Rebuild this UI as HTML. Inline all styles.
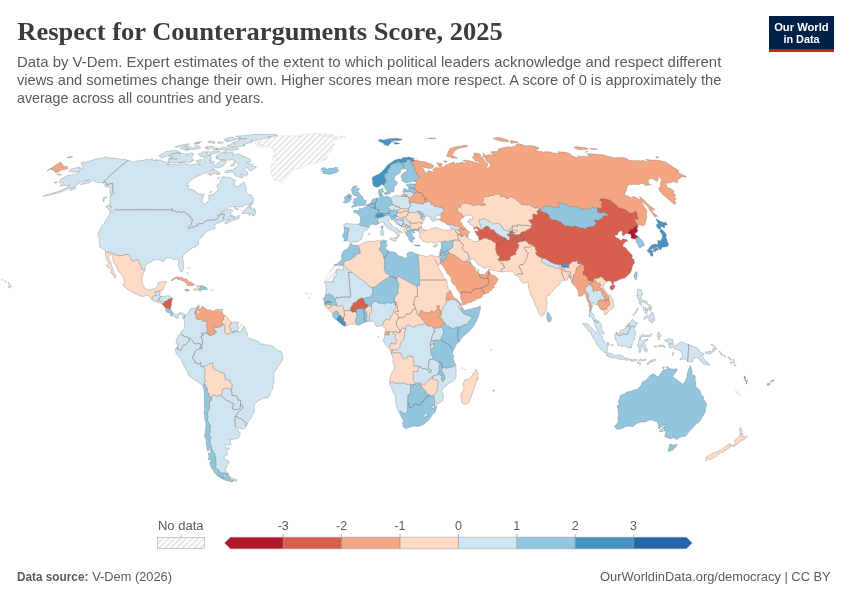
<!DOCTYPE html>
<html lang="en"><head><meta charset="utf-8"><title>Respect for Counterarguments Score, 2025</title>
<style>
html,body{margin:0;padding:0;background:#fff}
body{width:850px;height:600px;overflow:hidden;position:relative;font-family:"Liberation Sans",Arial,sans-serif}
svg{position:absolute;left:0;top:0;will-change:transform}
.t{font-family:"Liberation Serif","DejaVu Serif",serif;font-weight:700;fill:#444}
.s{font-family:"Liberation Sans",Arial,sans-serif;fill:#5b5b5b}
</style></head><body>
<svg width="850" height="600" viewBox="0 0 850 600">
<defs>
<pattern id="h" patternUnits="userSpaceOnUse" width="4.15" height="4.15" patternTransform="rotate(45)">
<rect width="4.15" height="4.15" fill="#fff"/><line x1="2.07" y1="-1" x2="2.07" y2="6" stroke="#e1e1e1" stroke-width="1.55"/>
</pattern>
</defs>
<g stroke="#6b6b6b" stroke-width="0.3" stroke-linejoin="round">
<path fill="url(#h)" stroke="#c9c9c9" d="M159.9,290.6 160.3,290.5 161.4,290.5 162.1,289.2 162.5,289.6 162,291.8 161.3,294.4 159.9,296 159.1,296 159.4,294.6 159.6,293.1 159.9,291ZM213.3,289.4 213.7,289.9 213,290.6 211.3,290.6 210,290.6 210,289.5 210.3,289.2 212.2,289.2ZM188.5,274 188.3,275.3 187.4,274 186.6,273.2 187.3,271.7 187.9,271.7ZM189.4,269.6 189.8,268.3 188.7,268 188.9,267 190.5,268 189.8,269.8ZM188.3,268 187.2,268 186.2,268.5 187.3,267.2 188.6,267.5ZM241,323.4 242.2,324.5 243.4,325.6 243.7,326.7 242.3,329.1 241.6,331.1 240.7,332.1 239.6,332.2 239.3,331.5 238.8,331.4 238,332.1 237.1,331.6 237.6,330.5 237.9,329.3 238.3,328.1 237.4,326.6 237.3,324.8 238.5,322.5 239.8,323ZM303.9,134.2 305.1,134.2 306.3,134.2 307.4,134.3 308.6,134.3 309.7,134 310.7,133.7 311.9,133.7 313.1,133.6 314.3,133.6 315.5,133.6 316.9,133.6 318.2,133.6 319.6,133.6 320.9,133.7 322.2,133.7 323.6,133.7 324.9,133.7 326.3,133.8 327.4,133.9 328.6,134.1 329.7,134.3 330.9,134.4 332,134.6 333.2,134.8 334.4,135 333,135.3 331.6,135.6 330.3,135.6 329,135.6 327.7,135.6 326.3,135.6 325.1,135.6 323.8,135.7 322.6,135.7 321.3,135.7 320.1,135.7 318.8,135.8 319.4,136.1 320.6,136 321.9,136 323.1,135.9 324.4,135.9 325.4,136 326.4,136.2 327.4,136.3 328.4,136.4 329.8,136.2 331.2,135.9 332.2,136.5 331.3,137 330.4,137.5 331.6,137.3 332.9,137.1 334.1,136.9 335.5,136.7 336.9,136.6 338.3,136.5 339.7,136.4 341.1,136.2 342.4,136.3 343.8,136.4 345.2,136.5 345.8,137.2 344.6,137.5 343.5,137.7 342.2,137.9 341,138.2 339.8,138.4 338.9,138.8 337.8,138.9 336.6,139 335.5,139 334.3,139.1 335.4,139.1 336.5,139.2 337.6,139.2 336.6,139.9 335.6,140.5 334.1,141.7 333.9,142.8 333.6,143.9 334.4,144.5 335.1,145.1 333.9,145.2 332.7,145.2 331.4,145.5 330.1,145.8 331.4,146.4 332.6,146.9 332.6,148.6 331.8,148.7 330.9,148.8 331.7,149.6 332.6,150.5 331.4,150.6 330.2,150.6 329,150.7 329.9,151.1 330.7,151.5 330,152.3 328.9,152.4 327.7,152.6 326.6,152.6 325.5,152.6 326.3,153.3 327.2,154 327,155 325.5,154.5 324,154.1 323,154.6 324,154.9 325.1,155.2 326,155.8 326.9,156.5 327.2,158.2 325.7,158.4 324.1,158.6 323.1,157.8 322.2,157.2 321.3,156.6 321.5,158 320.4,158.6 319.3,159.1 320.8,159.2 322.2,159.2 323.7,159.3 324.8,159.3 325.9,159.4 324.3,160 322.7,160.6 321.1,161.3 319.4,161.9 317.8,162.4 316.1,163 314.4,163.3 312.7,163.5 311,163.8 310,163.8 309.1,163.8 308.1,164.2 307.1,164.7 305.6,165.8 304,167 302.6,167.6 301.2,168.1 299.8,168.6 298.6,168.7 297.4,169 296.1,169.3 294.8,169.6 293.5,169.8 291.5,171.2 290.9,172.9 289.5,174.4 287.8,175.3 286,176.3 286.1,178.1 284.7,180.1 283,182.4 281.7,182.5 280.4,182.5 279.3,181.6 278.3,180.6 276.5,180.6 274.7,180.6 273.4,179.3 273,177 272,175.5 271.1,174 270.8,172.5 271.4,170.5 270.6,169.4 269.9,168.4 271.3,166.7 270.5,165.9 271.9,164.6 273.3,163.3 274.8,162.9 276.2,162.4 277.3,161.5 278.5,159.8 277.3,160.2 276.2,160.6 275.1,160.9 273.5,161.2 272.6,160.9 271.8,160.5 272.4,159 273.6,157.9 275.2,157.8 276.2,158 277.2,158.2 278.3,158.4 277.2,157.7 276.1,157.1 275,156.3 273.2,156.6 272.2,156.1 273.6,155.1 275,154.1 274.5,153.3 274.1,151.9 273.7,150.8 273.5,149.7 272.7,149.3 272,148.9 272.5,148 271.4,147.6 270.3,147.3 269.2,146.9 268.2,146.8 267.1,146.8 266.1,146.7 264.7,146.7 263.3,146.8 261.9,146.8 260.7,146.9 259.4,146.9 258.1,147 257.5,146.6 256.8,146.3 256,145.7 255.2,145.1 256.7,144.9 258.2,144.7 259.7,144.5 260.7,144.4 261.8,144.4 262.8,144.4 261.6,144.3 260.4,144.2 259.2,144.1 258,144 256.9,143.9 256,143.6 255.1,143.4 254.2,143.1 255.1,142.4 256.7,142.1 258.3,141.9 259.9,141.7 261.5,141.4 263,141.2 264.6,141 266.1,140.8 267.6,140.5 268.8,139.9 267.7,139.6 266.6,139.4 265.5,139.2 267.4,138.5 268.9,138.2 270.4,137.9 271.9,137.7 273.3,137.4 274.5,137.3 275.6,137.2 275.6,136.5 276.8,136.3 278.1,136.2 279.3,136 280.4,136 281.5,135.9 282.6,135.9 283.8,135.8 284.8,135.8 285.9,135.8 287,135.8 288,135.8 288.6,136 289.2,136.3 290.6,136 292.1,135.7 293.5,135.4 294.4,135.6 295.4,135.8 296.4,136 297.3,136 298.2,136.1 299.1,136.3 299.9,136.5 300.8,136.6 299.9,136.3 299,136.1 298,135.8 298.7,135.1 300,134.9 301.3,134.6 302.6,134.4ZM343.6,265.9 343.5,267.9 343.5,269.9 341.7,269.9 339.8,269.8 338,269.8 336.1,269.8 336.1,272 336.1,274.2 336.1,276.5 334,276.7 333.4,278 333.5,279.9 333.7,281.8 331.5,281.8 329.3,281.8 327.1,281.8 324.8,281.8 324.3,282.7 324.6,280.3 325.5,279.6 326.3,278.3 326.1,277.4 327,275.5 328.3,273.9 329,273.5 329.7,271.9 329.8,270.5 330.6,268.9 332.2,268 332.9,266.6 333.6,265.3 335.6,265.3 337.6,265.3 339.6,265.3 341.6,265.3 343.6,265.2ZM740,394.4 740.8,395.6 739.8,396.2 738.8,395.5 737.4,394.3 736.4,392.9 735.3,391.1 735.2,390.2 736.2,390.2 737.2,391.1 738,392 738.6,392.7Z"/>
<path fill="#d1e5f0" d="M151.9,299.6 152.3,298.2 152.1,297.7 153.4,295.6 154.9,295.6 156.4,295.6 156.5,294.7 155.5,293.6 154.5,292.5 155.5,292.5 155.7,291 157.8,291 159.9,291 159.6,293.1 159.4,294.6 159.1,296 159.9,296 160.5,296.5 161.4,296.5 160.2,297.4 159,298.2 159,299.2 158.4,299.9 156.6,301.7 155.3,301.4 154.1,301.2ZM162.1,296.1 164.4,296.4 166.5,295.7 168.8,295.8 170.2,296.2 171.4,297.3 172.8,298.4 172,298.4 169.9,299 168.7,298.9 167.9,300.1 166.7,301.1 165.8,300.9 165.3,301.6 164.2,301.6 164.2,302.9 163.5,303.5 162.8,303.6 162.4,302.8 161.7,302.6 162,301.5 161.3,301.1 160.2,301.4 159.1,300.1 158.4,299.9 159,299.2 159,298.2 160.2,297.4 161.4,296.5ZM173.8,313.5 174.9,314 175.5,314.6 176.6,314.4 177.7,313.8 179.1,313.2 179.9,312.5 181.2,312.6 182.4,313 183.3,313.4 184.1,314.2 184.9,314.9 184.6,315.3 185.1,316.8 184.6,317.6 183.9,317.4 183.5,318.7 182.8,318 182.3,316.5 182.9,315.8 182.4,315.7 182,314.8 180.9,314.1 179.8,314.2 179.3,315.2 178.4,315.8 177.9,315.9 177.6,316.4 178.7,317.8 178,318.2 177.7,318.6 176.6,318.7 176.2,317.1 175.9,317.6 175.2,317.5 174.8,316.4 173.8,316.2 173.2,315.9 172.3,315.9 172.2,316.5 171.9,316.1 172.1,314.6 172.1,313.9 172.7,312.7 173.1,312.6ZM222.6,309.1 223,309.2 222.8,311.2 220.9,311.4 220.5,311.2 221.2,310.5 221.2,309.5ZM186.1,315 187.9,313.2 188.9,312.9 188.9,312 189.5,309.8 190.9,308.6 192.3,308.6 192.5,308 194.3,308.2 196.2,306.9 197.1,306.3 198.4,305.1 199.1,305.2 199.7,305.9 199.2,306.8 197.7,307.2 197,308.5 196.1,309.3 195.4,310.3 195,312.1 194.3,313.7 195.4,313.8 195.7,315 196.2,315.6 196.3,316.7 196,317.6 196.1,318.2 196.6,318.4 197.1,319.3 198.6,319.2 200.1,319.1 201.4,319.4 203,321.6 203.9,321.4 205.6,321.5 206.9,321.2 207.7,321.6 207.2,323.1 206.7,323.9 206.5,325.8 206.9,327.6 207.5,328.3 207.6,328.9 206.4,330.2 207.2,330.8 207.8,331.7 208.5,334.3 208,334.6 207.6,333.1 207,332.3 206.2,333.2 203.9,333.2 201.7,333.1 201.7,334.7 203.1,335 203,336 202.5,335.7 201.2,336.2 201.2,338.1 202.2,339 202.6,340.5 202.6,341.7 202.2,344.1 201.9,346.5 201.7,348.8 200.5,347.5 199.8,347.4 200.5,346.1 201.2,344.7 199.4,343.5 198,343.7 197.2,343.3 195.9,344 194.2,343.6 193.5,342.3 192.8,340.9 191.7,340.2 189.4,337.8 188.8,338 187.8,337.4 186.7,336.5 186,336.9 184.1,336.6 183.5,335.4 183.1,335.5 180.8,334 180.5,333.2 181.4,333 181.3,331.7 181.8,330.7 183,330.5 184,328.9 184.9,327.5 184.1,326.9 184.6,325.4 184.1,323 184.7,322.3 184.4,320.1 183.5,318.7 183.9,317.4 184.6,317.6 185.1,316.8 184.6,315.3 184.9,314.9ZM233.9,322.5 234.2,322 236.1,321.8 237.3,322.2 238.5,322.5 237.3,324.8 237.4,326.6 238.3,328.1 237.9,329.3 237.6,330.5 237.1,331.6 235.7,331 234.6,331.3 233.7,331 233.5,331.8 233.8,332.3 233.6,332.8 232.4,332.6 231,330.4 230.7,328.9 230,328.9 229,327 229.5,325.6 229.4,325 230.8,324.3 231.2,322 232.6,322.2ZM183.1,335.5 183.5,335.4 184.1,336.6 186,336.9 186.7,336.5 187.8,337.4 188.8,338 189.2,340 188.5,341.7 187.2,343.1 186,344.4 184.6,344.9 183.2,345.4 181.9,347.7 181.5,349.5 180.2,350.6 179.2,349.2 178.3,349 177.3,349.2 177.4,347.8 177.6,346.5 178.7,344.6 178.2,343.4 177.4,344.6 175.9,343.5 176.4,342.8 176,340.4 176.8,340 177.2,338.3 178.1,336.7 177.9,335.6 179.2,335 180.8,334ZM177.3,349.2 178.3,349 179.2,349.2 180.2,350.6 181.5,349.5 181.9,347.7 183.2,345.4 184.6,344.9 186,344.4 187.2,343.1 188.5,341.7 189.2,340 188.8,338 189.4,337.8 191.7,340.2 192.8,340.9 193.5,342.3 194.2,343.6 195.9,344 197.2,343.3 198,343.7 199.4,343.5 201.2,344.7 200.5,346.1 199.8,347.4 200.5,347.5 201.7,348.8 199.6,348.7 199.3,349.1 197.4,349.6 196.1,350.5 194.8,351.4 194.7,352.6 194.1,353.5 194.4,354.9 193.1,355.7 193.1,356.8 192.5,357.3 193.6,359.6 194.9,361.2 194.5,362.3 196,362.5 197,363.9 199,364 200.8,362.4 200.8,364.4 200.9,366.4 201.9,366.7 203.2,366.2 204.3,368.4 205.4,370.5 205,371.3 205,373.2 205.2,375.4 204.4,376.7 204.9,377.7 204.4,378.6 205.6,380.8 205,382.2 204.4,383.6 203.9,384.9 202.8,385.6 201.6,384.8 200.4,384.1 200.1,383 197.7,381.7 195.3,380.4 193.1,379 190.9,377.5 189,375.9 187.9,373.8 188.2,373 187.1,371.3 186,369.6 184.7,367.2 183.4,364.8 182.2,362.2 181,359.5 180,358.3 179.2,356.4 177.3,354.7 175.6,353.7 176.3,352.5 175.1,350 175.8,348.2 177.6,346.5 177.4,347.8ZM221.9,392.7 221.8,391.3 222.7,389 224.6,388.6 226.6,388.2 228.7,388.2 230.9,389.6 231,390.4 231.8,391.8 231.9,393.6 232,395.4 233.2,395.6 234.4,395.9 235.3,395.4 236.9,396.1 237.4,396.9 237.8,399.3 238.2,400.3 239,400.4 239.8,400 240.7,400.4 240.8,401.9 240.7,403.4 240.4,404.9 240.3,407.2 238.5,409.3 236.8,409.7 235.5,409.5 234.2,409.3 233.1,408.9 231.9,408.5 232.7,406.6 233.6,404.6 233.1,403.4 231.9,402.9 230.7,402.4 229.2,401.4 227.8,400.5 225.9,400.1 223.6,397.9 221.3,395.8 221.6,394.2ZM236.6,416.4 237.9,417.4 239.2,418.4 240,418.3 241.3,419.1 242.5,420 244.5,421.4 246.1,423.2 245.3,424.5 246.2,425.9 245.5,427.6 244.4,428.3 243.3,429 241.6,428.5 240.5,428.8 238.2,427.7 236.8,427.7 235.2,426.3 235,424.6 235.4,424 234.9,421.4 235,420.1 235,418.7 235.2,416.7ZM231,477.5 232.6,478.3 234.2,479 235.7,479.4 237.2,479.7 236.8,480.9 235,481 233.7,480.2 232.5,480.1 231.5,480.1 230.4,480.1 229.6,478.2 228.8,476.4 228,474.5 229.3,475.7ZM227.8,400.5 229.2,401.4 230.7,402.4 231.9,402.9 233.1,403.4 233.6,404.6 232.7,406.6 231.9,408.5 233.1,408.9 234.2,409.3 235.5,409.5 236.8,409.7 238.5,409.3 240.3,407.2 240.4,404.9 241.4,404.4 242.7,405.9 242.9,408 241.2,409.5 239.9,410.5 238.8,411.8 237.7,413.1 236.5,414.9 235.2,416.7 235,418.7 235,420.1 234.9,421.4 235.4,424 235,424.6 235.2,426.3 235.3,427.7 236.9,428.8 238.5,429.9 238.6,431.7 240.1,432.8 240.3,434.1 239.6,435.8 238.9,437.5 237.5,438.2 236.1,438.9 234.7,439 233.3,439.2 231.9,439.4 230.7,439.3 229.5,439.2 230.3,440.7 230.4,442.6 231.1,444 230.1,444.9 229,445.1 228,445.2 225.7,444.3 225.1,444.9 226.1,447.5 227.8,448.3 228.7,447.5 229.7,448.8 228,449.6 226.8,451.3 227.3,453.8 227.2,455.2 225.3,455.2 224.1,456.5 224.2,458.5 226.8,460.3 228.9,460.9 229,463.1 228,463.9 227.1,464.6 227,466.1 226.9,467.6 225.4,468.6 225.1,469.7 225.9,471 226.7,472.4 228.7,473.8 227.8,473.7 225.8,473.3 224.2,473.2 222.5,473.1 220.9,473 219.4,471.5 218.7,469.6 217.4,469.8 216.3,468.9 215.7,467.5 215.1,466.2 216.2,465 216.2,463.4 215.5,462.1 215.8,459.9 215.5,458.3 215.3,456.6 214.6,455.1 215.3,454.6 214.7,453.6 213.6,453.1 213.9,452 212.6,451 211.9,449.5 211.2,448 211.8,447.5 211.2,445.9 210.5,444.4 210.3,443 210.2,441.7 210.1,439.4 211.1,438.4 209.8,435.9 209.2,433.5 210.4,431.8 209.8,429.6 210.4,427 209.9,424.6 209.2,424.2 208.2,421.9 207.2,419.7 207.6,418.3 208.1,417 207.4,414.4 207.8,412.1 208.8,409.6 210.1,408 209.3,407 209.7,406.1 209.3,403.9 209,401.7 210.2,401.1 211.3,400.5 211.5,399.1 211.8,397.7 211.4,397.1 213.1,394.7 214.6,395 216.1,395.4 217.6,397.2 218.3,395.1 219.6,395.2 220.9,395.2 221.3,395.8 223.6,397.9 225.9,400.1ZM244.5,326.6 245.1,328.1 245.7,330.3 246.3,332.6 247.5,333 247.6,334.9 245.8,337 246.6,337.8 248.6,338 250.6,338.2 250.8,340.8 252.5,339.1 253.9,339.6 255.4,340.1 257.3,340.9 259.2,341.7 260.4,343.2 260,344.6 261.4,344.2 262.7,343.8 265,344.5 267.2,345.2 268.9,345.2 270.7,345.1 272.4,346.2 274.1,347.3 275.6,348.7 277.1,350.2 278.9,351 280.9,351.1 281.7,351.9 282.1,353.6 282.5,355.2 283,356.8 282.5,359 282.1,361.1 281,362.8 279.4,364.7 277.9,366.5 277.2,368 276.5,369.4 274.9,371.7 274.3,371.8 273.8,373.7 273.9,376.1 274.1,378.6 273.9,380.5 273.7,382.4 273.5,384.3 272.9,385.4 272.8,387.1 272.7,388.9 271.7,390.6 270.6,392.3 270.5,393.6 270.4,395 268.6,396.1 268.2,397.7 267,397.7 265.8,397.7 264,398.2 262.3,398.7 260.8,399.9 259.6,400.2 258.3,400.6 257.1,401.7 255.8,402.7 254.2,405.3 254.1,407.2 254.6,408.7 254.5,410 254.5,411.3 254.1,412.6 252.7,414 251.8,416.3 250.9,418.6 249.3,420.7 247.9,422 247.4,424.5 246.2,425.9 245.3,424.5 246.1,423.2 244.5,421.4 242.5,420 241.3,419.1 240,418.3 239.2,418.4 237.9,417.4 236.6,416.4 235.2,416.7 236.5,414.9 237.7,413.1 238.8,411.8 239.9,410.5 241.2,409.5 242.9,408 242.7,405.9 241.4,404.4 240.4,404.9 240.7,403.4 240.8,401.9 240.7,400.4 239.8,400 239,400.4 238.2,400.3 237.8,399.3 237.4,396.9 236.9,396.1 235.3,395.4 234.4,395.9 233.2,395.6 232,395.4 231.9,393.6 231.8,391.8 231,390.4 231.7,389.8 231.3,388.4 231.8,387.2 232.1,385.1 231.4,383.5 230.1,382.8 229.8,381.8 230,380.2 227.8,380.2 225.6,380.1 225.1,378.6 224.5,377.1 225.2,377 225.1,375.9 224.6,375.1 224.4,373.6 223,372.9 221.6,372.9 220.5,372.1 219,371.6 218,370.6 216.7,370.4 215.4,370.2 214.1,369 212.8,367.9 212.9,366.1 212.5,365.1 212.7,363.1 211.2,363.4 209.7,363.6 208.5,364.6 206.6,365.6 206.1,366.4 204.9,366.5 203.2,366.2 201.9,366.7 200.9,366.4 200.8,364.4 200.8,362.4 199,364 197,363.9 196,362.5 194.5,362.3 194.9,361.2 193.6,359.6 192.5,357.3 193.1,356.8 193.1,355.7 194.4,354.9 194.1,353.5 194.7,352.6 194.8,351.4 196.1,350.5 197.4,349.6 199.3,349.1 199.6,348.7 201.7,348.8 201.9,346.5 202.2,344.1 202.6,341.7 202.6,340.5 202.2,339 201.2,338.1 201.2,336.2 202.5,335.7 203,336 203.1,335 201.7,334.7 201.7,333.1 203.9,333.2 206.2,333.2 207,332.3 207.6,333.1 208,334.6 208.5,334.3 209.7,335.7 211.5,335.5 212,334.7 213.7,334.1 214.7,333.7 215,332.6 216.6,331.8 216.5,331.3 214.5,331.1 214.2,329.4 214.4,327.7 213.4,327 213.8,326.7 215.5,327.1 217.3,327.7 218,327.1 219.7,326.7 221,326.2 222.3,325.7 223.2,324.7 222.9,324 224.1,323.9 224.6,324.5 224.3,325.6 225,326 225.5,327.2 224.9,328.2 224.5,330.4 225,331.7 225.2,332.9 226.6,334.1 227.7,334.3 228,333.8 228.7,333.6 229.8,333.2 230.5,332.5 231.8,332.7 232.4,332.6 233.6,332.8 233.8,332.3 233.5,331.8 233.7,331 234.6,331.3 235.7,331 237.1,331.6 238,332.1 238.8,331.4 239.3,331.5 239.6,332.2 240.7,332.1 241.6,331.1 242.3,329.1 243.7,326.7ZM8.6,286.1 8.8,285.8 9.3,285.3 9.2,284.8 9.4,284.6 9.6,284.6 10.3,285.1 10.7,285.3 11,285.6 11.3,286.6 11.2,286.7 10.2,287.3 9.4,287.7 9,288.1 8.5,287.7 8.7,287ZM7.9,282.8 8.2,282.6 8.9,282.9 9.4,283.3 9.1,283.6 8.4,283.8 8.1,283.2 7.9,283ZM5.7,281.9 4.9,281.9 4.8,281.3 4.7,281.1 5.4,280.8 5.6,281 6,281.8 5.8,282ZM2.2,279.4 2.7,279.5 2.6,280.1 2.3,280.4 1.6,279.9 1.8,279.7ZM120.7,209.8 122.7,209.8 124.7,209.8 126.8,209.8 128.8,209.8 130.8,209.8 132.8,209.8 134.8,209.8 136.9,209.8 138.9,209.8 140.9,209.8 142.9,209.8 144.9,209.8 146.9,209.8 149,209.8 151,209.8 153,209.8 155,209.8 157,209.8 159.1,209.8 161.1,209.8 163,209.8 165,209.8 166.9,209.8 168.8,209.8 170.8,209.8 171.3,208.8 172.1,208.8 171.7,210.4 172.2,210.6 173.5,210.9 175.3,211.2 176.9,212.1 178.8,211.6 179.8,212 180.9,212.4 181.5,212.4 183.7,211.6 185,212.5 186.4,213.4 187.8,214.3 189.2,215.2 189.1,216 189.3,216.5 190.2,216.7 191.1,217.5 190.7,218 191.6,218.7 192.5,219.3 192,221.5 191.5,223.7 190.2,225.5 187.9,227.8 189.1,228.6 190.5,227.9 191.9,227.3 193.1,227 194.4,226.8 196,226.1 197.6,225.5 197.7,224.5 197.5,223.9 198.6,223.7 200.6,223.7 202.6,223.7 203.9,222.4 205.9,221.2 207.9,220.1 209.5,220.1 211.2,220.1 213.1,220.1 214.9,220.1 215.4,219.4 216.9,219 218.2,217.8 219.5,215.7 221.8,213.9 222.2,214.4 223.8,213.9 224.4,214.7 223.8,216.5 223.2,218.3 224.1,219.8 224.2,220.6 222.9,221.2 221.6,221.9 219.9,222.4 218.3,222.9 216.7,223.4 214.5,225.5 214.5,227 215.3,227.8 215.2,228.7 213.8,229.1 212.8,229.1 210.9,229.6 210.1,230.1 208,230.8 206,231.4 204.7,233.8 202.7,235.8 201.9,235.6 201.9,237.2 200.2,238.5 199,240.1 198.2,240.9 198.7,242 198.5,244.6 196.4,246.6 194,247.3 192.5,248.1 191,248.9 188.7,250.7 186.4,252.6 184.6,253.6 183.6,255.5 182.6,257.3 182.6,259.1 183.1,261.1 183.6,263 183.7,265.1 183.7,267.2 183.4,269.1 182.3,271.7 180.5,271.7 179.7,269.8 178.9,267.8 178.4,266.2 178,264.6 178.8,263 178.6,261.5 177.3,259.4 176.5,258.9 175,259.4 173.6,259.9 172.6,259 171.6,258.1 169.4,258.1 167.1,258.1 164.8,258.6 164.2,261.2 162.4,261.5 161,260.7 159.6,259.9 157.9,259.8 156.1,259.6 154.4,260 152.6,260.4 151.6,261.7 149.6,262.7 147.6,263.6 145.3,265.9 145.2,267.9 145,269.9 144.2,270 142.7,269.3 141.2,268.5 140.9,267.1 140.7,265.7 139.7,264.1 139.2,262.4 138.8,260.7 137.3,259.6 135.5,259.6 133.6,261.7 132.2,261 130.9,260.2 130.5,257.6 129.3,256 128.1,254.5 126.2,254.5 124.4,254.5 124,255.7 121.9,255.7 119.9,255.7 117.8,255.7 116,254.9 114.1,254.1 112.3,253.4 110.5,252.6 110.9,252.1 109.1,252.2 107.2,252.3 105.4,252.5 105.5,251.3 104.6,250.3 103.8,249.3 102.7,248.7 101.3,247.9 99.9,247.1 99.5,244.5 99.2,241.9 99.3,240.3 99.4,238.7 98.7,237.2 98.1,235.6 98.3,233.9 98.5,232.2 100,230.1 100.9,227.9 101.8,225.7 104,223.4 105.3,221.3 106.7,219.1 108.1,217 109,215.2 109.6,213.3 110.2,211.4 111.5,211.9 112.8,212.4 114.3,211.9 115,209.8 116.9,209.8 118.8,209.8ZM69.9,189.9 70.9,188.7 73.3,187.9 74.9,187.5 75.8,187.7 76,188.4 73,189.6 70.1,190.6ZM54.1,182.7 54.7,182.1 56,182 57.3,181.8 57.2,182.6 55.2,183.1ZM106.4,182.6 106.7,183.7 106.7,185.3 109.9,183.8 112.5,183.1 112.2,184.4 112.5,185.4 113.2,186.5 112.8,188.2 112.5,189.6 112.2,191 113.1,191.8 114.1,192.6 112.8,194.1 110.8,195.3 110.5,194.3 110.2,193.3 109.9,192.3 110,190.9 110.2,189.4 109.9,188.2 109.7,187 108.2,187 106.7,187 105.9,186.6 105.1,186.2 104.6,185.4 104.1,184.6 103.6,183.8 103.1,183.3 102.5,182.9 101.3,182.6 100.1,182.4 98.7,182.5 97.3,182.6 96.1,182.1 94.9,181.5 94.4,181 93.9,180.5 92.6,180.7 91.3,181 89.8,182.7 87.9,183 86,183.3 83.5,184.1 82,184.3 80.6,184.5 83.2,182.9 85.4,181.2 87.6,180.5 89,179.8 86.9,180 85.5,180.4 84.1,180.7 81.2,182.1 77.1,184.2 77.2,185.3 73.5,187.1 71.5,187.7 69.5,188.3 67.6,188.9 65,190 62.5,191.2 59.9,192.3 58.4,192.8 56.8,193.3 55.1,193.7 53.5,194.1 51.8,194.5 50.2,195 48.7,195.4 47.2,195.7 45.2,196 43.2,196.3 44.2,195.4 45.7,195 47.2,194.5 48.8,194.2 50.3,193.8 51.8,193.4 53.3,192.9 54.9,192.5 56.5,192 59.3,190.9 62.2,189.9 65.5,188.4 67.8,186.8 70.3,185.3 68.7,185.4 67.2,185.5 65.7,185.3 64.1,185.2 62.1,185.6 60,186 63.1,183.6 63.1,182.6 61.4,182.9 59.8,183.1 59.5,182.3 59.3,181.4 60.9,179.1 63.4,177.6 65.9,176.4 68.5,175.2 70.1,175.1 71.7,174.9 73.3,174.6 74.9,174.4 78.1,172.7 80.1,171.3 79.1,171.3 77.2,171.7 75.3,172 73.9,172 72.5,172 71.1,172 70.3,171.8 69.4,171.6 69.7,170.4 70,169.3 72.3,168.8 74.6,168.2 76.9,167.7 78.7,167.4 80.5,167.2 78.8,168.4 80,168.4 81.2,168.4 82.4,168.4 82.9,167 82.5,166.5 82,166.1 82.4,165 81.8,164.4 81.3,163.8 80.7,163.3 83.5,162.1 85,162.1 86.5,162.1 88.3,161.5 90.1,161 92.6,160 95.1,159 97.1,158.7 99.1,158.5 101,158.2 103,157.9 105.1,157.3 107.3,156.7 107.8,157.2 108.4,157.7 109,158.1 110.2,158.1 111.5,158 112.7,157.9 113.9,158.1 115,158.3 116.1,158.4 117.3,158.6 118.4,158.8 119.4,159 120.4,159.2 121.3,159.4 122.6,159.4 123.8,159.4 125,159.3 125.9,159.7 126.8,160.1 127.8,160.5 125.3,162.5 122.9,164.5 120.5,166.5 118.1,168.6 115.5,170.9 112.9,173.2 110.3,175.5 108,177.6 105.8,179.8 103.5,181.9 105.4,181.9ZM56.6,174.7 57.6,173.8 58.8,173.8 60,173.9 60.8,174.4 61.6,174.8 59,175.5 58.6,175.1 58.2,174.7ZM107.9,207.8 107.1,207.6 106.2,207.3 106.4,206 107,205.3 107.8,205.6 108.7,205.9 109.6,206.3 111.3,206.5 111.5,207.3 111.7,208.6 112.9,209.7 112.8,211.1 111.6,211.4 110.2,210.9 108.9,210.4 108.9,209.3 107.7,208.6ZM103.2,199.5 102.9,198.7 103.5,197.7 104.2,196.9 104.8,197.3 106.9,197 105.4,198.4 104,199.8 104.1,201.8 103.3,201.8 103,200.7ZM112.5,185.4 112.2,184.4 112.5,183.1 109.9,183.8 106.7,185.3 106.7,183.7 106.4,182.6 105.4,181.9 103.5,181.9 105.8,179.8 108,177.6 110.3,175.5 112.9,173.2 115.5,170.9 118.1,168.6 120.5,166.5 122.9,164.5 125.3,162.5 127.8,160.5 129.2,160.6 130.7,160.7 131.3,161.3 132,161.9 133.4,162.1 136,161.2 137.4,160.9 138.8,160.5 139.9,160.6 141,160.7 142.8,160.3 144.5,159.9 146.3,159.5 148,159.2 148.1,160.1 149.8,159.6 151.6,158.6 152.5,158.8 152.7,159.8 152.9,160.7 154.9,160 156.9,159.2 155.1,161 156.4,160.7 157.6,160.5 159,159.9 159.9,160 160.8,160.1 161.6,160.5 162.5,161 163.5,161.3 164.5,161.6 165.4,161.9 166.4,162.1 167.3,162.3 169.2,162.1 169.8,162.6 170.3,163.2 168.6,163.7 166.9,164.3 168.2,164.5 169.5,164.7 171.1,164.7 172.7,164.6 174.3,164.5 176.3,164.1 176.7,165.4 178.2,164.9 179.6,164.3 178.8,163.4 180.6,162.5 181.7,162.5 182.7,162.5 184.3,162.3 185.3,162.7 185.8,164.1 186.8,164 187.8,163.9 188.8,164.4 189.8,165 191.3,164.7 192.9,164.5 194.2,164.5 195.4,164.5 196.2,163.2 198.1,162.7 199.1,163.2 200.1,163.6 198.4,165.6 200.9,163.9 202.3,163.9 204.9,161.6 204.6,161 204.2,160.3 203.6,159.9 202.9,159.4 204.1,158.2 205.3,157.1 206.9,156.3 208.6,155.6 209.6,155.7 210.5,155.8 211.2,156.8 211.3,158 211.4,159.2 209,160.3 210.4,160.5 211.8,160.7 210,163 211.8,162.1 213.7,161.2 214.1,162 214.5,162.7 212.8,164.3 213.3,165.9 214.7,165.1 216.2,164.3 218.9,162.3 219.9,161.1 220.9,159.9 221.9,160 223,160.1 224.2,160.2 225.4,160.3 226,160.9 226.7,161.4 226.1,162.5 223.9,163.9 224.2,165 223.3,166.1 221.1,166.9 218.9,167.7 217.6,167.8 216.4,167.9 215.6,167.6 214.9,167.2 213.6,168.4 210.6,170.4 209.4,171.3 207.8,172.1 206.2,173 204.8,173.1 203.5,173.2 201.4,174.1 200.3,175.5 199.1,175.8 198,176 196.1,176.9 194.3,177.9 192.5,179.2 190.6,180.5 188.6,182.4 187.5,183.8 186.4,185.3 187.7,185.4 189.1,185.5 188.2,187.9 188.1,189.6 189.6,189.4 191,189.2 192.5,189.7 194,190.3 195.3,191.1 196,192.3 196.9,192.7 197.8,193.1 198.6,193.6 199.4,194.1 200.9,194.2 202.3,194.3 203.4,194.4 204.4,194.4 203.1,196.5 202.4,199 202.4,200.4 202.4,201.8 203.2,203 204.1,204.3 206.1,203.5 207.2,202.1 208.4,200.8 208.8,198.9 209.2,197 208.6,195.5 210.4,195 212.2,194.5 213.7,193.7 215.2,192.8 217.3,191.1 218,189.4 217.7,187.3 217.1,186.4 216.5,185.5 218.3,184.2 220.1,183 220.5,180.7 221.3,178.9 222,177.2 223.7,176.6 225,176.9 226.4,177.2 228,177.4 229.9,176.9 231.2,177.6 231.9,178.3 232.6,179.1 232.6,180 234.3,180 235.9,180 234.8,182.1 234.3,183.6 233.9,185 235.3,185.5 236,187 237.7,186.2 239.4,185.5 241,184.2 242.6,182.9 244.1,181.9 244.6,184.1 245.1,185.5 245.7,187 246.1,188.5 246.5,190 245.1,191.6 246,192.2 247,192.8 248.2,194.3 249.6,194.7 251,195 252.1,195.8 252.1,197.8 253.3,198.3 253.9,199.1 253.4,200.6 253,202 251.4,202.8 249.6,203.8 247.8,204.2 246,204.5 244.4,205.7 242.8,206.8 241.1,206.9 239.3,207.1 237.9,206.9 236.5,206.7 235.1,206.5 233.6,206.5 232.1,206.5 230,206.8 227.8,208.6 226.3,209.1 224.8,209.6 222.7,211.4 220.5,213.2 219,214.3 217.4,215.5 219.3,214.9 221.5,213.3 223.7,211.6 225.4,210.9 227.1,210.3 228.7,209.6 230.3,209.5 231.8,209.3 233.1,210.6 230.7,212.2 230.6,213.6 230.4,214.9 230.4,217 231.5,217.6 232.7,218.3 234.5,218 236.3,217.8 237.8,216.4 239.2,214.9 238.9,216.7 239.8,217.8 238.4,218.5 236.9,219.3 235.2,219.8 233.5,220.3 231.8,220.8 229.4,221.9 227.9,222.9 226.3,223.9 225,223.7 225.5,221.4 227.7,220.3 229.9,219.3 228.2,219.3 226.6,219.3 225.3,219.6 224.1,219.8 223.2,218.3 223.8,216.5 224.4,214.7 223.8,213.9 222.2,214.4 221.8,213.9 219.5,215.7 218.2,217.8 216.9,219 215.4,219.4 214.9,220.1 213.1,220.1 211.2,220.1 209.5,220.1 207.9,220.1 205.9,221.2 203.9,222.4 202.6,223.7 200.6,223.7 198.6,223.7 197.5,223.9 197.7,224.5 197.6,225.5 196,226.1 194.4,226.8 193.1,227 191.9,227.3 190.5,227.9 189.1,228.6 187.9,227.8 190.2,225.5 191.5,223.7 192,221.5 192.5,219.3 191.6,218.7 190.7,218 191.1,217.5 190.2,216.7 189.3,216.5 189.1,216 189.2,215.2 187.8,214.3 186.4,213.4 185,212.5 183.7,211.6 181.5,212.4 180.9,212.4 179.8,212 178.8,211.6 176.9,212.1 175.3,211.2 173.5,210.9 172.2,210.6 171.7,210.4 172.1,208.8 171.3,208.8 170.8,209.8 168.8,209.8 166.9,209.8 165,209.8 163,209.8 161.1,209.8 159.1,209.8 157,209.8 155,209.8 153,209.8 151,209.8 149,209.8 146.9,209.8 144.9,209.8 142.9,209.8 140.9,209.8 138.9,209.8 136.9,209.8 134.8,209.8 132.8,209.8 130.8,209.8 128.8,209.8 126.8,209.8 124.7,209.8 122.7,209.8 120.7,209.8 118.8,209.8 116.9,209.8 115,209.8 114.2,209 113.3,208.2 112.5,207.3 111.8,206.3 110.4,205.8 109,205.3 109.4,203 110.9,201.5 110.1,201 109.3,200.4 110.5,198.4 110.1,197.5 109.7,196.5 110.8,195.3 112.8,194.1 114.1,192.6 113.1,191.8 112.2,191 112.5,189.6 112.8,188.2 113.2,186.5ZM202.6,161.6 200.8,162.3 200,162 199.2,161.6 197.6,162 196.9,161.5 196.1,161 198.2,160.3 200.1,159.4 201.4,159.9 202,160.3ZM191.7,161.6 190.5,162.4 189.1,162.2 187.7,162.1 186.5,161.7 185.3,161.4 184.3,161.5 183.3,161.6 181.4,162 179.5,162.3 177.9,162.4 176.3,162.6 174.7,162.7 173.2,162.8 171.6,163 171.7,161.9 170.9,161.5 170.1,161.2 168.4,161.4 168.3,160.6 168.1,159.7 169.4,159.5 170.9,159.3 172.4,159.1 173.5,159.2 174.7,159.2 175.9,159 177.2,158.8 175.8,158.6 174.5,158.3 173.2,158.4 172,158.5 170.7,158.6 169.6,158.5 168.5,158.5 170.9,157.7 173.3,156.8 172,156.8 170.7,156.8 169.6,156.6 168.5,156.3 171.7,154.7 173.8,153.9 175.7,153.4 177.6,153 179.6,152.6 180.2,152.8 180.8,153 178.8,154 180.3,153.7 181.7,153.5 183.1,153.3 183.6,153.8 184.2,154.4 185.7,153.8 187.2,153.3 187.9,154 187,156.1 188.7,155.2 189.3,154.1 189.9,153 191.1,152.8 192,153.2 192.9,153.5 193.8,153.9 192.7,155.7 191.6,157.5 192.3,158.1 193.1,158.8 193.8,159.4 194.3,160.5 192.9,160.6 191.5,160.7ZM205.7,156.1 203.9,156.5 202.2,156.9 200.8,156.7 200.5,155.9 199.7,155.4 198.8,154.8 198,154.3 198.8,153.6 199.8,153.7 200.8,153.8 201.8,153.9 201.7,153.2 201.5,152.5 202.8,152 204.2,151.6 204.9,151.8 205.7,152 207.3,151.8 208.9,151.6 208.7,152.2 206.2,153.2 207,153.7 207.8,154.2ZM171.2,154.2 169.3,155 167.4,155.7 166.3,156.7 164.5,157 162.7,157.4 160.8,157.7 161.1,156.8 160.3,156.4 159.5,156 158.7,155.6 160.5,154.7 163.5,153.2 165.1,151.8 167,151.5 168.8,151.1 170.2,151 171.6,150.9 173,150.8 174.4,150.6 175.6,150.7 176.8,150.7 178,150.7 178.5,151.2 179,151.7 179.5,152.2 178.2,152.5 176.9,152.8 175,153.3 173.1,153.7ZM189.5,148.8 188,148.8 186.6,148.9 185.1,148.9 183.6,148.9 182.2,149 181.3,148.8 180.5,148.6 182.8,147.7 185.2,146.7 187.4,146.1 188.5,146.3 189.6,146.6 190.8,146.8 191.4,147.4 192,148 193.2,148.1 194.5,148.1 194.6,147.2 194.7,146.2 197.1,145.5 197.7,145.6 198.3,145.7 197.6,146.7 198.6,146.8 199.6,146.9 200.5,147.1 200.8,147.5 199.7,148.1 197.6,149.1 196.2,149.2 194.8,149.2 193.4,149.3 192,149.4 190.3,149.7 188.7,150 187,150.3 185.8,150.3 184.6,150.3 185.2,149.7 186.6,149.4 188.1,149.1ZM207.6,147.8 206.2,147.9 204.8,148 206.6,146.4 207.4,146.4 208.1,146.5 209.6,146.5 211.2,146.5 212.5,146.5 213.8,146.6 212.7,147.6 210.3,149.1 208.9,149.2 207.5,149.3 206.8,149.1 206.2,149ZM187.1,145.3 184.9,146 183.4,146.1 181.4,146.5 179.3,147 178.1,147 176.8,147.1 175.9,147 175,146.8 177.4,146.1 179.7,145.4 181.4,145 183,144.5 184.6,144.1 185.8,144.1 186.9,144.1 188.2,144 189.4,143.8ZM196,143.1 195.2,142.6 197,142.3 198.7,142 200.4,141.7 201,141.8 201.7,142 200.5,142.2 199.3,142.4 197.8,142.7 196.2,143 197.1,143 198.1,142.9 198.9,143 199.7,143.2 198.5,143.7 196.7,144 194.9,144.3 194.3,144 193.7,143.7 195.7,143.1ZM218.6,141.5 219.8,141.7 220.7,141.9 221.6,142.1 222.5,142.4 223.5,142.6 221.9,143 220.3,143.5 219.2,143.5 218.1,143.5 217.5,143 217.6,142.3ZM210.7,142.6 209.7,142.5 208.8,142.5 207.8,142.4 210,141.8 209.4,141.7 208.8,141.5 209.7,140.7 210.8,140.9 211.9,141.1 213,141.3 214.1,141.5 215.2,141.7 215,142.6 214.7,143.4 213.6,143.3 212.5,143.2 211.6,142.9ZM231.3,216.5 231,215.6 232.1,214.9 232.4,216.1 233.8,216.5 235.7,216.4 234.3,217.5 233.6,217.6 232.4,217ZM253.4,208.4 255.2,209.2 254,211.1 255.6,210.6 255.4,212 255.6,213.7 254.2,215.8 253.3,216 252,215.5 253,213.4 252.6,213 251.1,214.1 249.6,215.2 248.4,215.2 250.2,213.9 248.4,213.4 247.3,213.4 246.2,213.5 244.2,213.4 242.2,213.4 242.2,212.6 243.7,211.8 243.1,211.1 245.2,209.6 246.8,207.6 248.5,205.5 250.3,204.1 252.3,203.2 253.2,203.3 252.5,204 251,205.5 248.9,207.8 250.5,206.9 251.7,207.6 250.8,208.3 252.4,209.1ZM234.9,208.8 233.5,207.6 234.3,207.4 235.5,207.7 236.7,208.1 237.5,208.6 238.4,209.1 238.3,209.6 237.3,209.6 236.1,209.2ZM211.1,192.6 209.9,192.7 210.4,191.8 212.1,191.1ZM218.4,178.7 217.6,178.6 217.6,177.9 219.7,177.5ZM218.3,173.2 219.7,173 220.5,173.8 218.5,174.6 217.2,174.3 216,174 215.7,173 213.1,174.2 211.5,174.8 209.8,175.4 210.1,174 208.8,174.1 207.5,174.3 209.9,173.1 211.4,171.3 213.4,169.2 214.5,169.4 214.1,170.4 215.3,170 215.9,170.6 216.6,171 217.3,171.4 218.1,171.8 218.9,172.1ZM234.4,165.4 232.6,166.1 230.8,166.1 231.1,165 232.7,163.7 234.5,163.4 235.4,164.1 234.8,165ZM246.1,176.3 245.1,176 244.1,175.6 242.9,175 241.8,174.4 240.6,173.8 241.4,174.8 242.1,175.8 242.7,176.5 243.3,177.2 243.1,178 241.7,177.7 240.2,177.4 238.7,177.1 237.7,176.6 236.6,176.2 235.6,175.8 234.8,175.2 234.1,174.6 235,173.9 234,173.3 233.1,172.7 232.2,172.1 231.3,171.6 230.9,172.3 229.1,172.4 227.3,172.5 225.5,172.7 224.5,171.9 226.7,170.2 228.4,170.1 230,170.1 231.9,170 233.7,169.8 233.7,169 235.1,167.9 236.8,166.8 238.6,165.6 238.7,164.7 238.6,163.9 237.6,163.4 236.7,162.8 235.7,162.6 234.7,162.3 233.7,162.1 235.2,161.5 234.7,160.8 234.3,160.2 232.8,160.1 232.2,159.3 230.8,159.9 229.2,160.1 227.6,160.2 226.2,160.1 224.8,160 223.4,159.8 222,159.7 220.9,159.5 219.9,159.3 218.9,159.1 217.7,158.9 216.4,158.8 215.8,158 218.2,157.1 217,157.1 215.9,157.1 217.3,154.9 220.3,153 222.6,152.2 224.2,152 225.7,151.8 227.3,151.6 224.9,152.9 225,154.3 227.9,152.6 229.5,152.3 231.1,152 232.7,151.7 233.2,152.8 233.6,153.9 232.3,155.2 234.1,154.9 236,154.6 238.2,153.8 239.1,154.1 240,154.5 240.9,154.8 241.7,155.3 242.4,155.8 241.9,156.8 243.6,156.5 245.3,156.3 245.7,157 246.1,157.7 247.2,158 248.3,158.3 249.4,158.6 250.4,159.4 250.8,161.4 248.9,162 247,162.5 248.1,163 249.1,163.4 250.2,163.9 251.4,164.2 252.6,164.4 253.3,165.5 253.9,166.5 255.3,166.6 256.6,166.6 255.2,168.2 253,169.5 250.8,170.9 250,170.4 249.1,170 248.4,168.8 247.6,167.7 246.4,167.8 245.2,168 244.3,169.3 244.8,170 245.3,170.6 246.3,171.2 247.2,171.7 247.6,172.3 247.6,173.4 247.6,174.6ZM214.2,150.9 215.3,150.9 216.3,150.9 217.4,150.9 218.7,151.2 220,151.4 217.9,152.4 215.9,153.3 214.7,153.5 213.5,153.7 211.9,154.5 210.3,155.3 209.5,155.3 208.6,155.2 209.3,153.4 210.4,152.3 212.1,151.4ZM213.2,148.4 214.2,147.9 215.5,147.8 216.8,147.8 217.4,148.1 218,148.5 217.1,149.2 215.9,149.4 214.6,149.7 213.8,149.5 213,149.2ZM230.9,147.7 232.4,147.6 233.9,147.5 235.4,147.5 236.7,147.6 238.1,147.7 238.5,148.4 238.7,149.2 237.3,149.6 235.9,149.9 234.5,150.2 233.6,150.1 232.8,150 231.2,150.1 229.5,150.2 227.9,150.3 226.9,150.3 225.8,150.3 224.7,150.3 223.8,150.2 222.8,150 221.9,149.9 220.9,149.8 219.9,149.7 218.9,149.4 217.3,149.7 215.7,149.9 217.4,149.1 219.1,148.5 220.8,147.9 222.7,146.9 223.6,147.2 224.6,147.5 225.5,147.9 225,147.4 226,147.6 226.9,147.8 227.8,148 229.4,147.8ZM242.7,135.6 244.1,135.4 245.5,135.1 246.3,135.1 247.1,135.2 247.5,135.4 248,135.6 250.1,134.8 251.1,134.6 252.2,134.5 253.5,134.4 254.8,134.3 255.9,134.3 257,134.3 258,134.3 259.1,134.3 259.6,134.5 261,134.4 262.4,134.3 263.8,134.2 264.8,134.2 265.7,134.3 266.7,134.3 267.6,134.3 268.6,134.4 269.5,134.4 270.7,134.4 271.9,134.5 273.1,134.5 274,134.6 274.9,134.6 275.8,134.7 276.9,134.9 277.9,135.1 277.5,135.5 276.2,135.7 274.8,136 273.5,136.2 272.3,136.3 271.1,136.4 269.8,136.5 268.2,136.9 269.2,136.9 270.2,136.9 271.3,136.9 269.9,137.2 268.4,137.5 267,137.9 265.6,138.1 264.3,138.4 262.4,139.1 260.4,139.8 259.4,139.9 258.3,140 257.2,140.1 255.9,140.5 254.7,140.5 253.6,140.6 252.4,140.6 251.3,140.7 252.2,140.8 253,140.9 251.7,141.2 252,142.2 249.9,142.8 248.5,143.1 247.1,143.4 245.7,144.1 244.3,144.4 243,144.7 242.8,145.1 244.1,145.1 245.4,145.1 245,145.5 243.3,145.9 241.6,146.3 239.8,146.7 238.7,146.5 237.5,146.4 236.4,146.2 234.8,146.3 233.2,146.4 231.6,146.5 230.6,146.4 229.6,146.2 228.2,146.2 226.8,146.1 227.6,145.2 229.3,145 230.9,144.8 231.7,143.4 232.8,143.2 233.8,143.5 234.8,143.8 235.8,144.1 235.5,143.4 235.1,142.8 234.1,142.6 233.1,142.5 235.2,141.7 236.7,141.5 238.3,141.3 239.4,140.6 238.8,140.3 238.2,139.9 238.7,139 240,139 241.2,139 242.5,139.1 243.5,139.2 244.9,138.9 246.4,138.6 245.4,138.6 244.4,138.5 243.4,138.4 242.1,138.5 240.8,138.5 239.5,138.5 238.3,138.6 239.5,138.1 240.8,137.7 239.7,137.5 238.6,137.3 237.5,137.1 236.9,136.8 236.2,136.5 235.5,136.2 236.7,136.1 238,136 238.8,135.9 239.7,135.9 241.2,135.8ZM224.3,140 224.5,139.1 226.4,138.5 228.2,137.9 229.8,137.7 229.6,137.4 230.8,137.4 231.9,137.3 233,137.3 233.4,137.7 233.7,138.2 234.7,138.4 235.7,138.5 236.6,138.7 237.6,138.9 235.8,139.5 233.8,140.1 231.9,140.7 230.1,141.1 228.2,141.4 226.4,141.7 226,141.1 227.8,140.6 226.5,140.6 225.1,140.6 224.7,140.3ZM393.9,205.3 395.4,205.5 395.4,206.2 396.5,206.8 396.7,206.1 398.1,206.4 398.4,207.2 399.9,207.3 400.9,208.6 400.3,208.6 400.1,209 399.6,209.2 399.5,209.7 399.2,209.8 399.1,210.1 398.5,210.4 397.6,210.3 397.3,210.9 396.4,210.4 395.4,210.5 393.8,209.7 393.1,209.9 392,211 390.5,210.2 389.3,209.1 388.2,208.4 387.9,207.4 387.5,206.6 388.9,206.1 389.6,205.5 391,205 391.5,204.5 392,204.8 392.9,204.5ZM402.4,218.7 403.1,219.5 402.4,220.4 401.4,219.9 400,219.9 398.2,219.5 397.2,219.5 396.8,220.1 396,219.5 395.7,220.5 396.8,221.7 397.3,222.5 398.3,223.5 399.2,224.1 400,225.2 402,226.1 401.8,226.6 399.7,225.6 398.4,224.7 396.5,223.9 394.6,222 395,221.8 393.9,220.7 393.8,219.9 392.5,219.5 391.9,220.6 391.3,219.7 391.2,218.8 391.3,218.8 392.8,218.9 393.1,218.5 393.9,218.9 394.7,218.9 394.6,218.2 395.3,217.9 395.4,216.9 397,216.2 397.7,216.5 399.3,217.6 401.1,218.1 401.8,217.7ZM403.1,220.4 402.7,221.6 403.8,222.5 403.6,223.8 403.2,223.9 402.8,224.1 402.2,224.7 402,226.1 400,225.2 399.2,224.1 398.3,223.5 397.3,222.5 396.8,221.7 395.7,220.5 396,219.5 396.8,220.1 397.2,219.5 398.2,219.5 400,219.9 401.4,219.9 402.4,220.4ZM404.4,226 403.6,227.3 403.8,228.1 403.4,227.9 402.7,227.1 401.8,226.6 402,226.1 402.2,224.7 402.8,224.1 403.2,223.9 403.7,224.3 404.1,224.7 404.8,224.9 405.6,225.5 405.5,225.7 405.2,226.3 404.6,226.5ZM406.2,227.2 405.7,227 405.2,226.3 405.5,225.7 406,225.5 406.2,224.7 406.5,224.5 406.9,224.9 407.3,225 407.6,225.5 408,225.6 408.4,226.1 408.7,226.1 408.5,226.7 408.3,227 408.4,227.2 407.9,227.3 406.7,227.7 406.7,228.2 406.4,228.2ZM406.7,228.2 406.7,227.7 407.9,227.3 408.4,227.2 409.1,227 410.1,227 411.2,227.8 411.5,229.5 411.1,229.6 410.8,230.1 409.7,230 408.9,230.6 407.6,230.8 406.6,230.2 406.2,229.1 406.4,228.2ZM403.3,217.1 404.6,217.2 405.8,218.2 406.1,219 407.4,219.6 407.7,220.7 409,221.4 409.6,220.8 410.2,221.2 409.7,221.6 410.1,222.1 409.7,222.6 410,223.6 411.1,224.7 410.4,225.5 410.1,226.3 410.4,226.6 410.1,227 409.1,227 408.4,227.2 408.3,227 408.5,226.7 408.7,226.1 408.4,226.1 408,225.6 407.6,225.5 407.3,225 406.9,224.9 406.5,224.5 406.2,224.7 406,225.5 405.5,225.7 405.6,225.5 404.8,224.9 404.1,224.7 403.7,224.3 403.2,223.9 403.6,223.8 403.8,222.5 402.7,221.6 403.1,220.4 402.4,220.4 403.1,219.5 402.4,218.7 401.8,217.7ZM406.9,195.8 407,195.1 406.1,194.7 405,194.5 404,194.3 403.3,192.3 404.3,191.9 405.4,191.5 407,191.6 408.6,191.7 410.4,191.4 410.8,191.9 411.8,192.1 413.8,193.3 414.2,194.4 412.8,195.2 412.6,196.6 411.6,197 410.6,197.5 408.7,197.5 408.1,196.7 407.1,196.5ZM369.6,234.8 368.1,234.2 369.6,233.1 370.4,233.7ZM363.7,226.3 364.5,225.7 365.7,226.3 366.8,226.9 368.1,226.8 369.3,226.6 369.4,228.1 367.4,229.8 366.1,230.1 364.7,230.4 364.5,231.2 363.2,232.7 362.4,234.8 363.2,236.3 362,237.5 361.5,239.2 359.9,239.7 358.3,241.7 356.7,241.7 355.1,241.7 353.5,241.7 352.2,242.6 351.3,243.6 350.3,243.4 349.5,242.5 348.9,241 346.9,240.6 346.7,239.7 347.6,238.7 347.9,238 347.2,237.2 347.8,235.5 347,234 347.9,233.8 348,232.5 348.4,232.1 348.5,230.1 349.5,229.4 348.9,228.1 347.7,228 347.3,228.4 346.1,228.4 345.6,227.1 344.7,227.5 344,228.1 344.1,226.3 343.3,225.2 344.8,224.2 346.3,223.3 347.6,223.5 348.9,223.8 350.3,223.8 351.7,223.8 352.8,224 353.9,224.2 355.6,224 357.3,224.1 359,224.1 359.9,225.2 361.8,225.7ZM396,240.5 395.7,241.8 394,240.8 392.9,240.6 391.3,239.9 389.8,239.2 390,237.9 391.3,238 392.5,238.1 393.6,238 394.7,237.8 396.3,237.6 395.7,239.7ZM382.7,235 381.9,235.8 381,235.2 380.9,233.6 380.8,232 380.3,230.5 381.5,230.7 382.5,229.9 383.8,231.7 383.8,233.4 383.7,235.1ZM391.8,218.6 390.1,218.2 388.5,219.1 388.7,220.4 388.5,221.1 389.2,222.4 391.3,223.7 392.4,225.9 393.7,226.9 394.9,227.9 396.6,227.9 397.1,228.5 396.6,229 398.5,229.9 400.1,230.7 402.1,232.1 402.3,232.6 402,233.5 400.7,232.3 398.8,231.9 398.1,233.5 399.7,234.5 399.5,235.9 398.6,236 397.6,238.2 396.7,238.4 396.7,237.7 397,236.3 397.5,235.7 396.6,234.2 395.8,232.9 394.9,232.6 394.2,231.4 392.8,231 391.8,229.9 390.3,229.8 388.6,228.6 386.5,226.9 385,225.4 384.3,222.9 383.2,222.5 381.5,221.7 380.5,222.1 379.4,223.2 378.5,223.4 378.7,222.3 377.6,222 377,220 377.7,219.2 377,218.2 377.1,217.5 378,218.1 379,218 380.1,217.1 380.5,217.5 381.5,217.4 381.8,216.4 383.4,216.7 384.3,216.3 384.4,215.2 385.6,215.6 385.8,215.1 387.8,214.6 388.4,215.5 389.8,215.9 391.3,216.2 391.2,217.5ZM391.8,197.2 393.2,196.6 394.7,196 395.9,195.6 397,195.2 399,195.6 399.3,196.2 401.1,196.2 402.3,196.4 403.5,196.5 405.3,196.5 407.1,196.5 408.1,196.7 408.7,197.5 409,198.6 409.6,199.5 409.8,200.5 408.7,201 409.5,202.2 409.7,203.3 410.9,205.5 410.8,206.2 409.9,206.5 408.3,208.6 409,209.8 408.5,209.6 406.5,208.7 405.1,209 404.1,208.8 403,209.3 401.9,208.4 401.1,208.7 400.9,208.6 399.9,207.3 398.4,207.2 398.1,206.4 396.7,206.1 396.5,206.8 395.4,206.2 395.4,205.5 393.9,205.3 392.9,204.5 391.9,202.9 392,202 391.4,200.7 390.6,199.8 391.1,199.1 390.5,197.9ZM409,209.8 408.3,208.6 409.9,206.5 410.8,206.2 410.9,205.5 409.7,203.3 410.6,203.2 411.6,202.5 413.1,202.5 414.1,202.6 415.1,202.7 416.3,203 417.4,203.3 419,203.4 419.8,203.7 420.5,203.3 421.1,203.9 422.9,203.7 423.7,204 423.6,202.7 424.1,202.2 425.8,202 426.5,202.1 426.9,201.5 427.6,201.7 428.5,201.5 429.5,201.4 431.1,202.8 430.7,203.4 431,204.1 432.6,204.3 433.6,205.4 433.6,205.8 435,206.3 436.3,206.7 437.8,206.3 439.3,207.5 440.4,207.5 442,207.9 443.6,208.3 443.8,209.1 443.2,210.4 444,211.8 443.8,212.6 441.9,212.8 441,213.5 441.1,214.7 439.6,214.9 438.3,215.7 436.4,215.8 434.8,216.8 435.2,218.4 436.4,219 437.4,218.9 438.4,218.9 438.2,219.8 437.1,220 436,220.2 434.7,221 433.4,221.7 432.2,221.2 432.5,220 431.3,219.6 430.1,219.2 430.4,218.7 432.2,217.9 431.5,217.3 429.9,217 428.2,216.7 427.9,215.7 426.1,216 425.5,217.4 424.2,219.3 423.2,218.9 422.3,219.3 421.3,218.8 421.8,218.5 422,217.7 422.5,216.8 422.2,216.4 422.6,216.2 422.9,216.5 424.1,216.6 424.6,216.4 424.2,216.1 424.3,215.8 423.5,215.1 423,214 422.2,213.6 422.2,212.8 421.2,212.1 420.4,212 418.8,211.2 417.5,211.4 417,211.8 416.2,211.8 415.7,212.4 414.3,212.7 413.6,213.1 412.6,212.4 411.3,212.4 410,212.1 409.2,212.7 409,212 407.8,211.3 408,210.3 408.5,209.6ZM434.4,245.6 434.7,245 436.2,245.1 438.1,244.3 436.8,245.4 437.1,246.1 435,247.2 433.9,246.8 433.2,245.8 434.3,245.7ZM446.7,223.8 448.6,224.2 450.1,224.5 451.7,224.7 453.3,225.3 454.8,225.9 455.3,226.4 456.5,226 458.6,226.5 459.4,227.6 460.9,228.2 460.4,228.5 461.7,229.9 461.5,230.3 460.3,230.1 458.6,229.3 458.2,229.8 456.7,230 455.3,230.2 453,228.9 451.9,229 450.8,229 450.9,227.9 450,226.1 448.7,225.2 447.4,224.9 446.5,224.1ZM441,250.6 440.8,251 440.1,251 440.6,248.9 441.5,247.1 441.5,247 442.5,247.1 443,248.1 441.9,249.1 441.6,250.5ZM441.2,252.9 440.4,252.5 440.1,254.2 440.7,254.5 440.2,254.9 440.1,255.6 441.1,255.2 441.3,256.2 440.9,258.3 440.6,260.4 439.7,258.2 438.7,255.9 439.3,255.1 439.1,254.9 439.6,253.7 439.8,251.7 440,251.1 440.1,251 440.8,251 441,250.6 441.6,250.5 441.7,251.6 441.5,252ZM441.4,254.5 441.1,255.2 440.1,255.6 440.2,254.9 440.7,254.5 440.1,254.2 440.4,252.5 441.2,252.9ZM470,260.3 469.9,260.9 470.9,262.9 469.3,263 468.6,261.7 466.6,261.5 467.9,259 469.4,259.2ZM477,270.9 477.4,269.6 478,269.3 478.8,270.1 479,271.6 478.6,273.2 478,273.4 477.3,272.9ZM434.2,342 434.1,343.6 433.4,343.9 432.2,343.7 431.4,345.2 430,345 430.3,343.6 430.6,343.4 430.7,341.8 431.3,341.1 431.9,341.4 433.3,340.6ZM428.2,414.1 427.4,415.4 427,416.3 425.7,416.7 425.2,417.5 424.4,417.8 422.9,415.8 424.2,414.1 425.5,413.1 426.6,412.5 427.5,413.4ZM434.3,408.7 432.9,409 431.7,407.6 431.8,406.7 432.4,405.7 432.7,404.9 433.3,404.7 434.4,405.2 434.7,406.4 434.8,407.5ZM324.8,281.8 327.1,281.8 329.3,281.8 331.5,281.8 333.7,281.8 333.5,279.9 333.4,278 334,276.7 336.1,276.5 336.1,274.2 336.1,272 336.1,269.8 338,269.8 339.8,269.8 341.7,269.9 343.5,269.9 343.5,267.9 343.6,265.9 345.7,267.5 347.8,269.1 349.8,270.7 351.9,272.3 350.2,272.3 348.5,272.3 348.7,274.6 348.9,276.8 349.1,279.1 349.3,281.3 349.5,283.6 349.7,285.9 349.9,288.1 350.1,290.4 350.3,292.6 350.5,294.9 350.8,295.2 350.3,297.1 348.5,297.1 346.7,297.1 344.8,297.1 343,297.1 341.2,297.1 340.8,297.7 339.9,297.5 338.6,298 337,297.3 336.3,297.3 335.9,298.9 335.1,299.4 333.7,297.6 332.3,295.6 330.8,295 329.7,294.2 328.4,294.2 327.3,294.8 326.2,294.5 325.4,295.4 325.2,294 325.9,292.7 326.2,290.2 326,287.6 325.8,286.4 326.1,285 325.5,283.8 324.3,282.7ZM335.9,298.9 336.3,297.3 337,297.3 338.6,298 339.9,297.5 340.8,297.7 341.2,297.1 343,297.1 344.8,297.1 346.7,297.1 348.5,297.1 350.3,297.1 350.8,295.2 350.5,294.9 350.3,292.6 350.1,290.4 349.9,288.1 349.7,285.9 349.5,283.6 349.3,281.3 349.1,279.1 348.9,276.8 348.7,274.6 348.5,272.3 350.2,272.3 351.9,272.3 353.8,273.7 355.7,275.1 357.6,276.6 359.5,278 361.4,279.4 363.3,280.8 365.2,282.3 367.1,283.7 367.7,284.9 369.1,285.6 370.2,286.1 370.2,287.7 371.4,287.6 372.7,287.5 372.7,289.5 372.7,291.5 372.7,293.5 371.5,295.3 371.3,296.9 369.3,297.3 367.7,297.4 366.2,297.5 365.3,298.4 363.8,298.5 362.4,298.6 361.8,298 360.6,298.4 358.4,299.5 358,300.3 356.2,301.5 355.9,302.2 354.9,302.7 353.8,302.4 353.2,303 352.8,304.8 351,307 351.1,307.8 350.4,309 350.6,310.5 349.6,310.9 349.1,311.2 348.7,310.1 348.1,310.4 347.7,310.3 347.2,311.1 345.5,311 344.8,310.7 344.5,310.9 343.8,310.2 344,309.4 343.7,309.1 343.2,309.3 343.3,308.5 343.7,307.8 342.8,306.7 342.5,306 342,305.4 341.6,305.3 341,305.7 340.3,306.1 339.6,306.6 338.7,306.4 338,305.7 337.7,305.7 337.1,306 336.7,306 336.6,305.1 336.7,304.2 336.5,303.2 335.7,302.5 335.2,301 335.1,299.4ZM369.3,317 369.3,315.3 369.7,313.7 370.4,312.9 371.5,311.3 371.3,310.6 371.7,309.5 371.2,308 371.3,307.1 371.4,304.8 372.1,303.7 372.4,302.2 373,301.6 374.2,301.5 375.5,301.3 376.6,301.8 377.8,302.3 378.6,303.3 379.8,303.3 380.9,302.7 382.3,303.4 383.7,304 384.8,304 386.2,302.9 387.5,302.9 388.2,302.6 389.4,302.7 391.2,303.5 393,302 393.5,302.1 394.3,303.6 395.1,305 395.5,305 396.5,306 396.2,306.5 396.1,307.3 394.2,309.3 393.6,311 393.3,312.4 392.8,313 392.4,314.8 391.1,315.9 390.8,317.2 390.3,318.2 390.1,319.3 388.5,320.2 387.2,319.1 386.3,319.2 385,320.7 384.3,320.8 383.2,323.3 382.6,325.1 381.4,325.6 380.2,326.1 379.3,325.9 378.5,326.5 376.6,326.5 375.4,324.8 374.6,322.9 373,321.2 371.2,321.2 369.2,321.2 369.3,319.1ZM390.1,331.5 391.6,331.9 392.9,331.5 393.2,331.7 393,332.8 393.7,334.2 395.4,333.9 396,334.5 395.5,336 395,337.5 396.1,339 396.3,341.1 396,342.8 395.3,344.1 393.3,344 392.1,342.7 391.9,343.9 390.3,344.2 389.5,344.8 390.4,346.6 388.6,348 387.4,346.7 386.3,345.4 384.7,343.2 384,341.9 383.3,340.5 383.4,339.6 383.9,338.8 384.5,336.9 384.9,335 385.7,334.8 387.4,334.8 389.1,334.8 389.1,333.3 389.1,331.7ZM431.4,339.1 431.9,338.1 432,336 432.5,334.8 433.4,333.5 434.3,332.8 435,331.8 434.1,331.5 434.1,329.9 434.2,328.4 435.2,327.7 436.6,328.3 438.5,327.7 440.1,327.7 441.5,326.5 442.6,328.3 442.9,329.6 443.4,331.1 444,332.6 443.1,334.5 442,336.2 441.3,337.3 441.3,338.7 441.3,340.1 439.8,340.2 438.2,340.2 436.6,340.3 435.4,340.3 434.1,340.2 433.3,340.6 431.9,341.4 431.3,341.1ZM451.2,299.6 452.5,299 453.1,299.6 454.6,299.6 456.7,300.7 457.3,301.6 458.4,302.4 459.4,303.9 460.2,304.8 459.4,305.9 458.7,307.2 458.9,307.9 459,308.7 460.2,308.7 460.8,308.5 461.3,309 460.8,309.9 461.7,311.4 462.6,312.6 463.5,313.6 465.4,314.4 467.3,315.1 469.3,315.9 471.2,316.7 473.1,316.7 471,319.3 468.9,321.9 466.7,324.5 465.3,324.6 463.8,324.6 461.7,326.5 460.3,326.5 459.6,327.3 458.1,327.3 457.1,326.5 455,327.6 454.4,328.7 452.8,328.4 452.3,328.1 451.8,328.2 451,328.2 449.6,327.1 448.1,326 446.5,326 445.7,325.1 445.6,323.6 444.4,323.2 443.7,321.8 443,320.4 442,319.7 441.5,318.7 440.3,317.4 438.9,317.2 439.7,315.8 440.9,315.7 441.2,314.9 441.1,312.5 441.5,311.2 441.8,309.8 442.8,309.1 443,308 443.9,306 445.3,304.7 446.1,302.1 446.4,299.9 447.7,300.2 449.1,300.4 449.7,298.5ZM439.5,362.9 440,365.1 439.6,365.9 439,368 439.4,370.1 438.7,371 437.9,373.5 439.1,374.1 437.3,374.7 435.6,375.2 433.8,375.8 432.1,376.3 432.2,378.2 430.5,378.5 429.1,379.6 428.8,380.5 428,380.7 425.9,382.8 424.6,384.5 423.8,384.6 423.1,384.3 421.8,384.2 420.6,384 420.2,383.8 420.2,383.6 419.3,383 417.8,382.9 415.9,383.4 414.5,381.8 413,379.7 413.1,377.6 413.2,375.5 413.2,373.4 413.3,371.3 414.9,371.4 416.5,371.4 418.1,371.4 417.9,370.5 418.3,369.5 417.9,368.3 418.2,367 418,366.2 418.8,366.2 418.9,367.1 419.9,367 421.4,367.2 422.1,368.4 424,368.8 425.4,368 425.9,369.3 427.6,369.7 428.4,370.8 429.3,372.3 431.1,372.3 431,370.9 431,369.5 430.3,369.9 428.8,368.9 428.1,368.4 428.5,365.8 428.7,364.3 429,362.7 428.5,361.6 429.2,359.9 429.8,359.6 431.3,359.4 432.9,359.2 433.8,359.4 434.8,360.1 435.7,360.5 437.1,361 438.4,361.7ZM390.9,382.4 392.2,381.9 393.7,382 395.1,383.2 395.4,383 397.2,383 399.1,382.9 400.9,382.9 402.8,382.9 404.6,382.9 406.2,384.1 408,384.3 409.9,384.4 411.7,384.5 413.8,384 415.9,383.4 417.8,382.9 419.3,383 420.2,383.6 420.2,383.8 418.9,384.4 418.2,384.4 416.7,385.4 415.9,384.3 414.1,384.8 412.3,385.3 410.6,385.3 410.5,387.7 410.4,390 410.3,392.3 410.2,394.7 408,394.8 407.9,397.3 407.9,399.9 407.8,402.4 407.7,404.8 407.6,407.2 407.4,409.6 407.3,412.1 405.3,413.4 404.1,413.6 402.7,413.1 401.7,412.9 401.4,411.8 400.5,411.1 399.4,412.4 397.8,410.4 397,408.5 396.6,405.9 396.1,404 395.8,402 395.5,400 395.5,398.4 395.5,396.9 395.2,395.4 394.4,394.4 393.3,392.2 392.7,390.6 392.1,389.1 391.7,387.4 389.8,384.9 389.7,382.9ZM456,365.8 455.9,368.4 456.1,370.7 456,372.7 456,374.7 456.3,376 455.6,377.9 454.6,379.7 453,381.3 450.9,382.3 449.6,383 448.3,383.6 446.9,385 445.5,386.4 444.6,386.9 443,388.7 442,389.3 441.7,391.2 442.7,393.2 443,394.7 443,395.5 443.4,395.4 443.2,398 442.8,399.2 443.3,399.6 442.9,400.7 441.9,401.6 440,402.5 438.6,403.2 437.2,403.9 436.1,404.9 436.2,406 436.8,406.2 436.5,407.6 434.8,407.5 434.7,406.4 434.4,405.2 434.3,404.3 434.6,402.8 434.9,401.4 434.4,399.5 434,397.7 433.5,395.8 434.8,394.3 436,392.9 436.7,391 437.1,390.7 437.4,389.2 437.1,388.4 437.3,386.4 437.8,384.6 437.9,383 438,381.3 436.8,380.5 435.7,380.3 435.3,379.6 434.2,379.1 432.3,379.1 432.2,378.2 432.1,376.3 433.8,375.8 435.6,375.2 437.3,374.7 439.1,374.1 440.4,375.4 441,375.2 441.9,375.8 442,376.9 441.4,378.1 441.5,379.9 442.9,381.5 443.7,379.7 444.7,379.2 444.7,377.5 444.7,375.8 443.8,373.9 443,373.1 442.2,373.1 441.9,371.4 441.7,369.7 442.4,367.7 444.1,367.5 445.5,367.9 446.8,368.3 447.5,367.9 449.1,367.9 449.9,367.1 451.3,367.1 452.6,366.6 453.8,366.1 455.7,364.6ZM431.1,351.8 430.9,353.1 431.3,354.7 432.6,356.1 433.2,357.8 433.8,359.4 432.9,359.2 431.3,359.4 429.8,359.6 429.2,359.9 428.5,361.6 429,362.7 428.7,364.3 428.5,365.8 428.1,368.4 428.8,368.9 430.3,369.9 431,369.5 431,370.9 431.1,372.3 429.3,372.3 428.4,370.8 427.6,369.7 425.9,369.3 425.4,368 424,368.8 422.1,368.4 421.4,367.2 419.9,367 418.9,367.1 418.8,366.2 418,366.2 416.9,366 415.5,366.4 414.5,366.3 413.9,366.6 414,365 414.1,363.5 413.3,362.5 413.2,360.9 413.6,359.3 413.1,358.3 413.1,356.7 411.7,356.7 410.3,356.7 410.5,355.8 409.3,355.8 409.2,356.2 407.8,356.3 407.2,357.8 406.8,358.5 405.5,358.1 404.8,358.5 403.2,358.7 402.4,357.4 401.9,356.5 401.2,354.9 400.7,353 398.4,353 396.1,352.9 393.9,352.9 393,353.2 392.4,353.2 391.4,353.6 391.1,352.7 391.7,352.5 391.8,351.3 392.1,350.7 393,350.1 393.6,350.4 394.4,349.4 395.6,349.4 395.8,350.1 396.6,350.6 398,349 399.4,347.7 400,346.9 399.9,344.7 400.9,342.2 402,340.8 403.5,339.5 403.8,338.7 403.8,337.8 404.2,336.8 404.1,335.4 404.4,333 404.8,331.4 405.5,330 405.6,328.4 405.8,326.6 406.7,325.3 407.9,324.4 409.8,325.3 411.3,326.3 413,326.6 414.7,327.1 415.4,325.5 415.7,325.3 416.8,325.5 418.1,324.9 419.3,324.2 420.3,324.8 421,324.7 421.3,324.1 422.2,323.8 423.9,324.1 425.4,324.2 426.2,323.9 427.6,326.1 428.6,326.4 429.2,325.9 430.3,326.1 431.6,325.6 432.1,326.7 434.2,328.4 434.1,329.9 434.1,331.5 435,331.8 434.3,332.8 433.4,333.5 432.5,334.8 432,336 431.9,338.1 431.4,339.1 431.3,341.1 430.7,341.8 430.6,343.4 430.3,343.6 430,345 430.6,346.2 430.7,347.8 430.7,349.4ZM378.6,336.7 378.5,337.5 378,337.3 378,336.6ZM559.8,265.8 560.4,267.5 560.3,268.5 558.5,268.5 557.1,268.2 555.6,267.9 553.9,267.7 552.4,266.4 550.8,266.2 549.2,266 547.6,265.3 546,264.5 543.7,263.3 541.3,262.3 541.7,259.8 542.8,258.6 543.6,258 545.6,258.8 546.9,259.7 548.2,260.5 549.5,260.9 550.5,262.2 552.4,262.7 554.4,263.8 555.7,264.1 557,264.4 558.4,264.5 559.7,264.7ZM627.5,324.8 629.4,323.3 629.3,324.6 629.3,326.3 628.2,326.2 627.7,327.1 626.6,325.7ZM651,360.3 653.1,359.7 654.7,359.6 655.4,359.2 656.3,359.6 655.4,360.3 654.1,360.9 652.9,361.4 650.9,362.2 650.7,360.9ZM591.2,285 591.6,286.6 593.1,286.7 593,288.1 593,289.4 593.4,291.8 594.4,291 595.5,290.2 596.3,290.7 597.6,290.6 597.9,289.7 599.7,289.9 601.7,292 602.2,294.6 604.4,296.9 604.5,299.1 603.9,300.3 601.7,299.9 600.3,300.1 598.8,300.4 597.6,302.6 598,304.1 598.5,305.7 596.3,304.5 594.3,304.6 594.5,302.5 592.5,302.5 592.5,304 592.6,305.4 592.1,307.3 591.6,309.2 591.1,311.5 591.4,313.4 592.9,313.5 594,315.9 594.5,318.2 595.9,319.7 597.3,320 598.6,321.3 597.8,322.4 596.3,322.7 596.1,321.4 594.2,320.2 593.8,320.7 592.8,319.7 592.4,318.4 591.1,316.9 589.8,315.7 589.6,317.2 589,315.8 589.2,314.1 589.7,311.6 590.2,310.3 590.6,308.9 591.7,306.5 590.5,304.1 590.4,302.9 590,301.4 588.3,299.4 587.6,298 588.3,297.5 588.9,295.3 587.7,293.5 586,291.6 584.6,289.3 585.5,288.9 585.8,287.5 586.1,286 587.7,285.9 588.8,284.8 590.1,284.2ZM619.8,332.8 620.3,330.5 622.1,330 624,329.5 625.6,327.4 626.6,325.7 627.7,327.1 628.2,326.2 629.3,326.3 629.3,324.6 629.4,323.3 631,321.5 632.1,319.5 633,319.5 634.3,320.8 634.4,321.9 636.2,322.6 638,323.4 636.1,324.6 635.1,326.8 633.1,326.3 631.8,326.3 630.5,326.3 630.1,327.8 629.8,329.3 628.9,330.2 628.4,332 627.8,333.9 626,334.4 623.8,333.7 622.7,333.9 621.3,335.2 619.9,335 618.4,335.6 616.8,334.1 616.3,332.3 618.1,333.3ZM596.1,321.4 596.3,322.7 597.8,322.4 598.6,321.3 599.1,321.6 600.5,323.2 601.6,324.9 601.8,326.7 601.6,327.8 601.9,328.8 602.1,330.3 602.9,331 603.9,333.3 603.8,334.2 602.2,334.4 600,332.4 598.6,331.4 597.2,330.4 596.9,329 595.5,327.3 595.1,325.1 594.2,323.7 594.4,321.8 593.8,320.7 594.2,320.2ZM654,321.2 653.5,319.9 653,318.5 652,319.8 652.9,321.8 652.3,323 650.9,322.2 649.5,321.5 648.7,319.6 649.3,318.3 647.8,317.1 647.1,318.2 646.1,318.1 644.4,319.5 644,318.8 644.8,316.6 646.1,315.8 647.3,314.9 648.2,316 649.9,315.3 650.2,314.2 651.8,314.1 651.5,312.1 653.5,313.3 653.8,314.6 654.1,315.6 654.4,317.3 654.7,318.8ZM632.8,315.7 633.8,313.9 635.4,312.3 636.6,310.4 637.5,307.9 638.2,310 636.8,311.4 635.7,313.2 634.3,314.5ZM644.6,312.2 645,311.5 645.5,310.8 645.6,309.1 646.8,309 646.6,310.7 648.1,308.2 648.1,310.7 647.4,311.6 646.8,313.2 646.1,314ZM644.9,309.5 643.5,310.3 643.3,309.1 643.3,307.7 642.8,306.5 644.3,307.3 645.8,307.3 645.8,308.4ZM650.2,308 650.3,308.9 651.1,310.5 650,311.1 649.8,309.2 649.1,309.1 648.5,307.5 649.9,307.7 649.8,306.8 648.1,304.7 650.3,304.8 651.1,305.8 651.6,307.2 652,308.7ZM640.2,304.4 638.8,302.4 640.8,302.5 641.7,303.4 641.3,305.7ZM641.3,291 642.4,292.9 642.2,295.1 641,295.9 640.9,298 641.7,300.1 643,300.4 643.9,300.1 645.5,300.8 647,301.6 647,303 647.8,303.6 647.7,304.8 645.8,303.5 644.7,302.2 644.3,303.1 642.6,301.6 640.6,301.9 639.4,301.3 639.3,300.3 640,299.6 639.2,299 639,299.9 637.7,298.4 637.2,297.3 636.7,294.8 637.8,295.7 637.6,293.6 637.4,291.6 637.7,289.2 639.1,289.2 640.6,289.9 641.2,289.3 641.5,289.9ZM638.9,362.1 640.1,362.9 640.8,363.7 640.6,364.4 639.6,364.4 638.2,363.5 636.8,362.6ZM631.5,359.3 631.2,360.9 630,360.6 630.2,359.2ZM631.7,361.2 632.6,359.7 633.9,359.7 634.6,358.8 635.4,359.5 636.8,359.3 637.3,360.4 635.9,360.6 634.6,360.9 633,361.2ZM613.4,355.3 615.6,355.5 617.8,355.6 618.4,354.5 620.5,355.2 622.6,355.8 623.3,357.5 625,357.7 626.8,358 628.1,358.7 629.5,359.5 628.1,360 626.8,360.5 625.5,360 624.3,359.4 622.2,359.5 621,359.4 619.8,359.3 617.7,358.8 616.4,358.3 615.1,357.8 613.4,357.6 612.5,357.9 610.4,357.4 608.3,356.8 608,355.7 605.9,355.5 607.6,353 609,353.1 610.4,353.2 612.2,354.2 613.2,354.4ZM613.2,344.9 612.7,346 611.5,345.4 611.8,344.4ZM607.9,341.8 609.5,344.1 609.2,345.4 607.6,344.1 607,342.6ZM595.5,332.1 596.7,332.1 597.9,332.2 599.8,333.9 601.2,336.1 603,337.3 602,339.5 603.3,340.4 604.2,340.4 604.5,342.3 605.3,343.7 607,344 608.1,345.6 607.7,347.2 607.4,348.9 607.2,350.9 607.1,352.9 605.8,352.9 604.5,353 602.7,350.8 601.2,349.7 599.8,348.6 598.9,347 597.2,344.9 596.1,343 595.3,341.1 594.4,339.3 592.4,337.1 591.7,334.9 590.8,332.8 588.7,331.2 587.4,328.9 585.6,327.5 584.4,326 583.1,324.6 582.8,323.3 584.5,323.5 586.2,323.7 587.9,323.9 590.1,326.4 591.9,328.2 593.2,329.3 594.4,330.7ZM634.6,339.7 632.3,341.5 632.2,344.1 631.7,346.1 631.2,348.1 630.8,347.2 629.5,347.8 628.2,348.4 627.3,346.8 625.7,346.6 624.6,345.8 623.2,346.2 621.8,346.7 621,345.4 619.5,345.6 617.6,345.3 617.5,343.5 617.3,341.8 616.2,341 615.1,338.8 614.8,336.5 615,334.1 616.3,332.3 616.8,334.1 618.4,335.6 619.9,335 621.3,335.2 622.7,333.9 623.8,333.7 626,334.4 627.8,333.9 628.4,332 628.9,330.2 629.8,329.3 630.1,327.8 630.5,326.3 631.8,326.3 633.1,326.3 635.1,326.8 633.9,329.2 635.7,331.6 635.5,333.6 635.2,335.6 634.5,337.3ZM647.2,363.5 648.3,361.9 650.7,360.9 650.9,362.2 649.2,364.1 647.2,364.7 646.9,364.4ZM639.2,359.7 641,359.2 642.4,359.9 644.3,359.4 646.1,358.8 645.7,360.2 643.9,360.6 642.1,361 640.6,360.8 639.1,360.6ZM672.8,352.7 673.3,351.9 673.8,352.6 673.7,353.8 672.4,355.7 672.3,353.7ZM679.9,359.6 681.1,357.5 682.6,356.7 682.4,355.3 682.2,353.9 681.2,351.7 679.1,350.6 676.9,349.5 675,349.3 673.3,348.1 671.6,346.9 670.9,348.1 670,348.4 669.5,347.4 669.6,346.3 667.9,345 669.1,344.5 670.4,344 672,344.1 671.9,343.4 670.2,343.4 668.5,343.4 667.6,341.8 665.5,341.3 664.6,340.1 666.2,339.7 667.7,339.4 668.9,338.6 670.8,339.1 672.6,339.6 672.9,340.6 673.2,342.7 673.5,344.8 674.7,345.6 675.8,346.4 676.8,345 677.8,343.6 679.2,342.8 680.5,342 682.6,342 684.5,343 686.2,343.9 687.5,344.2 688.7,344.4 688.6,346.8 688.5,349.3 688.3,351.7 688.1,354.1 688,356.6 687.8,359 687.6,361.5 685.8,359.3 684.6,359.1 683.5,358.8 682.8,359.5 681.4,359.6ZM655.9,347.5 654.4,347 654,345.9 655.1,345.9 656.3,345.8 656.9,346.7ZM660,346.6 658.4,346.5 659,345 660.4,345 661.8,344.9 663.1,345.3 664.3,345.7 665.1,347.7 663.2,346.6 661.3,346.4ZM640.7,337 640.4,339 642.4,341.3 643.7,340.1 645.9,339.7 648,339.2 647.8,340.4 646.8,340 645.8,341.6 643.7,342.6 644.8,344.3 645.8,345.9 645.3,346.8 646.3,348.3 647.3,349.8 647.2,351.6 645.9,352.3 645,351.4 646.3,349.3 643.9,350.3 643.4,349.6 643.8,348.6 642.2,347 642.4,344.5 640.9,345.3 640.9,346.8 640.9,348.3 640.9,350.2 640.8,352.1 639.4,352.4 638.4,351.7 639.2,349.3 639,346.7 638,346.7 637.3,344.9 638.3,343.2 638.7,341.1 639.3,339.2 639.9,337.2 640.4,336.1 642.3,334.2 644.1,335 645.6,335.1 647.1,335.3 648.4,335.2 649.7,335.2 652,333.3 652.4,333.9 650.6,336.5 648.8,337 646.6,336.5 644.7,336.5 642.7,336.6ZM659.1,336.7 658.7,338.3 659.7,339.6 659,340 658.1,338.3 657.7,336.6 657.4,335 657.8,332.9 658.5,331.9 658.7,333.3 660.1,333.6 660.4,334.6 660.3,336.9ZM478.8,220.1 480.5,219.6 482.1,219.1 483.7,218.6 484.2,218.8 486,219.7 487.9,220.6 489.9,221.6 492.6,223.9 493.8,223.7 494.9,223.6 496.7,223.4 498.4,223.3 500,224.3 501.5,225.2 501.8,226.5 502.1,227.8 503.2,227.8 504.2,230 505.6,230 506.9,230 507.9,231.3 508.7,231.3 509,229.4 510.2,228.5 511.3,227.6 512.3,227.1 513,227.4 511.8,229.1 513.7,230 515,229.4 516.4,230.1 517.9,230.7 516.8,231.7 515.7,232.6 514,232.4 513.2,232.4 512.7,231.7 512.8,230.5 511.4,230.8 510.1,231.1 509.9,232.8 509.3,234.2 507.5,234.1 507.2,235.2 509,235.9 509.9,237.8 509.7,239.1 509.4,240.5 507.7,239.9 506.4,239.9 506.1,238.3 504.5,237.7 503,237.2 501.7,236.5 500.4,235.9 498.7,234.7 497.2,233.8 495.8,232.9 494.9,231.5 494.1,230.2 493.2,229.7 492.1,229.8 491,229.8 490,229.3 489.2,227.2 487.6,226.6 486,225.9 484.7,227.4 483.1,228.3 483.8,229.6 482.6,229.6 481.4,229.6 480.8,227.2 480.1,224.8 479.5,222.4ZM698.3,349 699.5,350.4 699.8,351.9 701.7,352.7 703.5,353.5 704,354.9 701.8,355.2 702.2,356.9 704.1,358.6 704.7,360 705.4,361.4 706.7,361.3 706.5,362.5 708.2,362.9 707.5,363.4 708.6,364 709.8,364.5 709.4,365.3 707.9,365.5 707.4,364.8 705.5,364.5 704.3,364.3 703.2,364.1 701.6,362.4 700.4,361 699.4,358.7 698,358.1 696.5,357.6 694.5,358.3 693,359.2 693.1,361.1 691.3,362 690,361.6 688.8,361.5 687.6,361.5 687.8,359 688,356.6 688.2,354.1 688.3,351.7 688.5,349.3 688.6,346.8 688.7,344.4 690.7,345.3 692.6,346.2 694.7,347 696.8,347.7ZM722.7,354.7 722.4,355.4 721.7,355.7 720.8,354.7 719.9,353 719.5,351 719.9,350.8 720.1,351.6 720.7,352.2 721.7,353.8ZM708.2,354.1 706.4,353.4 705.1,352.6 705.4,351.8 707.4,352.2 708.7,352 709.1,350.8 709.5,350.7 709.6,352.1 710.9,351.9 711.6,351 713,350.1 712.8,348.5 714.2,348.5 714.7,348.9 714.5,350.3 713.6,351.9 712.4,352.1 712,352.9 710.7,353.5 709.5,354.1ZM713.7,345.4 714.6,346.1 715.5,347.2 716.3,348 716.5,349.4 715.7,350.1 715.4,348.5 714.9,347.5 713.9,346.7 712.6,345.6 711,344.8 711.7,344.1 712.9,344.9ZM736.3,365.9 734.7,365.9 734,364.3 735.3,364.9 735.7,365ZM733,363.4 732.1,363.5 730.7,363.2 730.3,362.8 730.6,361.8 732,362.2 732.7,362.7ZM735,362.7 734.6,363.2 733.2,360.9 732.8,359.4 733.6,359.4 734.2,361.5ZM731.3,359.9 729.6,358.8 728.4,357.9 727.6,357 728,356.7 729,357.4 730.7,358.6 731.2,359.4ZM724.6,356.4 723.8,355.3 723.9,354.9 725.2,356 726.1,356.8 725.6,357Z"/>
<path fill="#fddbc7" d="M158.4,299.9 159.1,300.1 160.2,301.4 161.3,301.1 162,301.5 161.7,302.6 161.7,303.2 160.1,303.2 158.4,302.4 156.6,301.7ZM200.2,287.5 199.9,288.5 199.3,288.9 199.8,289.7 199.7,290.4 198.2,290 197.1,290.1 195.8,289.9 194.7,290.4 193.5,289.6 193.8,288.8 195.9,289.1 197.6,289.3 198.4,288.8 197.5,287.6 197.7,286.6 196.3,286.2 196.9,285.5 198.2,285.6 200.2,286ZM226.9,316.7 228.2,318.4 228.3,319.7 229.1,319.8 230.3,321.1 231.2,322 230.8,324.3 229.4,325 229.5,325.6 229,327 230,328.9 230.7,328.9 231,330.4 232.4,332.6 231.8,332.7 230.5,332.5 229.8,333.2 228.7,333.6 228,333.8 227.7,334.3 226.6,334.1 225.2,332.9 225,331.7 224.5,330.4 224.9,328.2 225.5,327.2 225,326 224.3,325.6 224.6,324.5 224.1,323.9 222.9,324 221.4,322 222,321.3 222,320.1 223.4,319.7 224,319.2 223.3,318.2 223.5,317.2 225.4,315.7ZM204.9,366.5 206.1,366.4 206.6,365.6 208.5,364.6 209.7,363.6 211.2,363.4 212.7,363.1 212.5,365.1 212.9,366.1 212.8,367.9 214.1,369 215.4,370.2 216.7,370.4 218,370.6 219,371.6 220.5,372.1 221.6,372.9 223,372.9 224.4,373.6 224.6,375.1 225.1,375.9 225.2,377 224.5,377.1 225.1,378.6 225.6,380.1 227.8,380.2 230,380.2 229.8,381.8 230.1,382.8 231.4,383.5 232.1,385.1 231.8,387.2 231.3,388.4 231.7,389.8 231,390.4 230.9,389.6 228.7,388.2 226.6,388.2 224.6,388.6 222.7,389 221.8,391.3 221.9,392.7 221.6,394.2 221.3,395.8 220.9,395.2 219.6,395.2 218.3,395.1 217.6,397.2 216.1,395.4 214.6,395 213.1,394.7 211.4,397.1 209.8,397.4 209.2,395.6 208.6,393.8 207.8,392.4 207,390.9 207.5,388.4 206.2,387.3 205.7,385.4 204.4,383.6 205,382.2 205.6,380.8 204.4,378.6 204.9,377.7 204.4,376.7 205.2,375.4 205,373.2 205,371.3 205.4,370.5 204.3,368.4 203.2,366.2ZM110.9,252.1 110.5,252.6 112.3,253.4 114.1,254.1 116,254.9 117.8,255.7 119.9,255.7 121.9,255.7 124,255.7 124.4,254.5 126.2,254.5 128.1,254.5 129.3,256 130.5,257.6 130.9,260.2 132.2,261 133.6,261.7 135.5,259.6 137.3,259.6 138.8,260.7 139.2,262.4 139.7,264.1 140.7,265.7 140.9,267.1 141.2,268.5 142.7,269.3 144.2,270 145,269.9 143.8,272.2 143,274 142.6,275.9 142.2,277.7 141.8,279 142.2,281.4 142.6,283.7 143.9,285.5 144.2,287.1 144.9,288.4 146.1,288.7 147.3,289 148,290.3 150.2,289.5 151.8,289.2 153.7,288.7 155.1,288.2 156.7,287.1 157.6,285.5 158,283.4 158.4,282.7 160.1,282 161.4,281.7 162.7,281.4 164.6,281.5 166,281.3 166.4,281.9 166.2,283.1 164.7,284.6 164,286.2 164.5,286.6 163.8,287.8 163.1,289.8 162.5,289.2 162.1,289.2 161.4,290.5 160.3,290.5 159.9,290.6 159.9,291 157.8,291 155.7,291 155.5,292.5 154.5,292.5 155.5,293.6 156.5,294.7 156.4,295.6 154.9,295.6 153.4,295.6 152.1,297.7 152.3,298.2 151.9,299.6 150.7,298.2 149.5,296.8 148.5,295.9 146.7,295.2 145.4,295.5 143.5,296.4 142.3,296.7 140.8,296 139.1,295.5 137.1,294.3 135.5,293.9 134.3,293.3 133.1,292.7 131.2,291.4 130.9,290.8 129.5,290.6 127.4,289.7 126.7,288.5 125.5,287.8 124.4,287.1 123.5,285.4 123.3,284.2 124,284 123.9,283.2 124.5,282.5 124.7,281.6 124.1,280.4 124.1,279.3 123.6,278 122.1,275.4 120.2,273.4 119.4,271.8 117.7,270.7 117.4,270.1 118.1,268.4 117.1,267.8 116.1,266.5 116,264.7 114.9,264.5 113.9,263.1 113.2,261.9 113.4,261 112.8,259.1 112.6,257.1 112.9,256.1 111.7,255 110.9,255.1 109.9,254.4 109.2,255.5 109.1,256.7 108.7,258.7 109.2,259.8 110.3,261.6 110.5,262.2 110.8,262.4 110.8,263.3 111.2,263.2 111.2,264.9 111.7,265.6 112,266.5 113,267.9 113.2,270.3 113.6,271.4 114,272.6 113.8,274 114.9,274.1 115.6,275.3 116.2,276.5 116.1,276.9 114.9,277.9 114.5,277.9 114.2,276.3 113,274.8 111.7,273.6 110.6,272.9 111.1,271 111.1,269.6 110.2,268.7 109,267.6 108.6,267.9 108.2,267.2 107,266.6 106.1,265.1 106.3,264.9 107.2,265 108.3,264 108.7,262.9 107.5,261 106.4,260.3 106.1,258.6 105.8,256.9 105.5,254.8 105.4,252.5 107.2,252.3 109.1,252.2ZM401.1,208.7 401.9,208.4 403,209.3 404.1,208.8 405.1,209 406.5,208.7 408.5,209.6 408,210.3 407.8,211.3 407.4,211.6 406.2,211.2 405.1,210.8 404.5,211 404,211.6 403.1,211.9 402.9,211.7 401.9,212.1 401.2,212.2 401,212.7 399.4,213 398.6,212.7 397.5,212.1 397.2,211.2 397.3,210.9 397.6,210.3 398.5,210.4 399.1,210.1 399.2,209.8 399.5,209.7 399.6,209.2 400.1,209 400.3,208.6 400.9,208.6ZM396.7,213.7 396.3,213.1 397.4,213.1 397.5,212.1 398.6,212.7 399.4,213 401,212.7 401.2,212.2 401.9,212.1 402.9,211.7 403.1,211.9 404,211.6 404.5,211 405.1,210.8 406.2,211.2 407.4,211.6 407.8,211.3 409,212 409.2,212.7 408,213.2 407.2,215 406.2,216.7 404.6,217.2 403.3,217.1 401.8,217.7 401.1,218.1 399.3,217.6 397.7,216.5 397,216.2 396.5,215.4 396.2,215.3ZM406.2,229.1 406.6,230.2 407.6,230.8 407.6,231.5 406.9,231.9 406.9,232.7 406,234 405.6,233.8 405.5,233.2 404.3,232.4 404,231.1 404,229.3 404.2,228.5 403.8,228.1 403.6,227.3 404.4,226 404.6,226.5 405.2,226.3 405.7,227 406.2,227.2 406.4,228.2ZM410.8,223.1 411.6,222.9 413.3,223.3 414.8,223.4 416.4,223.4 417.3,222.8 418.5,222.5 419.7,222.2 421.3,223.1 422.6,223.4 421.7,224.5 421.1,226.3 422,227.8 420.1,227.5 419.1,227.9 418.1,228.3 418.2,229.6 416.3,229.8 414.7,228.9 413.1,229.6 411.5,229.5 411.2,227.8 410.1,227 410.4,226.6 410.1,226.3 410.4,225.5 411.1,224.7 410,223.6 409.7,222.6 410.1,222.1ZM410,212.1 411.3,212.4 412.6,212.4 413.6,213.1 414.3,212.7 415.7,212.4 416.2,211.8 417,211.8 417.7,212.1 418.4,212.8 419.2,213.9 420.6,215.4 420.8,216.6 420.8,217.7 421.3,218.8 422.3,219.3 423.2,218.9 424.2,219.3 424.3,220 423.4,220.5 422.8,220.3 422.7,221.8 422.6,223.4 421.3,223.1 419.7,222.2 418.5,222.5 417.3,222.8 416.4,223.4 414.8,223.4 413.3,223.3 411.6,222.9 410.8,223.1 410.1,222.1 409.7,221.6 410.2,221.2 409.6,220.8 409,221.4 407.7,220.7 407.4,219.6 406.1,219 405.8,218.2 404.6,217.2 406.2,216.7 407.2,215 408,213.2 409.2,212.7ZM458.2,229.8 458.7,230.4 459.6,230.9 459.3,231.5 460.6,232.4 460.2,233.3 461.2,234 462.3,234.4 462.6,236.2 461.9,236.3 460.7,234.8 460.7,234.4 459.7,234.4 459,233.7 458.5,233.8 457.6,233 455.9,232.4 455.8,231.1 455.3,230.2 456.7,230ZM446.7,230.1 448.5,230.4 449.7,229.7 450.8,229 451.9,229 453,228.9 455.3,230.2 455.8,231.1 455.9,232.4 457.6,233 458.5,233.8 457.2,234.5 457.8,236 458.4,237.5 458.1,238.3 459.6,240.4 458.7,240.8 457.8,240.1 456.5,240 455.2,239.8 454.4,240.2 453.2,240.4 452,240.6 450.8,240.6 449.6,241.1 448.5,241.6 446.7,241.6 445.5,241.1 444.3,241.4 443.2,241.8 442.4,241.3 442.5,242.8 442,243.3 441.5,243.9 440.5,242.7 441.2,241.7 439.9,241.9 438,241.3 436.8,242.9 435.1,243 433.5,243.1 431.6,241.8 430.4,241.7 429.2,241.7 428.9,242.8 427.4,243.1 425.1,241.7 424,241.7 422.8,241.7 421.3,239.1 419.5,237.7 420.4,235.6 418.9,234.4 419.9,233.2 421,231.9 422.6,231.9 424.2,231.8 424.9,229.8 426.9,230 429,230.2 430.1,229.3 431.3,228.5 432.4,228.1 433.6,227.8 435.4,227.7 437.1,227.7 439.1,228.6 441.1,229.5 442.7,230 444.3,230.5 445.5,230.3ZM422,227.8 422.4,228.8 424.3,229.6 424,230.3 422.8,230.3 421.5,230.4 420.7,231.2 419.1,232.6 418.3,231.4 418.3,230.9 418.7,230.6 419.2,229 418.1,228.3 419.1,227.9 420.1,227.5ZM461.5,243.5 463.1,244.3 463.5,245.8 462.5,246.7 462.4,248.7 464.2,251.2 465.7,251.9 467.1,252.7 468.5,254.6 468.5,256.6 469.1,256.5 469.4,257.9 470.8,259.3 469.4,259.2 467.9,259 466.6,261.5 464.5,261.4 462.4,261.3 460.1,259.5 457.9,257.8 455.6,256 453.8,255.1 452.1,254.2 450.7,253.8 449.3,253.5 448.7,251.9 448,250.3 449.6,249.4 451.1,248.5 452.5,247.6 452.7,246 452.9,244.4 452.4,242.5 453.5,241.8 454.4,240.2 455.2,239.8 456.5,240 457.8,240.1 458.7,240.8 459.6,240.4 460.6,241.9ZM469,239.3 471.1,239.9 472.9,241.2 474.5,241.4 476,241.6 477.7,241.2 479.3,240.9 479.4,240.3 481.2,239.8 482.4,238.3 483.8,238.4 484.7,237.9 486.3,238.1 487.6,238.8 488.9,239.5 490.7,239.8 492.2,240.9 493.7,242 495.3,242.2 496,244.3 495.9,246 495.8,247.6 495.6,249.5 496.6,249.9 495.9,251.3 497,253.4 497.5,255.1 499.3,255.5 499.7,257.2 498.1,259.6 499.4,261 500.6,262.5 502.9,263.7 503.3,266 504.4,266.4 504.8,267.6 503.2,268.3 501.7,269 501.5,270.5 501.3,272 499.1,271.6 496.9,271.2 495.7,270.9 494.4,270.6 493.1,270.4 491.8,270.3 491.2,268.7 490.5,267 489.3,266.6 487.7,267.1 485.6,268.3 484.2,267.9 482.7,267.5 481.5,266.5 480.2,265.5 478,264.7 476.2,262.2 475.2,260.5 474.1,258.7 473,259.1 471.5,258.3 470.8,259.3 469.4,257.9 469.1,256.5 468.5,256.6 468.5,254.6 467.1,252.7 465.7,251.9 464.2,251.2 462.4,248.7 462.5,246.7 463.5,245.8 463.1,244.3 461.5,243.5 460.6,241.9 459.6,240.4 458.1,238.3 458.4,237.5 457.8,236 457.2,234.5 458.5,233.8 459,234.7 460.3,235.9 461.9,236.3 462.6,236.2 463.7,235.2 464.8,234.3 465.6,234.1 466.4,234.9 465.8,236.2 467.4,237.5 467.9,237.4ZM327,307.6 326,307.5 325.5,306.7 325.6,306.3 324.9,305.8 324.7,305.2 325.9,304.8 326.7,304.8 327.3,304.6 329.4,304.6 331.6,304.7 331.5,305.6 331.3,305.8 331.4,306.7 331.1,307 330.6,307 330,307.5 329.3,307.4 328.2,308.7ZM366.7,319.7 366.8,317.7 366.8,315.7 366.8,313.7 366.4,313.2 366.3,311.9 365.5,311 364.8,310.2 365.1,308.8 365.8,308.5 366.3,307.4 367.5,307.1 367.9,306.4 368.7,305.6 369.5,305.6 371.3,307.1 371.2,308 371.7,309.5 371.3,310.6 371.5,311.3 370.4,312.9 369.7,313.7 369.3,315.3 369.3,317 369.3,319.1 369.2,321.2 367.3,321.5ZM430.6,346.2 430,345 431.4,345.2 432.2,343.7 433.4,343.9 433.5,345 434,345.5 434,346.4 433.5,346.9 432.5,348.3 431.7,349.2 430.7,349.4 430.7,347.8ZM462.4,305.2 462.4,306.3 461.1,306.9 462.1,307.6 461.3,309 460.8,308.5 460.2,308.7 459,308.7 458.9,307.9 458.7,307.2 459.4,305.9 460.2,304.8 461.2,305 461.8,304.4ZM345.4,324 345.6,323.7 345.5,322.7 344.6,321.6 343.8,321.4 343.2,320.7 343.7,319.5 343.4,318.2 343.6,317.5 343.9,317.5 344.1,316.4 343.9,315.8 344.1,315.5 345,315.2 344.4,313.1 343.9,312 344.1,311.1 344.5,310.9 344.8,310.7 345.5,311 347.2,311.1 347.7,310.3 348.1,310.4 348.7,310.1 349.1,311.2 349.6,310.9 350.6,310.5 351.6,311 352,311.9 353,312.5 353.8,311.8 354.9,311.7 356.5,312.4 356.8,314.2 357.1,316.1 356.1,318.3 355.8,319.8 355.5,321.2 356.5,323.5 356.4,324.5 355.4,324.6 353.7,324 352.3,324.1 350.9,324.3 349.5,324.5 347.9,325.3 345.6,326.2 345.2,326.2ZM329.3,307.4 330,307.5 330.6,307 331.1,307 331.4,306.7 331.3,305.8 331.5,305.6 331.6,304.7 332.7,304.7 334.3,305.3 334.8,305.3 335,305 336.2,305.2 336.6,305.1 336.7,306 337.1,306 337.7,305.7 338,305.7 338.7,306.4 339.6,306.6 340.3,306.1 341,305.7 341.6,305.3 342,305.4 342.5,306 342.8,306.7 343.7,307.8 343.3,308.5 343.2,309.3 343.7,309.1 344,309.4 343.8,310.2 344.5,310.9 344.1,311.1 343.9,312 344.4,313.1 345,315.2 344.1,315.5 343.9,315.8 344.1,316.4 343.9,317.5 343.6,317.5 342.9,317.4 342.4,318.5 341.8,318.5 341.3,317.9 341.5,316.9 340.5,315.3 339.9,315.5 339.4,315.6 338.8,315.8 338.8,314.8 338.5,314.1 338.6,313.3 338.1,312.3 337.4,311.3 335.6,311.3 335,311.8 334.4,311.8 334,312.4 333.7,313.2 332.5,314.3 331.5,312.8 330.6,311.7 330,311.4 329.5,310.9 329.2,309.7 328.9,309.1 328.2,308.7ZM397.2,305.6 397.4,307.4 397.3,309.1 398.6,311.5 397.3,311.5 396.7,311.6 395.6,311.4 395.1,312.6 396.5,314.1 397.5,314.6 397.8,315.7 398.6,317.5 398.2,318.2 397.6,319.5 397.1,320.8 396.5,321.3 396.4,323.3 396.6,324.4 396.4,325.2 397.5,326.6 397.7,327.5 398.6,328.9 399.6,329.7 399.8,330.9 400,331.7 399.8,333.1 398,332.5 396.1,331.8 394.7,331.7 393.2,331.7 392.9,331.5 391.6,331.9 390.1,331.5 389.1,331.7 387.2,331.7 385.3,331.6 385.6,329.6 384.7,327.8 383.7,327.4 383.2,326.2 382.6,325.8 382.6,325.1 383.2,323.3 384.3,320.8 385,320.7 386.3,319.2 387.2,319.1 388.5,320.2 390.1,319.3 390.3,318.2 390.8,317.2 391.1,315.9 392.4,314.8 392.8,313 393.3,312.4 393.6,311 394.2,309.3 396.1,307.3 396.2,306.5 396.5,306 395.5,305 395.6,304.1 396.3,304ZM390.4,346.6 389.5,344.8 390.3,344.2 391.9,343.9 392.1,342.7 393.3,344 395.3,344.1 396,342.8 396.3,341.1 396.1,339 395,337.5 395.5,336 396,334.5 395.4,333.9 393.7,334.2 393,332.8 393.2,331.7 394.7,331.7 396.1,331.8 398,332.5 399.8,333.1 400,331.7 401.2,329.2 402.6,327.8 404.1,328.3 405.6,328.4 405.5,330 404.8,331.4 404.4,333 404.1,335.4 404.2,336.8 403.8,337.8 403.8,338.7 403.5,339.5 402,340.8 400.9,342.2 399.9,344.7 400,346.9 399.4,347.7 398,349 396.6,350.6 395.8,350.1 395.6,349.4 394.4,349.4 393.6,350.4 393,350.1 392.1,349.2 391.4,349.7 390.5,350.8 389.5,349.4 388.6,348ZM400.1,318 400.5,317.3 400.9,317.4 401.5,318 402.9,317.5 404.4,317 405.4,315.9 406.5,315 406.3,314.1 406.9,313.9 409.2,314 411.3,312.8 412.1,311.4 412.9,309.9 414.1,308.9 415.5,308.5 415.8,309.6 417.2,311.2 417.2,312.3 416.8,313.3 417,314.2 417.8,314.9 419.6,316.1 420.9,317.1 420.9,318 422.5,319.3 423.4,320.5 424.1,322 425.8,323.1 426.2,323.9 425.4,324.2 423.9,324.1 422.2,323.8 421.3,324.1 421,324.7 420.3,324.8 419.3,324.2 418.1,324.9 416.8,325.5 415.7,325.3 415.4,325.5 414.7,327.1 413,326.6 411.3,326.3 409.8,325.3 407.9,324.4 406.7,325.3 405.8,326.6 405.6,328.4 404.1,328.3 402.6,327.8 401.2,329.2 400,331.7 399.8,330.9 399.6,329.7 398.6,328.9 397.7,327.5 397.5,326.6 396.4,325.2 396.6,324.4 396.4,323.3 396.5,321.3 397.1,320.8 397.6,319.5 398.2,318.2ZM396.5,302.7 395,302.7 395,301 394,300 394.5,298.3 394.9,296.6 396.4,295.3 397.8,294.1 397.8,292.4 397.9,290.7 398.1,288.9 398.4,287.2 398.6,285.4 399.1,284.3 398.1,283.4 398,282.5 397.2,281.9 396.9,279.8 396.5,277.8 397.7,277.1 398.8,276.4 401.1,277.6 403.3,278.9 405.6,280.1 407.9,281.4 410.2,282.6 412.5,283.9 414.8,285.1 417.2,286.4 417.3,289 417.4,291.6 417.5,294.2 417.6,296.8 415.6,296.6 414.6,298.5 414.1,300.1 414.6,300.7 413.8,301.5 414.1,302.6 413.5,303.7 413.3,304.7 414.1,304.5 414.6,305.5 414.7,307 415.6,307.8 415.5,308.5 414.1,308.9 412.9,309.9 412.1,311.4 411.3,312.8 409.2,314 406.9,313.9 406.3,314.1 406.5,315 405.4,315.9 404.4,317 402.9,317.5 401.5,318 400.9,317.4 400.5,317.3 400.1,318 398.2,318.2 398.6,317.5 397.8,315.7 397.5,314.6 396.5,314.1 395.1,312.6 395.6,311.4 396.7,311.6 397.3,311.5 398.6,311.5 397.3,309.1 397.4,307.4 397.2,305.6 396.3,304ZM440.1,261.5 439.8,263.5 439.2,264.8 438.8,265.3 438,264.4 437,263 436.2,261.2 435.4,259.5 434.9,259.3 434.8,259.7 435.3,261.1 435.9,262.5 436.7,263.8 437.5,265.1 438.5,267.2 439.5,269.2 440.4,270.6 441.2,272.1 442.3,273.6 443.4,275 443,275.5 443.2,277.2 444.6,278.3 445.9,279.5 446.4,280 444.1,280 441.9,280 439.7,280 437.4,280 435.2,280 433,280 430.7,280 428.5,280 426.3,280 424,280 421.8,280 419.5,280 419.4,277.7 419.3,275.3 419.2,272.9 419.1,270.6 419,268.2 418.9,265.8 418.7,263.5 418.6,261.1 418.2,258.7 417.8,256.3 418.5,255 420,255 421.5,255 423.7,255.7 425.9,256.4 427,256.8 428.2,256.1 429.5,255.3 431.4,255 433,255.4 433.7,256.7 434.1,255.8 435.9,256.5 437.7,256.6 438.7,255.9 439.7,258.2 440.6,260.4ZM380.8,242.3 381.2,244.8 380.8,246.9 379.4,248.4 379.7,250.4 381.5,251.9 381.6,252.6 383,253.6 383.5,256 384,258.3 384.8,260.6 384.9,261.8 384.6,264 384.8,265.2 384.5,266.6 384.8,268.2 383.9,269.3 385.3,271.2 385.4,272.4 386.2,273.8 387.2,273.4 389,274.6 390.1,276.2 388.2,277.4 386.2,278.7 384.3,279.9 382.4,281.2 380.2,282.9 378.1,284.6 375.9,286.3 374.3,286.9 372.7,287.5 371.4,287.6 370.2,287.7 370.2,286.1 369.1,285.6 367.7,284.9 367.1,283.7 365.2,282.3 363.3,280.8 361.4,279.4 359.5,278 357.6,276.6 355.7,275.1 353.8,273.7 351.9,272.3 349.8,270.7 347.8,269.1 345.7,267.5 343.6,265.9 343.6,265.2 343.7,263.7 343.7,262.2 345.5,261.2 347.3,260.2 349.5,259.8 351.4,259.1 352.2,257.8 353.5,257.3 354.8,256.8 354.9,254.8 356.2,254.6 357.2,253.7 358.7,253.4 360.1,253.2 360.5,252.2 359.9,251.6 359.6,250.3 359.2,248.9 359.1,247.3 358.3,245.6 360.4,244.2 361.5,244 362.7,243.7 364.1,242.6 366.2,241.8 368,241.6 369.8,241.4 371.6,241.3 373.4,241.2 374.5,241.6 376.5,240.5 377.7,240.5 378.8,240.5 379.7,241.1 381.2,241ZM447.3,282.6 446.8,283.1 447,284.4 447.3,285.8 447.8,287.3 448.3,288.9 449.2,289.5 450.5,290.5 449.4,292 447.8,292.4 447.1,293.2 446.9,295 446.5,296.9 446.1,298.8 446.4,299.9 446.1,302.1 445.3,304.7 443.9,306 443,308 442.8,309.1 441.8,309.8 441.5,311.2 441.1,312.5 441.2,312.8 441.1,312.9 440.8,312.8 440.8,311.5 440.5,310.6 439.3,309.6 439,307.7 439.2,305.7 438.1,305.6 438,306.2 436.6,306.3 437.2,307 437.5,308.6 436.2,310.1 435.1,311.9 434,312.2 432,310.7 431.1,311.2 430.9,312 429.7,312.5 429.7,313 427.4,313 427,312.5 425.4,312.4 424.6,312.8 423.9,312.6 422.7,311.1 422.3,310.4 420.7,310.7 420,311.9 419.5,314.3 418.7,314.8 418,315 417.8,314.9 417,314.2 416.8,313.3 417.2,312.3 417.2,311.2 415.8,309.6 415.5,308.5 415.6,307.8 414.7,307 414.6,305.5 414.1,304.5 413.3,304.7 413.5,303.7 414.1,302.6 413.8,301.5 414.6,300.7 414.1,300.1 414.6,298.5 415.6,296.6 417.6,296.8 417.5,294.2 417.4,291.6 417.3,289 417.2,286.4 417.1,285.3 418.4,285.3 419.7,285.3 419.6,282.7 419.5,280 421.8,280 424,280 426.3,280 428.5,280 430.7,280 433,280 435.2,280 437.4,280 439.7,280 441.9,280 444.1,280 446.4,280ZM432.3,395.5 431.5,395.9 430.5,395.4 429.5,395.4 428.2,394.2 426.4,393.8 425.8,392.1 425.9,391.2 424.9,390.9 423.7,389.5 422.5,388.1 421.8,386.5 421.4,386.1 420.6,384 421.8,384.2 423.1,384.3 423.8,384.6 424.6,384.5 425.9,382.8 428,380.7 428.8,380.5 429.1,379.6 430.5,378.5 432.2,378.2 432.3,379.1 434.2,379.1 435.3,379.6 435.7,380.3 436.8,380.5 438,381.3 437.9,383 437.8,384.6 437.3,386.4 437.1,388.4 437.4,389.2 437.1,390.7 436.7,391 436,392.9 434.8,394.3 433.5,395.8ZM477.2,371.3 477.7,373.1 477.8,374.6 477.9,376.2 478.4,377.4 478.1,378.7 477.7,379.5 477,377.9 476.5,378.7 476.8,380.6 476.6,381.8 475.9,382.4 475.6,384.6 475,386.1 474.5,387.6 473.8,389.4 473.1,391.2 472.2,393.7 471.3,396.2 470.7,398 470.2,399.8 469.5,401.3 468.9,402.8 467,403.5 465,404.6 463.7,403.9 462,403 461.5,401.6 461.5,399.3 460.9,397.2 460.8,395.3 461.3,393.4 462.4,393 462.5,392.1 463.7,390.1 464,388.5 463.6,387.2 463.2,385.6 463.2,383.1 464.1,381.7 464.5,380 465.6,379.9 467,379.4 467.8,378.9 468.8,378.9 470.2,377.4 472.2,375.8 473,374.5 472.7,373.3 473.6,373.6 475,371.8 475.1,370.3 475.9,369.1 476.7,370.2ZM393,353.2 393.9,352.9 396.1,352.9 398.4,353 400.7,353 401.2,354.9 401.9,356.5 402.4,357.4 403.2,358.7 404.8,358.5 405.5,358.1 406.8,358.5 407.2,357.8 407.8,356.3 409.2,356.2 409.3,355.8 410.5,355.8 410.3,356.7 411.7,356.7 413.1,356.7 413.1,358.3 413.6,359.3 413.2,360.9 413.3,362.5 414.1,363.5 414,365 413.9,366.6 414.5,366.3 415.5,366.4 416.9,366 418,366.2 418.2,367 417.9,368.3 418.3,369.5 417.9,370.5 418.1,371.4 416.5,371.4 414.9,371.4 413.3,371.3 413.2,373.4 413.2,375.5 413.1,377.6 413,379.7 414.5,381.8 415.9,383.4 413.8,384 411.7,384.5 409.9,384.4 408,384.3 406.2,384.1 404.6,382.9 402.8,382.9 400.9,382.9 399.1,382.9 397.2,383 395.4,383 395.1,383.2 393.7,382 392.2,381.9 390.9,382.4 389.7,382.9 389.6,381.2 389.9,378.9 390.7,376.5 390.9,375.4 391.6,373 392.2,372 393.5,370.2 394.3,369.1 394.6,367.2 394.5,365.7 393.8,364.7 393.2,363.2 392.6,361.6 392.8,361 393.5,360 392.8,357.5 392.3,355.7 391.2,354.1 391.4,353.6 392.4,353.2ZM390.5,350.8 391.4,349.7 392.1,349.2 393,350.1 392.1,350.7 391.8,351.3 391.7,352.5 391.1,352.7ZM308.7,298.4 308.7,297.6 309.4,297.8 309.2,298.5ZM307.2,294 308,293.9 307.9,294.4ZM311.1,293.7 310.7,294.3 310.5,293.5ZM305.3,292.9 306,292.6 306.1,293.3 305.4,293.4ZM465,370 464.7,369.3 465.3,369.5ZM462.6,368.7 462.2,368.3 462.4,367.4 462.9,367.9ZM572.8,281.8 571.9,281.4 572.4,283.5 571.6,282.2 571.2,280.8 570.6,279.6 569.5,278 567.4,277.9 567.7,279 567.2,280.5 566.2,279.9 565.9,280.4 565.2,280.1 564.3,279.9 563.7,277.7 562.6,275.8 562.7,274.2 561.2,273.5 561.6,272.5 562.8,271.6 561,270.2 561.4,268.4 563.4,269.6 564.5,269.7 565.1,271.5 567.3,271.9 569.3,271.8 570.7,272.3 570,274.5 569,274.6 568.6,276.1 570,277.5 570.1,275.8 570.8,275.8 571.7,277.9 572.6,279.9ZM604.9,283.4 603.4,285.9 603.2,287.7 604.3,289.1 605.4,290.5 606.7,292.2 608,293.9 610.3,295.5 612,297.6 612.8,300 613.6,302.5 613.7,304.8 613.8,307.1 612,308.8 610.8,309.6 609.5,310.5 607.9,312.7 606.5,313.9 605.1,315.1 604.2,313.4 604.7,311.6 602.9,310.2 604.8,309.1 606,309 607.2,308.9 606,307.3 607.9,306.3 609.7,305.3 609.7,303.7 609.6,302.2 608.9,300.5 609,297.8 608.2,296 606.2,294.2 604.5,291.8 603.3,290.3 602.1,288.8 600.6,288 599.1,287.2 599.6,286.3 601,285.6 599.7,283.3 598.3,283.3 596.9,283.3 595.5,280.9 593.9,278.8 595,278.2 596.8,278.2 598.9,277.9 600.6,276.5 601.9,277.5 604,278 603.9,279.5 605.2,280.5 606.4,280.9 607.6,281.2 606.2,282.3ZM512.4,226 513.7,225.6 515.6,226.1 517.4,226.5 517.3,225 518.2,224.5 519.9,225 521.6,225.5 522.3,225.3 524,225.3 525.8,225.3 527.4,225.5 529,225.6 530.4,226.5 531.8,226.9 531.7,227.5 530.3,228.2 528.9,228.9 528.5,229.9 527.2,230.1 525.9,230.2 525.6,231.9 524.4,231.7 523.3,231.5 522,232 520.3,233.3 520.8,233.9 520.4,234.5 518.4,234.7 516.4,234.9 515,234.5 513.5,234 512.4,234.1 511.3,234.2 511.1,232.7 512.3,233 513.5,233.2 514,232.4 515.7,232.6 516.8,231.7 517.9,230.7 516.4,230.1 515,229.4 513.7,230 511.8,229.1 513,227.4 512.3,227.1ZM527.2,241.7 528.4,243.7 530.3,244.2 532.2,244.8 530.7,247 529.5,247.2 528.4,247.3 526.6,247 524.9,246.7 524.1,247.8 525.4,250.1 526.6,251.9 528.7,253.2 527.1,254.7 527.6,256.6 526,259.2 525.5,260.5 525.1,261.8 524.1,263.2 523.2,264.6 521.9,264.5 520.6,264.4 519.6,265.8 518.6,267.1 520.2,268.3 520.8,270.3 522.2,271.6 522.9,273.9 521.3,273.9 519.6,273.9 518,273.9 516.7,275.6 515,275 514.1,273.1 512.1,271.1 510,271.3 508,271.6 506.2,271.6 504.4,271.6 502.8,271.8 501.3,272 501.5,270.5 501.7,269 503.2,268.3 504.8,267.6 504.4,266.4 503.3,266 502.9,263.7 500.6,262.5 499.4,261 498.1,259.6 500.1,260.2 502,260.9 504.2,260.5 505.6,260.8 505.9,260.3 507.5,260.5 508.9,260 510.2,259.4 509.9,257.2 510.9,255.7 512.5,255.7 512.6,255 514.2,254.6 515.1,254.9 515.8,254.1 515.3,252.6 515.9,251 517.2,250.3 515.9,248.6 518,248.7 518.4,247.7 518.1,246.7 518.9,245.6 518.3,244.3 517.5,243.2 518.5,242.1 519.6,241.8 520.7,241.6 521.9,241.4 523.1,241.2 524.1,240.8 525.2,240.5ZM462.7,216.1 462.5,214.7 460.8,213.1 459.4,213.1 457.2,211.4 457.9,209.5 457.2,208.9 457.6,207.5 458.1,206.2 459.3,206.9 460.5,207.6 460.2,205.8 461.4,204.9 462.5,204 463.6,203 465.1,203 466.6,203 468.3,203.6 469.9,204.1 471.6,204.7 472.9,205.2 474.3,205.7 475.1,205.2 476,204.7 477.6,204.7 479.2,204.6 480.6,205.3 482.1,205.9 482.5,205.2 483.9,205.2 485.3,205.3 485.4,204.1 483.5,203.2 481.6,202.4 483,201.1 482.4,200.5 484,199.8 482,198.1 482.5,197.3 484.3,197 486,196.8 487.7,196.6 489.5,196.4 490.1,195.8 491.6,195.5 493.1,195.2 494.6,194.9 495.8,193.8 497.7,194.1 499.6,194.4 500.4,195.7 501.3,197 502.2,196.6 503.1,196.3 504.5,196.8 506,197.2 506.5,198.5 508.2,198.4 509.5,197.6 510.8,196.8 512,196.1 511.7,196.8 513.4,197.8 515.1,198.8 517.6,200.9 520.1,203 522.5,205.1 523,203.8 524.7,204.5 526.4,205.3 527.7,204.9 528.9,204.6 530.3,205.1 531.9,206.5 533.6,207 534.9,208.1 536.1,207.9 537.3,207.7 539.1,209.3 538.4,211 536.8,211.2 537.3,212.5 537.8,213.8 537.2,214.9 535,214.5 532.8,214.1 533,216.4 533.2,218.7 532.4,219.2 530.5,219.8 528.7,220.3 530.5,222.5 532.3,224.8 531.1,225.4 531.8,226.9 530.4,226.5 529,225.6 527.4,225.5 525.8,225.3 524,225.3 522.3,225.3 521.6,225.5 519.9,225 518.2,224.5 517.3,225 517.4,226.5 515.6,226.1 513.7,225.6 512.4,226 512.3,227.1 511.3,227.6 510.2,228.5 509,229.4 508.7,231.3 507.9,231.3 506.9,230 505.6,230 504.2,230 503.2,227.8 502.1,227.8 501.8,226.5 501.5,225.2 500,224.3 498.4,223.3 496.7,223.4 494.9,223.6 493.8,223.7 492.6,223.9 489.9,221.6 487.9,220.6 486,219.7 484.2,218.8 483.7,218.6 482.1,219.1 480.5,219.6 478.8,220.1 479.5,222.4 480.1,224.8 480.8,227.2 481.4,229.6 480.3,229.7 478.4,227.7 476.8,227 475.6,227.2 474.5,227.5 473.8,228.4 473.5,227.7 473.8,226.7 473.2,225.8 471.8,225.3 470.5,224.9 469,222.6 467.7,221.9 467.4,221.1 469.5,221.3 469.1,219.4 470.8,219 472.7,219.4 472.4,216.9 471.6,215.3 469.6,215.5 467.7,214.8 466.6,215.4 465.6,215.9 463.8,216.5ZM535.4,247.8 535.7,249.9 536.9,251.3 537.2,252.6 535.5,252.3 536.2,253.7 536.8,255.1 539.3,256.8 541.1,257.7 542.8,258.6 541.7,259.8 541.3,262.3 543.7,263.3 546,264.5 547.6,265.3 549.2,266 550.8,266.2 552.4,266.4 553.9,267.7 555.6,267.9 557.1,268.2 558.5,268.5 560.3,268.5 560.4,267.5 559.8,265.8 559.7,264.7 560.9,264.1 561.6,266.2 561.7,266.7 563.9,267.7 565.3,267.3 567.2,267.5 569,267.4 568.8,265.8 567.8,265 569.5,264.6 571.1,262.7 572.2,261.8 573.3,261 575.3,261.7 576.6,260.6 578,262.2 577.5,263.3 578.8,263.5 580,263.7 580.4,264.7 579.7,265.1 580.3,266.8 578.6,266.3 577.3,267.2 576.1,268.1 576.5,269.6 575.6,271.8 575.7,273 575.1,275.2 573.2,274.6 573.4,276 573.6,277.3 573.2,278.2 573.6,279.3 572.6,279.9 571.7,277.9 570.8,275.8 570.1,275.8 570,277.5 568.6,276.1 569,274.6 570,274.5 570.7,272.3 569.3,271.8 567.3,271.9 565.1,271.5 564.5,269.7 563.4,269.6 561.4,268.4 561,270.2 562.8,271.6 561.6,272.5 561.2,273.5 562.7,274.2 562.6,275.8 563.7,277.7 564.3,279.9 564.1,280.9 562.6,280.8 561.2,281.1 559.9,281.4 560.3,283.3 559.3,284.9 557.8,285.8 556.2,286.6 555.2,288.2 554.1,289.7 552.6,291.4 550.5,293.1 550.6,294.3 549.5,294.9 547.6,295.9 546.5,296 546.1,298 546.4,299.7 546.8,301.4 547.1,303.6 546.3,306.1 546.5,308.3 546.6,310.5 545.4,310.6 544.5,312.6 545.3,313.5 543.2,314.2 542.5,316 541.6,316.8 539.3,314.3 538.7,312.5 538.1,310.7 537.5,309.3 537,308 536.1,306.8 534.7,304.3 534.3,302.6 533.9,301 533.4,299.4 532.2,297.6 531,295.8 530.3,293.2 529.6,290.7 529,289 528.5,287.3 528.3,285.8 528.2,284.2 527.5,281.7 525.9,282.5 524.3,283.3 522.7,283 521,281.4 519.4,279.8 520.4,278.9 519.6,277.9 518.1,276.7 516.7,275.6 518,273.9 519.6,273.9 521.3,273.9 522.9,273.9 522.2,271.6 520.8,270.3 520.2,268.3 518.6,267.1 519.6,265.8 520.6,264.4 521.9,264.5 523.2,264.6 524.1,263.2 525.1,261.8 525.5,260.5 526,259.2 527.6,256.6 527.1,254.7 528.7,253.2 526.6,251.9 525.4,250.1 524.1,247.8 524.9,246.7 526.6,247 528.4,247.3 529.5,247.2 530.7,247 532.2,244.8 533.8,246.3ZM706.5,460.6 705.4,460.8 706.4,459.6 707.4,459.9ZM731.7,444.6 731.5,445.7 730.7,446.8 729,448 726.1,449.9 724.2,450.9 723.9,452.2 722.3,452.2 719.7,453.2 717.7,454.9 716.1,456.2 714.4,457.5 711.8,458.6 710.2,459.3 708.3,459.3 707.7,458.4 706.7,458.3 705.6,458.3 706.1,457.3 708.7,455.4 711.1,454.1 713.4,452.9 715.1,452.4 717.4,451.4 720.3,450 722.6,448.7 725,446.8 726.3,446.1 727.7,444.7 730.1,443.5 729.7,444.6 729.4,445.6ZM742.3,429.9 741.5,432.2 741.5,433.6 741.4,434.9 742.6,433.2 743.1,433.9 742.1,435.8 743.3,436.7 744.6,436.9 746.5,435.9 747.4,436.2 745.3,438.5 743.6,440 742,440 740.8,440.8 740.2,441.9 739.6,442.4 737.8,443.8 735.3,445.5 732.9,446.6 733.1,445.9 732.5,445.5 735.3,443.4 735.6,442 734.9,441.4 734.1,440.9 734.8,440 737,439.1 738.7,437.1 739.7,435.4 739.9,433.6 740.3,433.2 739.9,432.1 739.6,429.8 739.8,427.9 740.7,427.7 741,429.2Z"/>
<path fill="#d6604d" d="M172,300.2 171.6,302.1 171.4,303.3 171.4,305.2 170.9,307.2 170.4,307.9 170.8,309 169.9,309.4 168.4,308.6 166.4,308.2 166,308.6 165.3,307.8 164.4,306.7 163,305 161.9,303.8 162.8,303.6 163.5,303.5 164.2,302.9 164.2,301.6 165.3,301.6 165.8,300.9 166.7,301.1 167.9,300.1 168.7,298.9 169.9,299 172,298.4 172.8,298.4ZM350.4,309 351.1,307.8 351,307 352.8,304.8 353.2,303 353.8,302.4 354.9,302.7 355.9,302.2 356.2,301.5 358,300.3 358.4,299.5 360.6,298.4 361.8,298 362.4,298.6 363.8,298.5 363.7,299.8 364,301 365.3,302.7 365.3,304 366.7,304.3 368,304.6 367.9,306.4 367.5,307.1 366.3,307.4 365.8,308.5 365.1,308.8 363,308.8 362,308.6 361.3,309 360.2,308.8 358.2,308.9 356.2,308.9 356.2,310.4 356.5,312.4 354.9,311.7 353.8,311.8 353,312.5 352,311.9 351.6,311 350.6,310.5ZM513.5,233.2 512.3,233 511.1,232.7 511.3,234.2 512.4,234.1 513.5,234 515,234.5 516.4,234.9 518.4,234.7 520.4,234.5 521.6,236.9 522.2,236.6 523.7,237.2 523.9,238.2 524.6,239.7 523.5,239.7 522.4,239.7 520.9,239.5 519.9,240.7 519,241 518.3,241.5 517.3,240.6 516.9,238.4 516.2,238.3 516.2,237.5 514.9,236.9 514.2,237.8 514.3,238.9 514.1,239.3 512.7,239.2 512.4,240.4 511.5,239.9 510.2,240.8 509.4,240.5 509.7,239.1 509.9,237.8 509,235.9 507.2,235.2 507.5,234.1 509.3,234.2 509.9,232.8 510.1,231.1 511.4,230.8 512.8,230.5 512.7,231.7 513.2,232.4 514,232.4ZM474.5,227.5 475.6,227.2 476.8,227 478.4,227.7 480.3,229.7 481.4,229.6 482.6,229.6 483.8,229.6 483.1,228.3 484.7,227.4 486,225.9 487.6,226.6 489.2,227.2 490,229.3 491,229.8 492.1,229.8 493.2,229.7 494.1,230.2 494.9,231.5 495.8,232.9 497.2,233.8 498.7,234.7 500.4,235.9 501.7,236.5 503,237.2 504.5,237.7 506.1,238.3 506.4,239.9 505.8,239.8 504.6,239.1 504.5,240 502.8,240.5 502.8,242.6 501.8,243.4 500.2,243.8 500,245 498.4,245.3 497.2,244.8 496,244.3 495.3,242.2 493.7,242 492.2,240.9 490.7,239.8 488.9,239.5 487.6,238.8 486.3,238.1 484.7,237.9 483.8,238.4 482.4,238.3 481.2,239.8 479.4,240.3 478.6,238.4 478.5,237.1 478.3,235.7 476.5,234.9 476.6,233.1 475.2,232.9 475.2,230.7 477.3,231.4 479,230.5 477.1,229 476.1,227.5 474.6,228.2 474.8,230 473.8,228.4ZM498.4,245.3 500,245 500.2,243.8 501.8,243.4 502.8,242.6 502.8,240.5 504.5,240 504.6,239.1 505.8,239.8 506.4,239.9 507.7,239.9 509.4,240.5 510.2,240.8 511.5,239.9 512.4,240.4 512.7,239.2 514.1,239.3 514.3,238.9 514.2,237.8 514.9,236.9 516.2,237.5 516.2,238.3 516.9,238.4 517.3,240.6 518.3,241.5 519,241 519.9,240.7 520.9,239.5 522.4,239.7 523.5,239.7 524.6,239.7 525.2,240.5 524.1,240.8 523.1,241.2 521.9,241.4 520.7,241.6 519.6,241.8 518.5,242.1 517.5,243.2 518.3,244.3 518.9,245.6 518.1,246.7 518.4,247.7 518,248.7 515.9,248.6 517.2,250.3 515.9,251 515.3,252.6 515.8,254.1 515.1,254.9 514.2,254.6 512.6,255 512.5,255.7 510.9,255.7 509.9,257.2 510.2,259.4 508.9,260 507.5,260.5 505.9,260.3 505.6,260.8 504.2,260.5 502,260.9 500.1,260.2 498.1,259.6 499.7,257.2 499.3,255.5 497.5,255.1 497,253.4 495.9,251.3 496.6,249.9 495.6,249.5 495.8,247.6 495.9,246 496,244.3 497.2,244.8ZM610.3,289.2 609.8,286.9 610.7,285.8 611.9,285.4 613.1,285 614.4,285.1 615.1,286.1 614.3,287.2 614,288.7 612.3,290ZM635.5,226.7 634.2,227.3 632.9,227.8 634,229.2 632.1,229.1 630.6,228.3 630.2,230.1 629.4,230.8 628.6,231.5 627.7,233.2 626.4,233.6 625.1,233.9 624.2,235.2 623.2,235.5 622.2,235.9 622.8,234.7 621.8,233.7 622.6,231.9 620.8,230.5 619.4,231.5 618.7,232.4 617.9,233.3 617.4,235 615.4,235.1 614.8,236.3 616.8,238.1 618.7,238.5 619.3,239.6 621.4,240.4 622.2,239.5 622.9,238.6 625.3,239.6 626.8,239.6 627.7,241 626.3,241.4 625,241.7 624.6,243.1 623,244.4 622.7,246.3 624.1,247 625.6,247.7 627.5,250.3 629.7,252.7 631.9,254.7 632.6,256.6 631.4,257.3 632.4,258.8 634,259.6 634.3,261.7 634.3,263.8 633.2,264 632.8,265.4 632.4,266.8 631.9,268.6 631.4,270.3 630.8,271.8 630,273.4 628.7,274.6 627.4,275.8 626.1,276.9 624.7,278 623.5,278.2 622.2,278.3 621.1,279.5 620.1,278.6 619.1,279.9 617.6,280.6 616.1,281.2 615,281.4 613.8,281.6 613.7,283 613.5,284.4 612.3,284.5 611.4,282.6 611.7,281.6 610.1,281.2 608.6,280.8 607.6,281.2 606.4,280.9 605.2,280.5 603.9,279.5 604,278 601.9,277.5 600.6,276.5 598.9,277.9 596.8,278.2 595,278.2 593.9,278.8 592.8,279.2 593.2,280.7 593.6,282.2 592.4,282.1 592.1,281.5 591.8,280.4 590.3,281.2 589.2,280.7 587.4,279.7 587.7,277.6 586.2,277.1 585.2,274.7 584.1,274.9 582.9,275.1 582.8,273.5 582.7,272 584.4,269.8 584,267.6 583.5,265.6 582.4,265 581.3,263.5 580,263.7 578.8,263.5 577.5,263.3 578,262.2 576.6,260.6 575.3,261.7 573.3,261 572.2,261.8 571.1,262.7 569.5,264.6 567.8,265 566.6,264.2 565.4,264.2 563.7,263.6 562.6,264.2 561.6,266.2 560.9,264.1 559.7,264.7 558.4,264.5 557,264.4 555.7,264.1 554.4,263.8 552.4,262.7 550.5,262.2 549.5,260.9 548.2,260.5 546.9,259.7 545.6,258.8 543.6,258 542.8,258.6 541.1,257.7 539.3,256.8 536.8,255.1 536.2,253.7 535.5,252.3 537.2,252.6 536.9,251.3 535.7,249.9 535.4,247.8 533.8,246.3 532.2,244.8 530.3,244.2 528.4,243.7 527.2,241.7 525.2,240.5 524.6,239.7 523.9,238.2 523.7,237.2 522.2,236.6 521.6,236.9 520.4,234.5 520.8,233.9 520.3,233.3 522,232 523.3,231.5 524.4,231.7 525.6,231.9 525.9,230.2 527.2,230.1 528.5,229.9 528.9,228.9 530.3,228.2 531.7,227.5 531.8,226.9 531.1,225.4 532.3,224.8 530.5,222.5 528.7,220.3 530.5,219.8 532.4,219.2 533.2,218.7 533,216.4 532.8,214.1 535,214.5 537.2,214.9 537.8,213.8 537.3,212.5 536.8,211.2 538.4,211 539.1,209.3 539.8,209.1 541.2,210.9 543.5,212.2 545.2,212.7 546.9,213.2 549.2,215.2 549.5,216.7 549.8,218.2 551,219.3 552.3,219.5 553.7,219.8 555.1,219.9 556.6,220.1 558.2,220.9 559.9,221.7 561.3,222 563.3,224.4 565.2,225.9 566.4,225.9 567.5,225.9 569,226.1 570.6,226.3 572.1,226.5 573.4,226.3 574.8,226.1 577,226.5 578.9,227.3 580.8,228 582.1,228 583.4,228 584.7,228.9 585.6,228.2 586.5,227.5 588,227 589.4,226.6 591,226.5 592.5,226.5 593.5,226 594.5,225.6 595.3,224.2 596.4,223.3 595.6,222.5 594.4,221.5 594.5,219.8 595.8,220 597,220.3 598.2,220.6 599.6,219.2 600.9,218.7 602.2,218.2 602.7,216.5 603.7,215.8 605.1,215.6 606.5,215.4 608.3,215.7 607.9,214.8 605,213 602.9,212.2 601.9,213.2 599.6,212.8 598.7,213.1 597.5,212 597.4,209.5 597.2,207.6 598.7,208.1 600.2,208.5 601.1,207.7 602,207 601.2,205.8 601.2,204.5 601.2,203.2 601.7,202.4 600.7,201 599.2,200.4 599.8,199.1 600.9,198.9 601.9,198.7 603.2,198.7 604.5,198.6 606.2,199 608,199.4 610.4,200.3 612,201.6 613.6,202.8 615.1,203.9 616.9,205.4 619.4,207.9 621.5,208.3 623.5,208.7 625.3,209.6 627.1,210.5 629.6,212.9 631.1,212.9 632.7,212.9 633.8,211.9 635.2,211.6 636.6,211.2 637.1,213.5 637,214.4 637.6,215.8 638.1,217.2 638.4,219.7 637,219.5 635.6,219.2 634.4,220.1 636.4,222.4 637.2,223.9 637.9,225.4 636.9,225.5 637.7,226.8 635.4,225.3Z"/>
<path fill="#92c5de" d="M171.2,310.4 173.1,312.6 172.7,312.7 172.1,313.9 172.1,314.6 171.9,316.1 170.7,315.5 170.3,314.9 170.5,314.5 170.5,313.9 169.9,313.3 168.2,312.5 168.2,311.7 167.2,312.6 166.7,311.9 166,311.6 165.7,311.1 165.7,310.3 166.1,309.5 165.5,309.1 166,308.6 166.4,308.2 168.4,308.6 169.9,309.4 170.8,309ZM200.5,285.6 202.2,285.6 203.5,286.3 204.1,286.2 204.4,287.1 205.7,287.1 205.5,287.8 206.5,287.9 207.6,288.9 206.6,290 205.6,289.4 204.5,289.5 203.8,289.4 203.3,289.9 202.4,290 202.2,289.4 201.4,289.8 200.3,291.6 199.7,291.1 199.7,290.4 199.8,289.7 199.3,288.9 199.9,288.5 200.2,287.5 200.2,286ZM188,289.5 189.1,290.1 189.4,290.8 187.8,290.9 187.1,291.3 185.8,290.9 184.6,289.9 185,289.3 186,289.2 186.5,289.2ZM232.5,480.1 233.7,480.2 233.5,481.1 232.2,481.9 231.1,481.8 230,481.6 228.2,480.9 227.1,480.7 226,480.5 224.5,479.8 223,479.2 221.7,478.5 220.4,477.8 218.4,476.4 216.4,475 218.2,475.6 220.1,476.6 221.9,477.5 223.3,477.9 224.8,478.2 225.3,477.2 225.4,475.6 226.7,474.7 228,474.5 228.8,476.4 229.6,478.2 230.4,480.1 231.5,480.1ZM204.4,383.6 205.7,385.4 206.2,387.3 207.5,388.4 207,390.9 207.8,392.4 208.6,393.8 209.2,395.6 209.8,397.4 211.4,397.1 211.8,397.7 211.5,399.1 211.3,400.5 210.2,401.1 209,401.7 209.3,403.9 209.7,406.1 209.3,407 210.1,408 208.8,409.6 207.8,412.1 207.4,414.4 208.1,417 207.6,418.3 207.2,419.7 208.2,421.9 209.2,424.2 209.9,424.6 210.4,427 209.8,429.6 210.4,431.8 209.2,433.5 209.8,435.9 211.1,438.4 210.1,439.4 210.2,441.7 210.3,443 210.5,444.4 211.2,445.9 211.8,447.5 211.2,448 211.9,449.5 212.6,451 213.9,452 213.6,453.1 214.7,453.6 215.3,454.6 214.6,455.1 215.3,456.6 215.5,458.3 215.8,459.9 215.5,462.1 216.2,463.4 216.2,465 215.1,466.2 215.7,467.5 216.3,468.9 217.4,469.8 218.7,469.6 219.4,471.5 220.9,473 222.5,473.1 224.2,473.2 225.8,473.3 227.8,473.7 226.5,474.2 224.9,474.8 224,475.4 224.5,477.7 223.1,477.4 221.8,477.2 220,476.1 218.3,475 216.7,474.3 215.2,473.6 213.8,472 213.7,470.5 212,468.9 211,466.7 210,464.5 209.9,462.1 210.6,461.1 211.3,460.1 209.6,459.7 207.9,459.4 209,457.1 208.6,455 208.2,452.8 209.5,453.3 210.8,453.7 210.6,451.9 210.3,450.2 210.1,448.4 208.4,447.7 208.7,449.3 208.9,450.9 207.4,450.5 207.1,448.7 206.8,446.8 206.4,444.4 206,442 206.5,440.3 205.1,437.7 204.6,436.3 204.2,434.8 205,434.7 205.2,432.6 205.3,430.5 205.5,428.4 205.8,426.3 205.8,424.4 205.8,422.4 205.1,420.4 204.5,418.5 204.7,416.3 204.3,414.7 203.9,413.1 204.2,411.5 204.6,409.9 204.4,407.4 204.3,404.9 204.2,403 204.3,401.2 204.3,399.4 204.3,397.5 204.3,395.5 204.3,393.6 204,391.4 203.7,389.3 203.3,387.4 202.8,385.6 203.9,384.9ZM337.3,169 338.2,169.8 339.1,170.6 337.9,171.5 336.6,172.4 334.9,172.9 333.1,173.4 331.3,173.9 329.7,174.4 328.6,174.2 327.4,174 325.8,173.8 324.2,173.5 322.6,173.3 324.5,172.3 323.3,171.9 322.1,171.5 320.9,171.1 322.5,170.9 324.1,170.7 324.1,170 322.9,169.8 321.8,169.6 320.6,169.5 322,168 323.4,167.8 324.7,167.7 325.9,168.4 327.2,169.2 328.6,168.6 330,167.9 331,168.3 332.1,168.6 333.6,168 335.1,167.4 336.5,167.5 337.9,167.5ZM375.5,207.6 375.5,208.7 374.9,208.7 374.4,208.5 374.6,207.1 375.1,207ZM371,204.1 372.9,203.6 374.2,204.7 375.3,205.3 375.1,207 374.6,207.1 374.4,208.5 372.6,207.3 371.6,207.5 370.2,206.3 369.2,205.3 368.3,205.3 368,204.4 369.6,203.9ZM376.9,199.4 376.5,201.7 376,202.6 374.9,202.6 375.1,204 375.3,205.3 374.2,204.7 372.9,203.6 371,204.1 369.6,203.9 370.6,203.2 371.4,201.4 372.2,199.5 373.5,199 374.9,198.5 376.5,198.6ZM397.4,213.1 396.3,213.1 396.7,213.7 396.2,215.3 395.8,215.8 394,215.8 393,216.4 391.3,216.2 389.8,215.9 388.4,215.5 387.8,214.6 385.8,215.1 385.6,215.6 384.4,215.2 383.3,215.1 382.4,214.7 382.7,214 382.6,213.6 383.2,213.5 384.2,214.2 384.5,213.5 386.3,213.6 387.7,213.2 388.7,213.2 389.4,213.7 389.5,213.3 389.1,211.7 389.8,211.3 390.5,210.2 392,211 393.1,209.9 393.8,209.7 395.4,210.5 396.4,210.4 397.3,210.9 397.2,211.2 397.5,212.1ZM393,216.4 394,215.8 395.8,215.8 396.2,215.3 396.5,215.4 397,216.2 395.4,216.9 395.3,217.9 394.6,218.2 394.7,218.9 393.9,218.9 393.1,218.5 392.8,218.9 391.3,218.8 391.8,218.6 391.2,217.5 391.3,216.2ZM417.4,244.9 419.1,245.1 419.1,245.6 420.2,245.3 420,246 418.4,246.1 416.9,246.2 416.9,245.8 415.5,245.6 414.2,245.3 414.5,244.2 415.7,245.1ZM406.9,231.9 407.6,231.5 407.6,230.8 408.9,230.6 409.7,230 410.8,230.1 411.1,229.6 411.5,229.5 413.1,229.6 414.7,228.9 416.3,229.8 418.2,229.6 418.1,228.3 419.2,229 418.7,230.6 418.3,230.9 417,230.8 415.8,230.5 414.6,230.9 413.3,231.2 415,232.7 413.9,233.1 412.7,233.1 411.5,231.8 411.1,232.3 411.7,233.9 412.9,235.1 412.2,235.7 413.5,236.9 414.6,237.6 414.8,239.1 412.7,238.4 413.5,239.8 412.1,240 413.1,242.3 411.7,242.4 409.8,241.2 408.9,239.2 408.3,237.4 407.4,236.2 406.2,234.7 406,234 406.9,232.7ZM417.5,211.4 418.8,211.2 420.4,212 421.2,212.1 422.2,212.8 422.2,213.6 423,214 423.5,215.1 424.3,215.8 424.2,216.1 424.6,216.4 424.1,216.6 422.9,216.5 422.6,216.2 422.2,216.4 422.5,216.8 422,217.7 421.8,218.5 421.3,218.8 420.8,217.7 420.8,216.6 420.6,215.4 419.2,213.9 418.4,212.8 417.7,212.1 417,211.8ZM408.8,186.5 408.1,186.8 406.8,186 406.4,184.6 407.5,184.2 408.6,183.9 409.8,183.7 410.9,183.6 411.9,183.8 413,183.9 413.9,183.9 414.9,183.9 415.3,184.3 414.2,185.7 415.2,188 414.6,188.7 413,188.7 411.2,187.8 410.3,187.5 408.8,188ZM403.1,190.4 403.8,188.9 405.4,188.1 407.2,189.9 408.7,189.8 408.8,188 410.3,187.5 411.2,187.8 413,188.7 414.6,188.7 415.6,189.3 416,190.5 416.8,191.9 415.9,192.4 414.9,192.9 413.8,193.3 411.8,192.1 410.8,191.9 410.4,191.4 408.6,191.7 407,191.6 405.4,191.5 404.3,191.9 403.3,192.3ZM384.2,193.9 383.9,192.9 385.3,192.5 386.6,192.1 387.4,193.3 386.4,195.3 385.3,194.6ZM379.2,189.6 380.8,189.5 381.5,188.8 382.9,188.1 383,189.3 382.5,190.2 382.7,190.8 383.8,191.2 383.4,192.1 382.8,191.9 381.5,193.6 382.1,194.8 380.9,195.2 379.5,194.9 378.6,193.5 378.5,192.3 378.4,191 378.7,190.4ZM351.2,199.4 349.6,201.6 347.8,202.4 346,203.1 344.6,202.9 343.2,202.7 344.1,201.4 345,200.1 344.6,198.8 344.1,197.6 345.5,196.6 346.9,195.6 348.4,194.5 348.7,195.8 348.3,197.1 349.5,197.1 350.9,197.6ZM357.2,188.2 358.3,188.2 359.3,188.2 358.8,190.2 357,192.4 358,192.5 359,192.6 359.9,194.1 360.9,195.7 362.2,196.1 362.8,197.5 363.4,198.9 363.9,199.9 365.1,200.2 366.3,200.4 366.1,202 365.1,202.7 365.9,204.1 364.1,205.4 362.8,205.4 361.4,205.4 359.7,205.7 358,206 357.1,205.5 355.8,206.7 353.9,206.4 352.5,207.4 351.4,206.9 352.9,205.6 354.4,204.3 356.2,203.7 354.7,203.5 353.1,203.3 352.6,202.3 353.6,201.9 354.7,201.5 353.6,200.2 354.1,198.5 355.5,198.6 357,198.8 357.3,197.3 356,195.7 354.8,195.5 353.6,195.3 353.2,194.6 353.9,193.5 353.3,192.9 352.2,194 352.2,191.6 351.3,190.4 351.7,189.1 352.1,187.9 353.6,185.9 355.1,186.1 356.3,186 357.4,185.9 356.4,187.2 355.3,188.5 356.3,188.4ZM349.5,197.1 348.3,197.1 348.7,195.8 348.4,194.5 350,194.4 351,195.1 352,195.9 350.9,197.6ZM344.7,227.5 345.6,227.1 346.1,228.4 347.3,228.4 347.7,228 348.9,228.1 349.5,229.4 348.5,230.1 348.4,232.1 348,232.5 347.9,233.8 347,234 347.8,235.5 347.2,237.2 347.9,238 347.6,238.7 346.7,239.7 346.9,240.6 346,241.2 344.9,240.9 343.8,241.2 344.2,239.1 344,237.5 343.1,237.3 342.6,236.3 342.8,234.6 343.7,233.6 343.9,232.6 344.4,231 344.4,229.9 344,229 344,228.1ZM383.1,227.4 382.5,229.4 381.5,228.9 381,227.1 381.4,226.2 382.7,225.2ZM369.2,205.3 370.2,206.3 371.6,207.5 372.6,207.3 374.4,208.5 374.9,208.7 375.5,208.7 376.4,209.3 377.9,209.6 379.4,209.8 378.4,211.6 378.2,213.4 377.7,213.8 376.7,213.6 376.8,214.2 375.4,215.6 375.4,216.8 376.3,216.4 377.1,217.5 377,218.2 377.7,219.2 377,220 377.6,222 378.7,222.3 378.5,223.4 376.7,224.9 374.6,224.5 372.5,224.2 371,224.6 369.5,225 369.3,226.6 368.1,226.8 366.8,226.9 365.7,226.3 364.5,225.7 363.7,226.3 361.8,225.7 359.9,225.2 359,224.1 360.1,222.6 360.3,220 360.6,217.5 359.5,216.1 358.4,214.8 357,213.5 355.4,213 353.9,212.5 353.7,210.7 355,210.4 356.3,210.1 358,210.4 359.7,210.8 359.4,209.3 359.1,207.9 361,209 362.6,208.3 364.1,207.6 365.7,207 366.3,204.9 368,204.4 368.3,205.3ZM382.2,195.8 383.2,196.1 384.2,196.4 384.3,197.3 385.3,197 386.2,196.8 387.3,196.1 388.4,196.6 389.5,197.1 390.5,197.9 391.1,199.1 390.6,199.8 391.4,200.7 392,202 391.9,202.9 392.9,204.5 392,204.8 391.5,204.5 391,205 389.6,205.5 388.9,206.1 387.5,206.6 387.9,207.4 388.2,208.4 389.3,209.1 390.5,210.2 389.8,211.3 389.1,211.7 389.5,213.3 389.4,213.7 388.7,213.2 387.7,213.2 386.3,213.6 384.5,213.5 384.2,214.2 383.2,213.5 382.6,213.6 381.4,213.2 380.3,212.8 380,213.4 378.2,213.4 378.4,211.6 379.4,209.8 377.9,209.6 376.4,209.3 375.5,208.7 375.5,207.6 375.1,207 375.3,205.3 375.1,204 374.9,202.6 376,202.6 376.5,201.7 376.9,199.4 376.5,198.6 376.8,198 378.5,197.9 378.9,198.4 380.1,197.2 379.6,196.3 379.5,194.9 380.9,195.2 382.1,194.8ZM384.3,184 385.7,182.3 385.8,180.9 386,179.6 384.7,178.3 384.5,176.8 384.4,175.2 385.3,173 387.1,173.1 387.6,172.1 386.9,171.4 388,169.7 389.2,168.2 389.9,166.9 390.6,165.6 391.5,164.1 393.1,164.1 393.4,162.8 395,163 396.6,163.2 396.6,161.7 397.6,161.6 398.9,162.1 400.1,162.7 401.6,163.4 403,164.2 403.4,165.9 403.8,167.7 404.5,168.6 403.1,168.9 401.6,169.2 400.2,170.8 400.7,172.2 399.5,173.2 398.2,174.1 396.6,175.1 395,176.1 394.6,177.8 394.2,179.4 395.7,181.1 397.6,182.4 397,183.8 396.3,185.2 395.4,185.4 394.4,185.7 394.3,187.7 394.2,189.8 393.4,192.1 392.2,192 391,191.8 390.1,193.8 389,193.8 387.9,193.9 387.1,191.6 386.2,190.2 385.3,188.8 384.4,187.1 383.6,185.4ZM411.1,163.3 412.6,164 414.1,164.7 412.9,166.5 414.3,167.7 415.6,169 414.9,171 416.9,172.7 416.5,174.2 418,175 419.6,175.8 419.2,177 417.8,178.4 416.7,179.4 415.7,180.4 414.6,181.4 412.9,181.5 411.3,181.6 409.7,182 408.2,182.5 406.7,182.7 405.3,183 404,181.7 402.1,180.9 402.1,178.6 400.9,176.4 401.5,175.1 402.9,173.6 404.1,172.8 405.3,171.9 406.5,171.1 407.5,170.6 407.1,169.7 405.8,169.1 404.5,168.6 403.8,167.7 403.4,165.9 403,164.2 401.6,163.4 400.1,162.7 398.9,162.1 397.6,161.6 398.5,161 399.6,161.6 400.6,162.2 401.7,162.1 402.8,162.1 403.8,162.4 404.7,162.6 406.1,161.7 406.6,160 407.8,159.7 409,159.3 410.1,159.7 411.3,160.2 411,161.7ZM441.5,252 442.8,252.6 444.1,253.1 446.1,251.7 448,250.3 448.7,251.9 449.3,253.5 448.9,253.9 446.8,254.5 444.7,255.2 447.2,257.8 446.5,258.2 446.2,259.1 444.5,259.5 444.1,260.4 443.2,261.2 442,261 440.7,260.8 440.6,260.4 440.9,258.3 441.3,256.2 441.1,255.2 441.4,254.5 441.2,252.9ZM453.5,241.8 452.4,242.5 452.9,244.4 452.7,246 452.5,247.6 451.1,248.5 449.6,249.4 448,250.3 446.1,251.7 444.1,253.1 442.8,252.6 441.5,252 441.7,251.6 441.6,250.5 441.9,249.1 443,248.1 442.5,247.1 441.5,247 441.1,245 441.5,243.9 442,243.3 442.5,242.8 442.4,241.3 443.2,241.8 444.3,241.4 445.5,241.1 446.7,241.6 448.5,241.6 449.6,241.1 450.8,240.6 452,240.6 453.2,240.4 454.4,240.2ZM324.7,302 326,302 327.2,302 327.7,301.3 328.5,301.3 329.3,301.9 330,301.9 330.8,301.5 331.3,302.3 330.3,302.9 329.3,302.8 328.3,302.3 327.4,302.9 327,302.9 326.5,303.3 324.4,303.2ZM323.8,300 322.7,299.1 323.7,298.6 324.8,296.7 325.4,295.4 326.2,294.5 327.3,294.8 328.4,294.2 329.7,294.2 330.8,295 332.3,295.6 333.7,297.6 335.1,299.4 335.2,301 335.7,302.5 336.5,303.2 336.7,304.2 336.6,305.1 336.2,305.2 335,305 334.8,305.3 334.3,305.3 332.7,304.7 331.6,304.7 329.4,304.6 327.3,304.6 326.7,304.8 325.9,304.8 324.7,305.2 324.4,303.2 326.5,303.3 327,302.9 327.4,302.9 328.3,302.3 329.3,302.8 330.3,302.9 331.3,302.3 330.8,301.5 330,301.9 329.3,301.9 328.5,301.3 327.7,301.3 327.2,302 326,302 324.7,302ZM333.7,313.2 334,312.4 334.4,311.8 335,311.8 335.6,311.3 337.4,311.3 338.1,312.3 338.6,313.3 338.5,314.1 338.8,314.8 338.8,315.8 339.4,315.6 338.4,316.8 337.3,318.2 337.2,319 336.6,319.8 336,319.7 334.4,318.6 333.2,317.2 332.8,316.3 332.5,314.3ZM364.9,321.2 364.3,319.5 364.1,318.2 364.6,315.9 364.1,314.9 363.9,312.8 363.9,310.9 362.9,309.6 363,308.8 365.1,308.8 364.8,310.2 365.5,311 366.3,311.9 366.4,313.2 366.8,313.7 366.8,315.7 366.8,317.7 366.7,319.7 367.3,321.5 365.4,322.1ZM441.7,369.7 441.9,371.4 442.2,373.1 443,373.1 443.8,373.9 444.7,375.8 444.7,377.5 444.7,379.2 443.7,379.7 442.9,381.5 441.5,379.9 441.4,378.1 442,376.9 441.9,375.8 441,375.2 440.4,375.4 439.1,374.1 437.9,373.5 438.7,371 439.4,370.1 439,368 439.6,365.9 440,365.1 439.5,362.9 438.4,361.7 440.6,362.2 441.1,362.9 441.8,364.2 442.1,366 442.4,367.7ZM388.2,252.9 387.1,253.7 386.5,254.5 385.2,256.6 385.1,257.7 384,258.3 383.5,256 383,253.6 381.6,252.6 381.5,251.9 379.7,250.4 379.4,248.4 380.8,246.9 381.2,244.8 380.8,242.3 381.2,241 382.4,240.4 383.5,239.9 385,240.2 385,241.6 386.8,240.6 387,241.1 386,242.4 386,243.6 386.8,244.2 386.6,246.5 385.2,247.8 385.6,249.2 386.8,249.3 387.4,250.5 388.2,250.9ZM359.1,247.3 359.2,248.9 359.6,250.3 359.9,251.6 360.5,252.2 360.1,253.2 358.7,253.4 357.2,253.7 356.2,254.6 354.9,254.8 354.8,256.8 353.5,257.3 352.2,257.8 351.4,259.1 349.5,259.8 347.3,260.2 345.5,261.2 343.7,262.2 343.7,263.7 343.6,265.2 341.6,265.3 339.6,265.3 337.6,265.3 335.6,265.3 333.6,265.3 334.8,264.2 336.9,264 338.7,262.2 339.9,261.5 341.8,259.3 341.6,257.7 341.3,256 342.2,253.8 342.5,252.4 344,250.6 345.1,250 346.2,249.4 347.9,248.4 348.7,247 349.4,245.6 350.1,244.1 351.7,244.1 353,245.2 355.1,245 356.2,245.3 357.3,245.6 358.3,245.6ZM356.5,323.5 355.5,321.2 355.8,319.8 356.1,318.3 357.1,316.1 356.8,314.2 356.5,312.4 356.2,310.4 356.2,308.9 358.2,308.9 360.2,308.8 361.3,309 362,308.6 363,308.8 362.9,309.6 363.9,310.9 363.9,312.8 364.1,314.9 364.6,315.9 364.1,318.2 364.3,319.5 364.9,321.2 365.4,322.1 363.6,322.9 361.8,323.6 360.6,324.5 358.5,325.3 356.4,324.5ZM459.1,342 457.4,343 456.9,344.1 456,344.3 455.7,346.2 454.9,347.2 454.4,349 453.5,349.8 451.8,348.5 450.2,347.2 450.1,345.7 448,344.4 445.9,343 443.8,341.7 441.7,340.4 441.3,340.1 441.3,338.7 441.3,337.3 442,336.2 443.1,334.5 444,332.6 443.4,331.1 442.9,329.6 442.6,328.3 441.5,326.5 442.9,324.9 444.4,323.2 445.6,323.6 445.7,325.1 446.5,326 448.1,326 449.6,327.1 451,328.2 451.8,328.2 452.3,328.1 452.8,328.4 454.4,328.7 455,327.6 457.1,326.5 458.1,327.3 459.6,327.3 458.7,328.8 457.7,330.3 457.7,332.7 457.7,335.1 457.7,337.5 457.7,339.8ZM462.1,307.6 462.9,308.1 463.4,309.2 464.4,310.3 465.6,310.3 467.7,309.6 469,309.5 470.2,309.3 472.2,308.5 473.3,308.3 474.1,307.8 475.4,307.8 476.2,307.7 477.2,307.3 478.4,307 479.5,306.2 480.3,306.2 480.4,306.9 480.3,308.4 480.4,309.8 479.9,310.7 479.6,312.1 479.3,313.5 478.8,315 478.3,316.5 477.7,318.1 477,319.8 476.1,321.7 475.1,323.6 474.2,325.1 473.2,326.6 471.9,328.3 470.5,330.1 468.3,332.2 466.5,333.5 464.8,334.9 462.7,336.8 461.4,338.4 460.1,340 459.6,341.4 459.1,342 457.7,339.8 457.7,337.5 457.7,335.1 457.7,332.7 457.7,330.3 458.7,328.8 459.6,327.3 460.3,326.5 461.7,326.5 463.8,324.6 465.3,324.6 466.7,324.5 468.9,321.9 471,319.3 473.1,316.7 471.2,316.7 469.3,315.9 467.3,315.1 465.4,314.4 463.5,313.6 462.6,312.6 461.7,311.4 460.8,309.9 461.3,309ZM368,304.6 366.7,304.3 365.3,304 365.3,302.7 364,301 363.7,299.8 363.8,298.5 365.3,298.4 366.2,297.5 367.7,297.4 369.3,297.3 371.3,296.9 371.5,295.3 372.7,293.5 372.7,291.5 372.7,289.5 372.7,287.5 374.3,286.9 375.9,286.3 378.1,284.6 380.2,282.9 382.4,281.2 384.3,279.9 386.2,278.7 388.2,277.4 390.1,276.2 391.9,276.8 393.7,277.3 394.9,278.8 396.5,277.8 396.9,279.8 397.2,281.9 398,282.5 398.1,283.4 399.1,284.3 398.6,285.4 398.4,287.2 398.1,288.9 397.9,290.7 397.8,292.4 397.8,294.1 396.4,295.3 394.9,296.6 394.5,298.3 394,300 395,301 395,302.7 396.5,302.7 396.3,304 395.6,304.1 395.5,305 395.1,305 394.3,303.6 393.5,302.1 393,302 391.2,303.5 389.4,302.7 388.2,302.6 387.5,302.9 386.2,302.9 384.8,304 383.7,304 382.3,303.4 380.9,302.7 379.8,303.3 378.6,303.3 377.8,302.3 376.6,301.8 375.5,301.3 374.2,301.5 373,301.6 372.4,302.2 372.1,303.7 371.4,304.8 371.3,307.1 369.5,305.6 368.7,305.6 367.9,306.4ZM390.8,251.8 391.7,251.6 393.6,252 395.1,252.6 396.6,253.2 397.7,255.5 399.7,256 401.3,256.6 402.9,257.1 404.1,257.8 405.3,258.4 406.3,257.7 407.3,256.5 406.7,254.5 407.3,253.3 408.8,252 410.3,251.7 411.8,252 413.3,252.2 414.2,253.4 415,253.4 415.7,253.8 417.9,254.1 418.5,255 417.8,256.3 418.2,258.7 418.6,261.1 418.7,263.5 418.9,265.8 419,268.2 419.1,270.6 419.2,272.9 419.3,275.3 419.4,277.7 419.5,280 419.6,282.7 419.7,285.3 418.4,285.3 417.1,285.3 417.2,286.4 414.8,285.1 412.5,283.9 410.2,282.6 407.9,281.4 405.6,280.1 403.3,278.9 401.1,277.6 398.8,276.4 397.7,277.1 396.5,277.8 394.9,278.8 393.7,277.3 391.9,276.8 390.1,276.2 389,274.6 387.2,273.4 386.2,273.8 385.4,272.4 385.3,271.2 383.9,269.3 384.8,268.2 384.5,266.6 384.8,265.2 384.6,264 384.9,261.8 384.8,260.6 384,258.3 385.1,257.7 385.2,256.6 386.5,254.5 387.1,253.7 388.2,252.9 388.2,250.9 389.5,251.4ZM441.7,340.4 443.8,341.7 445.9,343 448,344.4 450.1,345.7 450.2,347.2 451.8,348.5 453.5,349.8 452.9,351.5 452.4,353.1 452.5,354.6 453.9,355.5 454,356.2 453.3,357.7 453.4,358.6 453.2,359.8 454,361.4 454.9,364 455.7,364.6 453.8,366.1 452.6,366.6 451.3,367.1 449.9,367.1 449.1,367.9 447.5,367.9 446.8,368.3 445.5,367.9 444.1,367.5 442.4,367.7 442.1,366 441.8,364.2 441.1,362.9 440.6,362.2 438.4,361.7 437.1,361 435.7,360.5 434.8,360.1 433.8,359.4 433.2,357.8 432.6,356.1 431.3,354.7 430.9,353.1 431.1,351.8 430.7,349.4 431.7,349.2 432.5,348.3 433.5,346.9 434,346.4 434,345.5 433.5,345 433.4,343.9 434.1,343.6 434.2,342 433.3,340.6 434.1,340.2 435.4,340.3 436.6,340.3 438.2,340.2 439.8,340.2 441.3,340.1ZM421.8,386.5 422.5,388.1 423.7,389.5 424.9,390.9 425.9,391.2 425.8,392.1 426.4,393.8 428.2,394.2 429.5,395.4 427.9,396.4 426.3,397.3 424.2,399.3 423.3,401 422.6,402 421.4,402.2 420.9,403.4 420.6,404.3 419.2,404.9 417.3,404.8 416.3,404 415.4,403.7 414.2,404.3 413.7,405.6 412.6,406.3 411.4,407.5 409.8,407.8 409.3,406.9 409.6,405.3 408.4,402.8 407.8,402.4 407.9,399.9 407.9,397.3 408,394.8 410.2,394.7 410.3,392.3 410.4,390 410.5,387.7 410.6,385.3 412.3,385.3 414.1,384.8 415.9,384.3 416.7,385.4 418.2,384.4 418.9,384.4 420.2,383.8 420.6,384 421.4,386.1ZM400.5,411.1 401.4,411.8 401.7,412.9 402.7,413.1 404.1,413.6 405.3,413.4 407.3,412.1 407.4,409.6 407.6,407.2 407.7,404.8 407.8,402.4 408.4,402.8 409.6,405.3 409.3,406.9 409.8,407.8 411.4,407.5 412.6,406.3 413.7,405.6 414.2,404.3 415.4,403.7 416.3,404 417.3,404.8 419.2,404.9 420.6,404.3 420.9,403.4 421.4,402.2 422.6,402 423.3,401 424.2,399.3 426.3,397.3 427.9,396.4 429.5,395.4 430.5,395.4 431.5,395.9 432.3,395.5 433.5,395.8 434,397.7 434.4,399.5 434.9,401.4 434.6,402.8 434.3,404.3 434.4,405.2 433.3,404.7 432.7,404.9 432.4,405.7 431.8,406.7 431.7,407.6 432.9,409 434.3,408.7 434.8,407.5 436.5,407.6 435.8,409.5 435.4,411.6 434.7,412.8 433.1,414.1 432.6,414.5 431.6,415.8 430.8,417.2 429.4,419.1 428.1,420.4 426.7,421.8 425,423.3 423.2,424.5 422.1,425 420.9,425.5 419.7,425.7 419.4,426.4 418.1,426 417,426.5 415.8,426.3 414.6,426 413.3,426.3 412.4,426.2 411.2,426.7 410.1,427.2 408.2,427.6 406.8,428.6 405.8,428.7 404.9,427.7 404.2,427.7 403.3,426.5 403.2,426.9 402.9,426.2 403,424.7 402.4,422.9 403.2,422.4 403.2,420.4 401.9,418 400.9,415.8 400.1,414.1 399.4,412.4ZM427.5,413.4 426.6,412.5 425.5,413.1 424.2,414.1 422.9,415.8 424.4,417.8 425.2,417.5 425.7,416.7 427,416.3 427.4,415.4 428.2,414.1ZM491.3,349.6 491.2,350.3 490.7,350 490.8,349.5ZM494.2,390.1 494,391.2 493.1,391.1 493.2,389.9ZM551.2,320.6 550.3,321.4 548.3,322 547.1,319.9 546.9,318 546.6,316.1 547,314 547.4,311.9 549.1,313.3 550.2,315.2 550.8,316.6 551.5,317.9 551.4,319.3ZM636.7,278 636.1,280.1 634.5,277.9 633.8,276 634.6,273.4 636,271.4 637.2,272.2 637.2,273.8 636.9,275.9ZM641.6,239.7 642.9,241.4 643.6,242.9 644.3,244.4 644.1,245.8 642.4,246.3 641.1,247.4 639.2,247.6 638.4,246.2 637.9,244.3 636.8,242.9 635.7,241.5 637.1,241.1 634.6,238.9 634.6,238.6 635.6,238.7 635.9,237.5 637.4,237.4 638.2,236.6 639.9,238.2ZM541.8,208.7 543.1,207.6 544.5,206.5 545.7,205.9 546.9,205.3 549.1,206 550.1,206.1 551.2,206.1 553.2,207.3 555.2,207.4 556.8,207.7 558.4,208 559.4,206.2 557.8,204.8 558.1,203.5 558.3,202.1 559.7,202.7 561.2,203.2 563.1,203.5 564.5,203.8 565.9,204.1 567.3,206 569.1,206.5 570.8,207.1 572.4,206.6 573.6,206.4 574.8,206.3 577,206.6 579.7,207.8 581.6,209.1 583.5,209.1 584.9,209.3 586.2,209.5 587.7,208.9 588.9,208.7 590.1,208.5 591.1,207.6 591.9,206.7 593.3,207 594.9,207.8 596.1,207.7 597.2,207.6 597.4,209.5 597.5,212 598.7,213.1 599.6,212.8 601.9,213.2 602.9,212.2 605,213 607.9,214.8 608.3,215.7 606.5,215.4 605.1,215.6 603.7,215.8 602.7,216.5 602.2,218.2 600.9,218.7 599.6,219.2 598.2,220.6 597,220.3 595.8,220 594.5,219.8 594.4,221.5 595.6,222.5 596.4,223.3 595.3,224.2 594.5,225.6 593.5,226 592.5,226.5 591,226.5 589.4,226.6 588,227 586.5,227.5 585.6,228.2 584.7,228.9 583.4,228 582.1,228 580.8,228 578.9,227.3 577,226.5 574.8,226.1 573.4,226.3 572.1,226.5 570.6,226.3 569,226.1 567.5,225.9 566.4,225.9 565.2,225.9 563.3,224.4 561.3,222 559.9,221.7 558.2,220.9 556.6,220.1 555.1,219.9 553.7,219.8 552.3,219.5 551,219.3 549.8,218.2 549.5,216.7 549.2,215.2 546.9,213.2 545.2,212.7 543.5,212.2 541.2,210.9 539.8,209.1 540.8,208.9ZM769.6,385.1 768.1,385.4 766.9,385.1 767,384 768.1,383.1 769,383.4 769.7,383 770.3,383.7ZM770.6,381.1 771.9,380.6 772.6,380.5 774.1,379.6 773.8,380.9 772.3,381.5 770.7,382.1ZM674.3,444.8 676.2,444.3 677.4,444.5 676.5,446 675.5,447.5 674.2,448.4 672.6,450.5 672.3,449.8 669.7,451.6 669.3,451.5 668.1,451.4 668.3,449.2 669.1,447.5 669.4,445.2 670.1,444 671.4,444.2 672.9,445.2ZM661.2,431.9 659.5,431.5 659.8,430.7 662,430.7 662.8,431.4ZM691.6,369.9 692.2,371.2 692.2,372.7 691.9,373.6 692.4,375.7 694.1,374.7 694.6,375.8 695.6,376.8 695.1,378 695.2,380.2 695.3,381.5 695.8,381.8 696,384.1 695.5,385.4 695.9,387.2 697,387.9 698,388.6 699.3,389.8 700.6,390.9 700.2,391.6 701.1,393.2 701.2,394.6 701.3,396 702.3,395.5 703,396.6 703.6,396.2 703.5,397.6 703.3,399 704.5,400.6 705.3,401.6 706.5,403.7 706.5,405.8 706,407.3 705.3,408.9 705.6,411.1 704.6,413.4 703.7,414.7 702.2,417 701.6,418.5 700.3,420.4 698.3,422.8 696,424 694.2,426.1 692.9,427.4 691.1,429.6 689.6,430.9 688,432.9 686.7,434.7 686.4,435.5 684.6,436.4 683.4,436.4 682.2,436.5 679.6,437.6 678,438.6 676.1,439.7 675,438.5 673.9,438.1 675,436.7 673.6,437.2 670.6,439.1 669.2,438.4 668.2,438 667.1,437.8 665.4,437 664.8,435.4 665.5,433.4 666.1,431.1 665.1,431.1 663.1,430.8 664.4,429.5 664.8,427.5 662.9,429.4 660.8,429.8 662.6,428.4 663.6,426.9 665,425.6 665.7,423.7 662.9,425.9 661.2,426.8 659.4,428.9 658.2,427.8 658.9,426.4 658.3,424.5 657.6,423.5 658.2,422.9 657.1,422.1 656,421.3 654.5,421.3 652.9,420 650.9,420.1 648.9,420.2 647.1,421.1 645.4,421.9 644.1,422 642.8,422 640.8,421.9 639.3,422.6 637.9,423.2 635.8,423.8 634.8,425.2 633.6,426.3 631.7,426.3 630.2,426.5 628.5,426.1 626.8,426.4 625.2,426.5 623.4,427.9 622.8,427.7 621.4,428.5 620,429.3 618.5,429.2 617,429.2 616.2,428.4 615.4,427.6 614.4,427.1 615,425.6 616.2,425.2 616.8,424.6 617.1,423.7 618,421.9 618.3,420.3 618.1,419 618,417.6 618.1,416.2 618.6,414.7 618.2,413 618.4,412.2 617.7,411.2 618,409.1 617.2,407 617.2,405.9 617.9,407.1 617.7,404.6 618.6,405.4 619,406.4 619.3,405.1 618.7,403 618.7,402.2 618.3,401.4 618.8,399.9 619.4,399.2 619.9,397.9 620,396.4 621.3,394.5 621.1,396.5 622.4,394.7 624.4,393.8 625.7,392.7 627.6,391.8 628.7,391.5 629.2,391.9 631.2,390.9 632.6,390.6 633.1,390 633.7,389.8 634.9,389.9 636.2,389.5 637.5,389.1 638.9,387.9 639.8,386.5 641.3,385.2 641.6,384.2 641.9,382.7 643.9,380.5 644.4,382.8 645.5,382.3 644.9,381 645.8,379.7 646.7,380.3 647.3,378.3 648.8,377 649.5,376 650.7,375.6 650.8,374.8 651.8,375.1 651.9,374.5 653,374.1 654.1,373.8 655.6,375 656.7,376.5 658.1,376.5 659.5,376.8 659.3,375.3 660.7,373.2 661.8,372.5 661.5,371.9 662.7,370.4 664.2,369.5 665.4,369.8 667.3,369.3 667.5,367.9 665.9,367.1 667.1,366.7 668.6,367.4 669.7,368.4 671.5,369.1 672.2,368.8 673.5,369.6 675,368.9 675.8,369.1 676.4,368.6 677.3,369.9 676.5,371.3 675.5,372.4 674.7,372.4 674.8,373.5 673.9,374.8 672.9,376.1 673,376.8 674.6,378.3 676.2,379.1 677.2,380 678.6,381.6 679.2,381.6 680.3,382.2 680.5,383 682.5,383.9 684.2,383 684.9,381.6 685.6,380.5 686.1,379 687.2,376.9 687,375.7 687.3,374.9 687.3,373.4 687.9,371.5 688.4,370.9 688.2,370.1 688.9,368.7 689.5,367.2 689.6,366.5 690.6,365.5 690.8,367 691.1,368.4 691.6,368.8ZM662.5,368.2 662.6,367.2 664.7,367.2 663.8,368.5Z"/>
<path fill="#f4a582" d="M172.1,279.5 174.5,277.7 175.9,277.3 177.3,276.9 179.3,277.2 181.1,277.2 183,278 183.8,279 186,278.7 186.7,279.3 188.4,280.9 189.7,282.1 190.4,282.1 191.7,282.6 191.5,283.3 193.1,283.5 194.7,284.5 194.4,285.1 192.8,285.5 191.3,285.6 189.8,285.4 188.1,285.5 186.5,285.6 188.2,284.2 187.3,283.5 185.9,283.3 185.2,282.6 184.8,281.1 183.6,281.2 181.5,280.5 180.9,279.9 179.5,279.7 178,279.6 177.3,279 178.2,278.4 176,278.2 174.2,279.6 173.3,279.7 172.9,280.3 171.7,280.6 170.8,280.3ZM199.1,307.4 197.7,307.7 198.4,308.9 198.3,310.3 197.2,311.8 198,313.9 199,313.7 199.6,311.8 198.9,310.9 198.9,308.9 200.4,308.4 201.8,307.8 201.6,306.6 202.5,305.8 203.2,307.6 204.8,307.7 206.2,309.1 206.2,310 208.3,310 209.5,309.9 210.7,309.7 212,310.9 213.8,311.2 215.1,310.4 215.1,309.8 216.6,309.7 218,309.6 219.4,309.6 220.8,309.6 218.8,310.3 219.5,311.6 221.3,311.8 223,313.1 223.3,315.2 224.5,315.1 225.4,315.7 223.5,317.2 223.3,318.2 224,319.2 223.4,319.7 222,320.1 222,321.3 221.4,322 222.9,324 223.2,324.7 222.3,325.7 221,326.2 219.7,326.7 218,327.1 217.3,327.7 215.5,327.1 213.8,326.7 213.4,327 214.4,327.7 214.2,329.4 214.5,331.1 216.5,331.3 216.6,331.8 215,332.6 214.7,333.7 213.7,334.1 212,334.7 211.5,335.5 209.7,335.7 208.5,334.3 207.8,331.7 207.2,330.8 206.4,330.2 207.6,328.9 207.5,328.3 206.9,327.6 206.5,325.8 206.7,323.9 207.2,323.1 207.7,321.6 206.9,321.2 205.6,321.5 203.9,321.4 203,321.6 201.4,319.4 200.1,319.1 198.6,319.2 197.1,319.3 196.6,318.4 196.1,318.2 196,317.6 196.3,316.7 196.2,315.6 195.7,315 195.4,313.8 194.3,313.7 195,312.1 195.4,310.3 196.1,309.3 197,308.5 197.7,307.2 199.2,306.8ZM410.6,197.5 411.6,197 412.6,196.6 412.8,195.2 414.2,194.4 413.8,193.3 414.9,192.9 415.9,192.4 416.8,191.9 417.9,192.2 419,192.5 419.4,193.1 420.3,192.8 422.3,193.4 422.7,194.6 422.4,195.3 424,196.9 424.9,197.4 424.8,197.8 426.3,198.2 426.9,198.9 426.3,199.4 424.7,199.3 424.4,199.6 425,200.4 425.8,202 424.1,202.2 423.6,202.7 423.7,204 422.9,203.7 421.1,203.9 420.5,203.3 419.8,203.7 419,203.4 417.4,203.3 416.3,203 415.1,202.7 414.1,202.6 413.1,202.5 411.6,202.5 410.6,203.2 409.7,203.3 409.5,202.2 408.7,201 409.8,200.5 409.6,199.5 409,198.6 408.7,197.5ZM459.7,234.4 460.7,234.4 460.7,234.8 461.9,236.3 460.3,235.9 459,234.7 458.5,233.8 459,233.7ZM463.2,229.8 464.2,230 464.5,229.3 465.5,228.3 466.9,229.7 468.4,231.5 469.4,231.6 470.2,232.3 468.5,232.5 468.5,234.6 468.3,235.5 467.7,236.1 467.9,237.4 467.4,237.5 465.8,236.2 466.4,234.9 465.6,234.1 464.8,234.3 463.7,235.2 462.6,236.2 462.3,234.4 461.2,234 460.2,233.3 460.6,232.4 459.3,231.5 459.6,230.9 458.7,230.4 458.2,229.8 458.6,229.3 460.3,230.1 461.5,230.3 461.7,229.9 460.4,228.5 460.9,228.2 461.5,228.3ZM479.5,274.1 479.7,274.8 481.4,274.3 483.3,274.4 484.7,274.5 486,272.7 487.5,271 488.8,269.4 489.3,270.3 489.8,272.4 488.7,272.4 488.6,274.1 489.1,274.5 488.1,275 488.2,276.1 487.6,277.1 487.7,278.2 487.3,278.7 485.6,278.4 483.8,278.1 482.1,277.8 480.4,277.4 479.8,276.1 479.3,274.8 479.1,274.2ZM488.2,276.1 488.1,275 489.1,274.5 488.6,274.1 488.7,272.4 489.8,272.4 491,274.2 492.3,275.1 494.1,275.5 495.4,275.9 496.6,277.5 497.3,278.3 498.1,278.7 498.2,279.2 497.5,280.8 497.2,281.5 496.3,282.4 495.7,284.2 494.6,284 494.2,284.7 494,286 494.4,287.7 494.2,288.1 493.1,288 491.8,289 491.7,290.3 491.2,290.8 489.8,290.8 489,291.5 489,292.5 488,293.3 486.7,293 485.3,293.9 484.2,294 483.3,292.2 482.3,290.1 481.2,287.9 483.4,287 485.6,286.2 487.8,285.3 488.4,282.7 488.9,280 487.7,278.2 487.6,277.1ZM489.3,268.5 489.6,268.8 489.5,269.8 489.3,270.3 488.8,269.4ZM482.6,294.7 482.2,295.9 482.3,296.8 480,297.9 478.2,298.5 476.4,299.1 474.5,301 473.5,301.1 472.8,300.9 471.5,302 470.1,302.5 468.2,302.7 467.6,302.8 467.1,303.5 466.5,303.7 466.2,304.4 465.1,304.3 464.4,304.7 462.8,304.5 462.1,303 462.1,301.6 461.7,300.8 461.1,298.9 460.4,297.8 460.9,297.7 460.6,296.5 460.8,296 460.7,294.8 461.6,294 461.4,292.9 461.9,291.6 462.8,292.3 463.4,292.1 464.8,292 466.1,292 466.5,292.3 468.7,292.5 469.6,292.4 470.2,293.3 471.3,292.8 472,291.4 472.7,290.1 474.8,288.9 476.9,288.6 479.1,288.2 481.2,287.9 482.3,290.1 483.3,292.2 484.2,294ZM443.2,261.2 444.1,260.4 444.5,259.5 446.2,259.1 446.5,258.2 447.2,257.8 444.7,255.2 446.8,254.5 448.9,253.9 449.3,253.5 450.7,253.8 452.1,254.2 453.8,255.1 455.6,256 457.9,257.8 460.1,259.5 462.4,261.3 464.5,261.4 466.6,261.5 468.6,261.7 469.3,263 470.9,262.9 472,265.2 473.2,265.8 473.7,266.7 475.3,267.8 475.5,268.9 475.4,269.7 475.8,270.6 476.5,271.3 476.9,272.2 477.3,272.9 478,273.4 478.6,273.2 479.1,274.2 479.3,274.8 479.8,276.1 480.4,277.4 482.1,277.8 483.8,278.1 485.6,278.4 487.3,278.7 487.7,278.2 488.9,280 488.4,282.7 487.8,285.3 485.6,286.2 483.4,287 481.2,287.9 479.1,288.2 476.9,288.6 474.8,288.9 472.7,290.1 472,291.4 471.3,292.8 470.2,293.3 469.6,292.4 468.7,292.5 466.5,292.3 466.1,292 464.8,292 463.4,292.1 462.8,292.3 461.9,291.6 461.4,292.9 461.6,294 460.7,294.8 460.3,293.7 459.6,292.9 459.4,291.9 458.1,291 456.8,288.8 456,286.6 454.3,284.8 453.3,284.4 451.6,281.9 451.2,280.1 451.3,278.5 450.5,277.1 449.8,275.6 448.6,274.6 447.4,274.1 446.6,272.6 446.6,272 445.9,270.6 445.2,270 444.2,268.1 442.7,266 441.4,264.2 440.3,264.2 440.5,262.8 440.5,261.8 440.7,260.8 442,261ZM389.1,331.7 389.1,333.3 389.1,334.8 387.4,334.8 385.7,334.8 384.9,335 384.5,334.6 384.9,333.1 385.3,331.6 387.2,331.7ZM446.1,298.8 446.5,296.9 446.9,295 447.1,293.2 447.8,292.4 449.4,292 450.5,290.5 451.2,292 452,293.5 452.7,296 454,297.2 455.6,298.5 457.3,299.7 458.6,301.2 459.9,302.7 460.7,303.6 461.8,304.4 461.2,305 460.2,304.8 459.4,303.9 458.4,302.4 457.3,301.6 456.7,300.7 454.6,299.6 453.1,299.6 452.5,299 451.2,299.6 449.7,298.5 449.1,300.4 447.7,300.2 446.4,299.9ZM441.2,314.9 440.9,315.7 439.7,315.8 438.9,317.2 440.3,317.4 441.5,318.7 442,319.7 443,320.4 443.7,321.8 444.4,323.2 442.9,324.9 441.5,326.5 440.1,327.7 438.5,327.7 436.6,328.3 435.2,327.7 434.2,328.4 432.1,326.7 431.6,325.6 430.3,326.1 429.2,325.9 428.6,326.4 427.6,326.1 426.2,323.9 425.8,323.1 424.1,322 423.4,320.5 422.5,319.3 420.9,318 420.9,317.1 419.6,316.1 418,315 418.7,314.8 419.5,314.3 420,311.9 420.7,310.7 422.3,310.4 422.7,311.1 423.9,312.6 424.6,312.8 425.4,312.4 427,312.5 427.4,313 429.7,313 429.7,312.5 430.9,312 431.1,311.2 432,310.7 434,312.2 435.1,311.9 436.2,310.1 437.5,308.6 437.2,307 436.6,306.3 438,306.2 438.1,305.6 439.2,305.7 439,307.7 439.3,309.6 440.5,310.6 440.8,311.5 440.8,312.8 441.1,312.9ZM597.6,302.6 598.8,300.4 600.3,300.1 601.7,299.9 603.9,300.3 605.9,301.3 606.8,299.5 608.9,300.5 609.6,302.2 609.7,303.7 609.7,305.3 607.9,306.3 606,307.3 607.2,308.9 606,309 604.8,309.1 602.9,310.2 600.9,309.8 599.9,308.4 599.2,307.1 598.5,305.7 598,304.1ZM592.4,282.1 593.6,282.2 593.2,280.7 592.8,279.2 593.9,278.8 595.5,280.9 596.9,283.3 598.3,283.3 599.7,283.3 601,285.6 599.6,286.3 599.1,287.2 600.6,288 602.1,288.8 603.3,290.3 604.5,291.8 606.2,294.2 608.2,296 609,297.8 608.9,300.5 606.8,299.5 605.9,301.3 603.9,300.3 604.5,299.1 604.4,296.9 602.2,294.6 601.7,292 599.7,289.9 597.9,289.7 597.6,290.6 596.3,290.7 595.5,290.2 594.4,291 593.4,291.8 593,289.4 593,288.1 593.1,286.7 591.6,286.6 591.2,285 590.1,284.2 590.4,283.2 592.1,281.5ZM581.3,263.5 582.4,265 583.5,265.6 584,267.6 584.4,269.8 582.7,272 582.8,273.5 582.9,275.1 584.1,274.9 585.2,274.7 586.2,277.1 587.7,277.6 587.4,279.7 589.2,280.7 590.3,281.2 591.8,280.4 592.1,281.5 590.4,283.2 590.1,284.2 588.8,284.8 587.7,285.9 586.1,286 585.8,287.5 585.5,288.9 584.6,289.3 586,291.6 587.7,293.5 588.9,295.3 588.3,297.5 587.6,298 588.3,299.4 590,301.4 590.4,302.9 590.5,304.1 591.7,306.5 590.6,308.9 590.2,310.3 589.7,311.6 589.3,309.7 589.9,307.7 589,306.1 588.9,304.7 588.9,303.3 587.8,301.9 587.3,300.3 586.7,298.8 586.3,297.1 585.9,295.5 584.7,293.3 583.3,294.6 582.2,295.6 581,296.5 579.7,296.3 578.2,295.6 578.4,294 578.5,292.4 577.7,290 576.6,288.4 575.5,286.9 575.7,286 574.3,285.6 572.4,283.5 571.9,281.4 572.8,281.8 572.6,279.9 573.6,279.3 573.2,278.2 573.6,277.3 573.4,276 573.2,274.6 575.1,275.2 575.7,273 575.6,271.8 576.5,269.6 576.1,268.1 577.3,267.2 578.6,266.3 580.3,266.8 579.7,265.1 580.4,264.7 580,263.7ZM407,195.1 406.9,195.8 407.1,196.5 405.3,196.5 403.5,196.5 402.3,196.4 401.1,196.2 401.4,195.1 402.7,194.7 404,194.3 405,194.5 406.1,194.7ZM63.3,166.2 64.6,166.3 66,166.4 67.4,166.5 67.6,167.6 67.8,168.6 64.7,169.6 63.1,169.7 61.5,169.9 58.3,172.1 57,172.6 55.4,172.5 55.2,171.7 54.5,171.4 53.8,171.1 54.8,170 54.2,169.9 53.6,169.7 52.4,169.8 51.2,170 51.4,169.2 53,168.3 51.6,168.6 50.1,168.9 49.3,170 46.9,170.9 50.3,168.6 53.6,166.4 57,164.2 60.5,161.9 61,162.5 61.5,163.1 62,163.6 62.4,164.4 62.7,165.1 63.1,165.8 60.9,167.3 61.3,167.8ZM443.8,160.7 444.9,160.9 445.9,161 447.3,161.9 446.6,162.2 445.8,162.5 444.1,161.9ZM69.7,156.4 70.7,156.5 71.7,156.7 72.7,156.9 72,157.2 70.8,157.5 69.5,157.7 68.3,157.8 67.1,157.8ZM450.4,149.8 449.4,148.9 450.4,148.6 451.3,148.2 452.2,147.9 453.3,147.5 454.3,147.2 455.4,146.9 456.4,146.6 457.6,146.5 458.8,146.4 460,146.3 461.2,146.2 462.2,145.8 463.2,145.5 464.6,145.3 466,145.2 467.7,146 467.1,146.6 466,146.9 464.8,147.1 463.6,147.3 462.5,147.6 461.5,147.8 460.5,148.1 459.5,148.3 458.4,148.6 457.6,149 456.7,149.5 455.8,150 454.9,150.5 454.3,151.5 453.7,152.5 453,153.5 452.3,154.6 453.6,156.3 455.7,157.2 457.7,158.1 456.8,158.3 455.5,158.2 454.1,158.1 452.7,158.1 451.3,158 450.4,157 448.8,156.8 447.1,156.5 446.3,155.3 447.1,155.1 447.8,154.9 447.1,153.7 448.2,152.8 449.3,151.9 447.7,151.7 448.6,151.1 449.5,150.4ZM493.2,138.8 493.9,138.4 494.7,138.1 495.4,137.7 496.3,137.6 497.1,137.4 498,137.3 499.9,137.7 501.8,138.1 503.7,138.7 505.5,139.2 507.4,139.8 509.3,141.5 508.3,141.6 507.4,141.7 506.4,141.7 504.8,141.6 503.2,141.4 501.6,141.2 500,140.8 498.3,140.5 495.6,139.2 494.4,139ZM427.3,138.5 428.4,138.2 429.5,137.9 430.9,137.9 432.3,137.9 433.7,137.9 435.2,137.9 436,138.5 435,138.6 433.9,138.6 432.9,138.7 431.5,138.7 430.1,138.6 428.7,138.5ZM656.9,215.4 658.1,217.1 655.5,215.6 655.5,217.6 653.6,215.4 652.1,213 650.9,211.6 649.8,210.2 648.8,208.3 647.5,206.6 646.2,204.9 643,202.4 641.6,200.7 640.2,199 641,197.9 639.2,196.7 639.7,196.4 641.7,198 644.5,200.4 646.6,202.9 648.1,204.1 649.6,205.4 652.4,207.6 655.1,209.9 653.3,209.5 651.5,209.1 652.3,210.9 653,212.7 655,214ZM433.2,165.3 433.8,166.8 433.1,167.4 432.3,168 431,168.3 429.7,168.6 428,168.2 426.4,167.9 424.7,167.5 423.1,167.2 421.4,166.9 420.2,167.2 421.9,168 423.5,168.8 423.9,169.9 424.3,171 424.7,172.2 426,172.6 427.2,172.9 428.8,173.5 428.7,172.4 427.3,171.4 428.2,170.6 429.7,171 431.3,171.5 432.9,172 434.2,171.4 432.4,169.7 433.5,169 434.6,168.2 435.7,167.5 437.4,167.6 439.3,168.4 439.7,166.9 437.8,165.5 438.1,164.2 436.4,162.8 438,163 439.7,163.3 441.4,163.5 442.8,164.8 441.8,164.9 440.8,165 441.3,166.3 442.9,167.1 444.2,166.8 445.4,166.6 445.2,165.1 446.3,164.8 447.3,164.4 448.3,164.1 449.6,163.6 450.9,163.1 452.1,162.6 453.4,162.2 454.7,162.3 453.7,163.6 454.8,163.7 455.9,163.9 456.7,163.1 458.3,163.1 459.9,163 460.9,162.6 461.9,162.1 463.2,162.8 464.5,163.4 465.1,162.7 465.7,162 464.5,161.3 463.2,160.7 463.7,160 465.5,160.2 467.2,160.4 469,160.6 470.4,161 471.7,161.3 473.6,162 475.5,162.6 477.4,163.2 479.3,163.9 479.7,162.7 478.5,162.1 477.3,161.5 477,161.1 475.9,161 474.9,160.9 474.8,159.8 472.8,158.1 472.4,157.4 473.2,156.5 474.1,155.5 473.9,153.6 474.8,153.1 476.3,153.3 477.8,153.5 479.4,153.7 480.6,154.9 480.3,156.6 481.7,157.3 483.3,158.8 484.1,160.3 484.9,161.8 486.2,162.5 487.6,163.2 487.8,164.7 487.1,166.3 486.4,167.9 487.5,168 488.6,168.2 488.8,167.4 489.5,167.1 490.3,166.8 490.1,165.7 490.9,164.6 489.1,163.3 488.9,161.9 487.9,161.8 486.9,161.7 485.7,160.5 485.6,158.3 483.9,157.4 482.2,156.5 483.2,155.8 484.1,155.1 482.6,153.6 483.4,153.5 485.1,154.7 486,156.8 487,157 488,157.2 486.1,155.6 487.2,155.2 488.2,154.8 489.3,154.7 490.4,154.7 491.5,154.7 493.5,155.3 495.4,155.9 492.6,154.1 491.6,153 490.6,151.9 491.8,151.7 493,151.5 494.3,151.5 495.6,151.5 496.9,151.5 497.9,151.4 499,151.4 500.1,151.3 497.8,150.2 498.1,149.5 498.4,148.8 499.2,148.8 500.1,148.8 501.1,148.3 502.1,147.8 503.4,147.7 504.6,147.6 505.9,147.5 505.8,147 507.1,146.9 508.4,146.9 509.6,146.8 511.4,147.2 512.1,146.9 512.9,146.5 513.6,146.2 515,146.2 516.4,146.2 515.9,145.4 516.2,144.5 517.1,144.3 517.9,144 518.8,143.7 520.5,144.1 522.2,144.4 521.5,144.6 520.7,144.9 522,145 523.3,145.1 524.5,145.2 526.2,146.1 527,145.7 528.5,145.7 529.9,145.7 531.4,145.7 533,146 534.6,146.3 536.1,146.6 538.3,147.4 539.3,148.4 538.8,148.7 538.4,149 537.5,149.4 536.5,149.8 535.6,150.1 535.1,150.8 536.3,150.9 537.4,151.1 538.9,151.3 540.4,151.6 541.3,151.2 543.7,152.5 543.8,152 544.9,151.8 545.9,151.7 547.3,151.7 548.7,151.8 550,151.9 551.4,152 553,153 554.4,153 555.8,153.1 557.2,153.2 558.6,153.2 560.1,153.3 558.1,151.7 559.4,151.8 560.7,151.9 562,152.1 563.2,152 564.5,152 566.5,152.6 568.5,153.1 571,154.5 571.1,155.4 573.2,156.2 575.3,157.1 577.1,157.5 578.9,157.9 578.3,156.8 577.7,155.7 579.6,156.2 581.5,156.6 582.5,156.4 583.5,156.1 585.5,156.4 587.6,156.7 588,156.1 589.5,156.3 591,156.4 587.2,154.5 587.6,154 588,153.5 589.7,153.7 591.3,153.8 593,154 594.6,154.1 596.3,154.2 597.9,154.4 599.6,154.5 601.2,154.6 602.9,154.8 604.5,154.9 607.7,156.2 610,156.7 612.2,157.3 614.4,157.8 615.6,157.7 616.8,157.7 618,157.6 619.3,157.5 620.5,157.4 622.3,157.6 624.2,157.8 627,158.7 629.1,160.3 630.5,160.6 632,160.9 632.8,160.7 633.6,160.4 635,160.4 636.5,160.4 638.4,160.6 640.3,160.8 641.7,160.7 643.1,160.6 646,161.6 648.9,162.5 649.4,162.2 649.9,161.8 646.5,160.4 645.7,159.4 647.3,159.6 648.8,159.7 650.4,159.9 651.9,160 653,160 654.1,160 655.2,159.9 657.3,160.3 659.5,160.6 661.7,161 663.6,161.5 665.5,161.9 669,164.2 672.4,166.4 675.7,168.6 679.1,170.9 678.7,171.4 678.3,172 677,171.9 675.7,171.8 679.1,173 682.8,174.9 684.5,175.6 686.1,176.5 686.5,177.2 684.4,176.9 682.4,176.6 681.5,177.2 680.6,177.8 679.7,178.4 678.5,178.7 678.2,179.5 677.8,180.4 677.4,181.1 677,181.8 677.7,182.9 675.3,182.1 673,181.3 672.2,181.9 671.3,182.5 670.5,183.1 668.6,182.2 668.1,183.3 666.6,183.1 665.2,182.9 666.5,184.5 666.7,185.7 666.9,186.9 668.1,187.8 669.5,188.1 670.9,188.4 672.7,190.2 674.6,191.9 672.9,192 674.3,194.1 676.2,195.1 675.2,195.8 674.1,196.4 675.3,197.8 676.3,199.3 675.2,199.6 674,199.9 675,201.1 675.9,202.4 675.5,203.6 675.2,204.8 672.9,203 670.7,201.2 668.5,199.4 666.4,197.5 664.2,195.7 662,193.9 660.7,192.1 659.3,190.4 659.4,189 658.3,187.9 659.4,187.6 660.6,187.3 660.5,185.8 660.5,184.3 660.6,183 660.8,181.8 661.3,180.9 661.8,179.9 660.4,178.2 659.1,176.6 658.1,176.7 657.2,176.8 658.5,178.7 658,179.6 657.5,180.5 657,181.3 654.5,179.9 652,178.4 650.8,178.7 649.5,179 648.3,179.2 648.3,180.5 648.3,181.9 648.3,183.2 651.4,184.7 650.3,184.9 649.1,185.1 648,185.3 646.7,185.4 645.4,185.6 643.6,183.8 642,183.6 640.3,183.4 639.8,184 639.3,184.6 637.8,184.5 636.2,184.4 634.7,184.3 633.2,184.2 631.8,184.4 630.5,184.6 629.1,184.8 627.8,184.9 627.5,186.1 627.1,187.3 626.8,188.5 626.4,189.7 625.9,191.1 625.4,192.6 624.9,194 624.3,195.5 626,195.6 627.7,195.8 630,197.3 632.3,197.9 632.5,196.7 633.6,196.7 634.8,196.8 637.4,198.2 640,199.5 641.9,201.7 642.5,204.2 643.6,205.7 644.7,207.2 645.8,209.2 646.8,211.2 646.6,213.1 646.4,214.9 647,216.7 646.6,218.2 646.2,219.7 645.8,221.2 645.4,222.7 645,224.2 644.1,225 643.2,225.7 641.8,225.7 639.8,224.5 638.9,225.4 638.1,226.4 638.3,227.2 637.7,226.8 636.9,225.5 637.9,225.4 637.2,223.9 636.4,222.4 634.4,220.1 635.6,219.2 637,219.5 638.4,219.7 638.1,217.2 637.6,215.8 637,214.4 637.1,213.5 636.6,211.2 635.2,211.6 633.8,211.9 632.7,212.9 631.1,212.9 629.6,212.9 627.1,210.5 625.3,209.6 623.5,208.7 621.5,208.3 619.4,207.9 616.9,205.4 615.1,203.9 613.6,202.8 612,201.6 610.4,200.3 608,199.4 606.2,199 604.5,198.6 603.2,198.7 601.9,198.7 600.9,198.9 599.8,199.1 599.2,200.4 600.7,201 601.7,202.4 601.2,203.2 601.2,204.5 601.2,205.8 602,207 601.1,207.7 600.2,208.5 598.7,208.1 597.2,207.6 596.1,207.7 594.9,207.8 593.3,207 591.9,206.7 591.1,207.6 590.1,208.5 588.9,208.7 587.7,208.9 586.2,209.5 584.9,209.3 583.5,209.1 581.6,209.1 579.7,207.8 577,206.6 574.8,206.3 573.6,206.4 572.4,206.6 570.8,207.1 569.1,206.5 567.3,206 565.9,204.1 564.5,203.8 563.1,203.5 561.2,203.2 559.7,202.7 558.3,202.1 558.1,203.5 557.8,204.8 559.4,206.2 558.4,208 556.8,207.7 555.2,207.4 553.2,207.3 551.2,206.1 550.1,206.1 549.1,206 546.9,205.3 545.7,205.9 544.5,206.5 543.1,207.6 541.8,208.7 540.8,208.9 539.8,209.1 539.1,209.3 537.3,207.7 536.1,207.9 534.9,208.1 533.6,207 531.9,206.5 530.3,205.1 528.9,204.6 527.7,204.9 526.4,205.3 524.7,204.5 523,203.8 522.5,205.1 520.1,203 517.6,200.9 515.1,198.8 513.4,197.8 511.7,196.8 512,196.1 510.8,196.8 509.5,197.6 508.2,198.4 506.5,198.5 506,197.2 504.5,196.8 503.1,196.3 502.2,196.6 501.3,197 500.4,195.7 499.6,194.4 497.7,194.1 495.8,193.8 494.6,194.9 493.1,195.2 491.6,195.5 490.1,195.8 489.5,196.4 487.7,196.6 486,196.8 484.3,197 482.5,197.3 482,198.1 484,199.8 482.4,200.5 483,201.1 481.6,202.4 483.5,203.2 485.4,204.1 485.3,205.3 483.9,205.2 482.5,205.2 482.1,205.9 480.6,205.3 479.2,204.6 477.6,204.7 476,204.7 475.1,205.2 474.3,205.7 472.9,205.2 471.6,204.7 469.9,204.1 468.3,203.6 466.6,203 465.1,203 463.6,203 462.5,204 461.4,204.9 460.2,205.8 460.5,207.6 459.3,206.9 458.1,206.2 457.6,207.5 457.2,208.9 457.9,209.5 457.2,211.4 459.4,213.1 460.8,213.1 462.5,214.7 462.7,216.1 463.8,216.5 463.3,218 461.4,218.4 460.6,219.7 459.9,221.1 462.4,223.5 462.5,225.3 464,226.8 465.5,228.3 464.5,229.3 464.2,230 463.2,229.8 461.5,228.3 460.9,228.2 459.4,227.6 458.6,226.5 456.5,226 455.3,226.4 454.8,225.9 453.3,225.3 451.7,224.7 450.1,224.5 448.6,224.2 446.7,223.8 446.5,224.1 445,223 443.5,221.9 442.2,221.4 440.9,220.9 438.9,219.5 440.3,219 441.6,216.9 440.2,215.9 441.7,215.4 443.1,214.8 442.9,214.3 441.1,214.7 441,213.5 441.9,212.8 443.8,212.6 444,211.8 443.2,210.4 443.8,209.1 443.6,208.3 442,207.9 440.4,207.5 439.3,207.5 437.8,206.3 436.3,206.7 435,206.3 433.6,205.8 433.6,205.4 432.6,204.3 431,204.1 430.7,203.4 431.1,202.8 429.5,201.4 428.5,201.5 427.6,201.7 426.9,201.5 426.5,202.1 425.8,202 425,200.4 424.4,199.6 424.7,199.3 426.3,199.4 426.9,198.9 426.3,198.2 424.8,197.8 424.9,197.4 424,196.9 422.4,195.3 422.7,194.6 422.3,193.4 420.3,192.8 419.4,193.1 419,192.5 417.9,192.2 416.8,191.9 416,190.5 415.6,189.3 414.6,188.7 415.2,188 414.2,185.7 415.3,184.3 414.9,183.9 415.8,183.2 416.7,182.6 415.6,182 414.6,181.4 415.7,180.4 416.7,179.4 417.8,178.4 419.2,177 419.6,175.8 418,175 416.5,174.2 416.9,172.7 414.9,171 415.6,169 414.3,167.7 412.9,166.5 414.1,164.7 412.6,164 411.1,163.3 411,161.7 412.3,161.5 413.6,161.1 414.9,160.6 415.7,160.2 416.4,159.8 418,160.5 419.6,161.2 421.1,161.4 422.7,161.5 424.3,161.7 426.1,162.3 427.9,163 429.7,163.6 431.5,164.2ZM658.9,157.8 658.1,157.9 657.3,158 655.8,157.3 656.1,156.8 656.3,156.4ZM585.9,152.6 585.5,152.5 585.8,151.6 586.7,151.5 587.5,151.4 587,151.8 586.5,152.2ZM589.8,148.7 590.6,148.6 591.5,148.5 592.4,148.4 594,148.6 595.6,148.7 597.2,148.9 597,149.3 596.7,149.7 595.3,149.6 593.9,149.5 591.8,149.1ZM580.4,149.9 577.8,149.2 575.3,148.6 573.9,147.2 574.7,147 575.4,146.8 576.8,146.8 578.2,146.9 579.6,146.9 581.4,147.2 583.2,147.4 585,147.7 586.9,148 588,149.4 586.6,149.4 585.1,149.4 583.7,149.4 582.2,149.4 581.3,149.6ZM517.7,141.8 518.3,142.6 517.1,142.7 515.8,142.8 514.6,143 513.4,143.1 512.1,143.2 510.9,143.3 510.7,142.1 510.3,140.8 511.3,140.6 512.5,140.8 514.2,141.1 516,141.5Z"/>
<path fill="#4393c3" d="M382.7,214 382.4,214.7 383.3,215.1 384.4,215.2 384.3,216.3 383.4,216.7 381.8,216.4 381.5,217.4 380.5,217.5 380.1,217.1 379,218 378,218.1 377.1,217.5 376.3,216.4 375.4,216.8 375.4,215.6 376.8,214.2 376.7,213.6 377.7,213.8 378.2,213.4 380,213.4 380.3,212.8 381.4,213.2 382.6,213.6ZM376.2,187.3 374.9,186.6 373.6,186 373.2,184.7 372.8,183.4 372.6,181.6 372.3,179.8 372,177.9 373.6,176.4 375.2,175.8 376.7,175.1 378.3,174.5 379.9,173.3 381.6,172.1 383.1,170.4 384.5,168.9 385.7,167.4 386.9,165.9 388.1,164.5 389.5,163.7 390.8,162.8 392.2,161.9 393.5,161 394.9,160 396.1,159.7 397.2,159.4 398.4,159.1 399.8,159.1 401.1,159.2 402.2,158.3 403.3,157.4 404.8,157.5 406.3,157.5 407.7,157.3 409.1,157.1 410.5,157.5 411.9,157.9 413.3,158.3 414.7,158.7 413.7,159 412.7,159.2 413.8,159.9 414.9,160.6 413.6,161.1 412.3,161.5 411,161.7 411.3,160.2 410.1,159.7 409,159.3 407.8,159.7 406.6,160 406.1,161.7 404.7,162.6 403.8,162.4 402.8,162.1 401.7,162.1 400.6,162.2 399.6,161.6 398.5,161 397.6,161.6 396.6,161.7 396.6,163.2 395,163 393.4,162.8 393.1,164.1 391.5,164.1 390.6,165.6 389.9,166.9 389.2,168.2 388,169.7 386.9,171.4 387.6,172.1 387.1,173.1 385.3,173 384.4,175.2 384.5,176.8 384.7,178.3 386,179.6 385.8,180.9 385.7,182.3 384.3,184 383.6,185.4 382.2,183.9 380.5,185.3 378.7,186.7 377.5,187ZM394.9,143.3 393.8,142.7 394.8,142.6 395.8,142.4 396.7,142.3 397.5,143 398.7,143.2 399.8,143.5 398.8,143.7 397.8,144 396.7,144.3 395.3,144 394,143.8ZM389.3,140 390.6,140.3 391.9,140.7 393.2,141 394.5,141.4 393.3,141.6 392.2,141.9 391,142.1 390.5,143.5 389.3,143.9 388.9,145.5 388,145.5 387.1,145.6 385.9,145.2 384.8,144.8 383.6,144.4 384.9,143.7 383.7,143.4 382.6,143.1 381,142.3 379.4,141.5 378.1,140.1 379.4,139.8 380.6,139.6 381.9,139.4 382.8,140 383.8,140 384.9,140 385.3,139.4 386.3,139.4 387.4,139.3 388.4,139.6ZM392,140.2 391.7,139.7 390.6,139.7 389.6,139.7 388.7,139.3 387.8,138.9 388.9,138.7 390,138.6 391,138.5 392.1,138.4 393.2,138.6 394.3,138.8 394.9,138.5 395.6,138.3 396.8,138.4 398,138.6 399.3,138.7 400.8,139 402.3,139.3 401.4,139.8 400.5,140.3 399.2,140.4 397.8,140.5 396.4,140.5 394.9,140.4 393.5,140.3ZM337.2,319 337.3,318.2 338.4,316.8 339.4,315.6 339.9,315.5 340.5,315.3 341.5,316.9 341.3,317.9 341.8,318.5 342.4,318.5 342.9,317.4 343.6,317.5 343.4,318.2 343.7,319.5 343.2,320.7 343.8,321.4 344.6,321.6 345.5,322.7 345.6,323.7 345.4,324 345.2,326.2 344.6,326.2 343.4,325.6 342.2,325 340.1,323 338.2,321.5 336.6,319.8ZM568.8,265.8 569,267.4 567.2,267.5 565.3,267.3 563.9,267.7 561.7,266.7 561.6,266.2 562.6,264.2 563.7,263.6 565.4,264.2 566.6,264.2 567.8,265ZM658,249.2 657.4,250.7 656.2,249.9 655.3,250.5 655.4,252.1 653.6,251.3 653.1,250.1 653.7,248.5 655,248.8 655.4,247.7 657.3,248.3ZM668.3,245.7 667.3,246.3 666.2,246.9 664.3,247 662.4,247.1 661.5,248.6 660.6,250.1 658.7,249 657.7,247.1 656,247.4 654.2,247.7 653.2,248.3 652.2,248.9 650.9,248.9 649.6,248.9 651.1,249.9 652.7,250.9 652.8,253.1 653,255.3 652,256.4 650.5,255.4 650.1,253.1 648.4,252.3 646.8,250.5 648.5,249.7 649,248.1 650.6,246.7 651.4,244.9 653.4,244.5 655.4,244.1 656.6,244.4 657.9,244.7 657.9,242.3 657.9,240 660,241.3 660.9,240 661.8,238.7 662.5,237.6 662.3,236 662.1,234.5 661.1,233 660,231.5 660,229.9 660.9,229.7 661.9,229.4 663.6,231.2 665.2,233 666.4,235.1 666.1,236.5 665.9,237.8 666.6,239.1 667.3,240.5 667.6,242.5 668.6,243.8ZM667.5,224.6 666.2,224.9 664.9,225.3 664.7,227.8 662.5,226.9 660.3,226.1 660.6,227.5 661,228.9 659.8,228.9 658.6,228.9 656.7,226.4 656.5,224.4 657.5,224.3 658.6,224.2 657.7,222.4 656.8,220.7 656,218.7 658.2,220 660.3,221.3 662.5,222.2 664.4,222.8 665.1,221.7 666.3,223.1ZM746.4,384.2 746,383.9 746.7,381.5 746.9,380 747.4,381 746.9,382.6ZM744.8,379.9 745.1,379.2 746.2,380.7 745.4,381ZM744.2,378.6 744,377.9 744.4,375.9 745.3,376.7 745.3,378.8 744.7,378.4Z"/>
<path fill="#b2182b" d="M638.3,227.2 637.4,227.1 637,228 636.9,228.9 638,230.7 637.2,231.3 637.1,231.7 636.7,232.5 635.5,232.9 634.9,233.6 635.4,234.8 635.4,235.1 636.4,235.5 638.2,236.6 637.4,237.4 635.9,237.5 635.6,238.7 634.6,238.6 634.6,238.9 633.3,238.4 633.3,238.9 632.8,239.1 632.5,238.6 631.8,238.3 631,237.9 631.1,236.8 631.4,236.5 631,236 630.8,234.6 630.5,234.2 629.1,233.9 627.7,233.2 628.6,231.5 629.4,230.8 630.2,230.1 630.6,228.3 632.1,229.1 634,229.2 632.9,227.8 634.2,227.3 635.5,226.7 635.4,225.3 637.7,226.8Z"/>
</g>
<g class="t"><text x="17.3" y="40.2" font-size="26" textLength="485.5" lengthAdjust="spacingAndGlyphs" fill="#3b3b3b">Respect for Counterarguments Score, 2025</text></g>
<g class="s" font-size="15" fill="#6b6b6b">
<text x="17" y="67.2" textLength="704.3" lengthAdjust="spacingAndGlyphs">Data by V-Dem. Expert estimates of the extent to which political leaders acknowledge and respect different</text>
<text x="17" y="85" textLength="704.3" lengthAdjust="spacingAndGlyphs">views and sometimes change their own. Higher scores mean more respect. A score of 0 is approximately the</text>
<text x="17" y="102.8" textLength="247" lengthAdjust="spacingAndGlyphs">average across all countries and years.</text>
</g>
<g id="logo">
<rect x="769" y="16" width="65" height="36" fill="#002147"/>
<rect x="769" y="49.2" width="65" height="2.8" fill="#ce261e"/>
<g font-family="'Liberation Sans',Arial,sans-serif" font-weight="700" font-size="11.6" fill="#fff" text-anchor="middle">
<text x="801.4" y="30.6" textLength="54.5" lengthAdjust="spacingAndGlyphs">Our World</text>
<text x="801.5" y="42.6" textLength="36.2" lengthAdjust="spacingAndGlyphs">in Data</text>
</g>
</g>
<g id="legend" class="s" font-size="12.5" fill="#5b5b5b">
<text x="157.9" y="530" textLength="45.6" lengthAdjust="spacingAndGlyphs">No data</text>
<line x1="181.2" y1="534.4" x2="181.2" y2="537.2" stroke="#999" stroke-width="0.6"/>
<rect x="157.3" y="537.4" width="47.3" height="11.2" fill="url(#h)" stroke="#a9a9a9" stroke-width="0.6"/>
<path d="M224.6,543 L230.4,537.2 H283.2 V548.8 H230.4Z" fill="#b2182b"/>
<rect x="283.2" y="537.2" width="58.4" height="11.6" fill="#d6604d"/>
<rect x="341.6" y="537.2" width="58.4" height="11.6" fill="#f4a582"/>
<rect x="400" y="537.2" width="58.4" height="11.6" fill="#fddbc7"/>
<rect x="458.4" y="537.2" width="58.4" height="11.6" fill="#d1e5f0"/>
<rect x="516.8" y="537.2" width="58.4" height="11.6" fill="#92c5de"/>
<rect x="575.2" y="537.2" width="58.4" height="11.6" fill="#4393c3"/>
<path d="M633.6,537.2 H686.4 L692.2,543 L686.4,548.8 H633.6Z" fill="#2166ac"/>
<path id="baroutline" d="M224.6,543 L230.4,537.2 H686.4 L692.2,543 L686.4,548.8 H230.4Z" fill="none" stroke="#9a9a9a" stroke-width="0.5"/>
<g stroke="#8a8a8a" stroke-width="0.6">
<line x1="283.2" y1="534" x2="283.2" y2="548.8"/><line x1="341.6" y1="534" x2="341.6" y2="548.8"/><line x1="400" y1="534" x2="400" y2="548.8"/>
<line x1="458.4" y1="534" x2="458.4" y2="548.8"/><line x1="516.8" y1="534" x2="516.8" y2="548.8"/><line x1="575.2" y1="534" x2="575.2" y2="548.8"/><line x1="633.6" y1="534" x2="633.6" y2="548.8"/>
</g>
<g text-anchor="middle">
<text x="283.2" y="530">-3</text><text x="341.6" y="530">-2</text><text x="400" y="530">-1</text><text x="458.4" y="530">0</text><text x="516.8" y="530">1</text><text x="575.2" y="530">2</text><text x="633.6" y="530">3</text>
</g>
</g>
<g id="footer" class="s" font-size="12.6" fill="#6a6a6a">
<text x="17" y="581.2"><tspan font-weight="700" textLength="71.4" lengthAdjust="spacingAndGlyphs">Data source:</tspan></text>
<text x="92.2" y="581.2" textLength="79.8" lengthAdjust="spacingAndGlyphs">V-Dem (2026)</text>
<text x="600.1" y="581.2" textLength="230.6" lengthAdjust="spacingAndGlyphs">OurWorldinData.org/democracy | CC BY</text>
</g>

</svg>
</body></html>
